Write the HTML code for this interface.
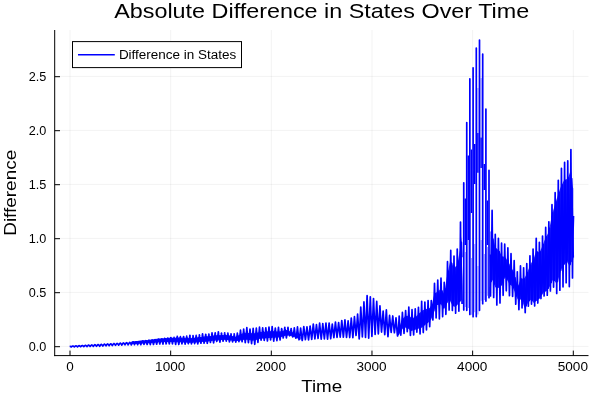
<!DOCTYPE html>
<html><head><meta charset="utf-8"><title>Absolute Difference in States Over Time</title>
<style>html,body{margin:0;padding:0;background:#fff;overflow:hidden}text{fill:#000}.tx{filter:grayscale(1)}body{width:600px;height:400px}</style></head>
<body>
<svg width="600" height="400" viewBox="0 0 600 400" style="will-change:transform;display:block;font-family:'Liberation Sans',sans-serif">
<rect width="600" height="400" fill="#fff"/>
<line x1="70.00" x2="70.00" y1="30.0" y2="355.6" stroke="#000" stroke-opacity="0.1" stroke-width="0.5"/>
<line x1="170.66" x2="170.66" y1="30.0" y2="355.6" stroke="#000" stroke-opacity="0.1" stroke-width="0.5"/>
<line x1="271.32" x2="271.32" y1="30.0" y2="355.6" stroke="#000" stroke-opacity="0.1" stroke-width="0.5"/>
<line x1="371.98" x2="371.98" y1="30.0" y2="355.6" stroke="#000" stroke-opacity="0.1" stroke-width="0.5"/>
<line x1="472.64" x2="472.64" y1="30.0" y2="355.6" stroke="#000" stroke-opacity="0.1" stroke-width="0.5"/>
<line x1="573.30" x2="573.30" y1="30.0" y2="355.6" stroke="#000" stroke-opacity="0.1" stroke-width="0.5"/>
<line x1="54.7" x2="588.5" y1="346.40" y2="346.40" stroke="#000" stroke-opacity="0.1" stroke-width="0.5"/>
<line x1="54.7" x2="588.5" y1="292.40" y2="292.40" stroke="#000" stroke-opacity="0.1" stroke-width="0.5"/>
<line x1="54.7" x2="588.5" y1="238.40" y2="238.40" stroke="#000" stroke-opacity="0.1" stroke-width="0.5"/>
<line x1="54.7" x2="588.5" y1="184.40" y2="184.40" stroke="#000" stroke-opacity="0.1" stroke-width="0.5"/>
<line x1="54.7" x2="588.5" y1="130.40" y2="130.40" stroke="#000" stroke-opacity="0.1" stroke-width="0.5"/>
<line x1="54.7" x2="588.5" y1="76.40" y2="76.40" stroke="#000" stroke-opacity="0.1" stroke-width="0.5"/>
<path d="M131.30,341.50 131.74,341.45 132.24,341.41 132.75,341.36 133.19,341.32 133.69,341.27 134.19,341.22 134.64,341.18 135.14,341.13 135.64,341.08 136.08,341.04 136.59,340.99 137.09,340.94 137.60,340.89 138.04,340.85 138.54,340.80 139.04,340.75 139.49,340.71 139.99,340.66 140.49,340.62 140.93,340.57 141.44,340.53 141.94,340.48 142.39,340.43 142.89,340.39 143.39,340.34 143.89,340.29 144.33,340.25 144.84,340.20 145.34,340.15 145.78,340.11 146.29,340.06 146.79,340.01 147.23,339.97 147.74,339.92 148.24,339.87 148.72,339.83 149.18,339.78 149.69,339.73 150.19,339.68 150.63,339.62 151.14,339.56 151.64,339.49 152.08,339.44 152.59,339.37 153.09,339.30 153.53,339.25 154.03,339.18 154.54,339.12 155.04,339.05 155.48,338.99 155.99,338.93 156.49,338.86 156.93,338.81 157.44,338.74 157.94,338.68 158.38,338.62 158.88,338.55 159.39,338.49 159.83,338.43 160.33,338.39 160.84,338.35 161.34,338.32 161.78,338.29 162.28,338.25 162.79,338.22 163.23,338.19 163.73,338.16 164.24,338.13 164.68,338.10 165.18,338.07 165.69,338.04 166.13,338.01 166.63,337.98 167.13,337.96 167.64,337.93 168.08,337.90 168.58,337.88 169.09,337.85 169.53,337.83 170.03,337.81 170.54,337.79 170.98,337.77 171.48,337.76 171.98,337.74 172.46,337.73 172.93,337.71 173.43,337.70 173.94,337.69 174.38,337.68 174.88,337.67 175.39,337.66 175.83,337.65 176.33,337.64 176.83,337.63 177.27,337.63 177.78,337.62 178.28,337.62 178.79,337.61 179.23,337.61 179.73,337.61 180.23,337.61 180.68,337.63 181.18,337.64 181.68,337.66 182.12,337.68 182.63,337.69 183.13,337.71 183.57,337.73 184.08,337.74 184.58,337.76 185.08,337.78 185.53,337.80 186.03,337.82 186.53,337.84 186.97,337.85 187.48,337.87 187.98,337.89 188.42,337.91 188.93,337.93 189.43,337.95 189.87,337.97 190.38,337.96 190.88,337.93 191.38,337.91 191.82,337.89 192.33,337.86 192.83,337.84 193.27,337.81 193.78,337.79 194.28,337.77 194.72,337.74 195.22,337.70 195.73,337.64 196.20,337.59 196.67,337.53 197.18,337.47 197.68,337.41 198.12,337.36 198.63,337.30 199.13,337.24 199.57,337.18 200.07,337.12 200.58,337.06 201.02,337.01 201.52,336.95 202.03,336.89 202.53,336.83 202.97,336.78 203.48,336.72 203.98,336.66 204.42,336.60 204.92,336.54 205.43,336.49 205.87,336.44 206.37,336.38 206.88,336.32 207.32,336.27 207.82,336.22 208.33,336.16 208.83,336.10 209.27,336.05 209.77,336.00 210.28,335.94 210.72,335.89 211.22,335.83 211.73,335.78 212.17,335.73 212.67,335.67 213.17,335.62 213.62,335.57 214.12,335.51 214.62,335.45 215.13,335.40 215.57,335.38 216.07,335.35 216.58,335.32 217.02,335.30 217.52,335.27 218.02,335.24 218.47,335.21 218.97,335.19 219.47,335.16 219.93,335.13 220.42,335.10 220.92,335.07 221.43,335.05 221.87,335.02 222.37,334.99 222.87,334.96 223.32,334.94 223.82,334.91 224.32,334.88 224.76,334.86 225.27,334.88 225.77,334.95 226.26,335.02 226.72,335.09 227.22,335.16 227.72,335.23 228.16,335.29 228.67,335.36 229.17,335.43 229.61,335.50 230.12,335.57 230.62,335.64 231.06,335.71 231.57,335.82 232.07,335.93 232.57,336.04 233.01,336.14 233.52,336.26 234.02,336.37 234.46,336.47 234.97,336.58 235.47,336.69 235.91,336.79 236.42,336.57 236.92,336.28 237.36,336.02 237.86,335.73 238.37,335.43 238.87,335.14 239.31,334.88 239.82,334.59 240.32,334.37 240.76,334.22 241.27,334.04 241.77,333.87 242.21,333.71 242.71,333.54 243.22,333.36 243.67,333.21 244.16,333.04 244.67,332.86 245.17,332.75 245.61,332.78 246.12,332.81 246.62,332.85 247.06,332.87 247.56,332.91 248.07,332.94 248.51,332.97 249.01,333.00 249.52,333.03 250.00,333.06 250.46,333.09 250.96,333.12 251.47,333.15 251.91,333.18 252.41,333.21 252.92,333.25 253.36,333.27 253.86,333.31 254.37,333.24 254.81,333.14 255.31,333.04 255.81,332.93 256.32,332.83 256.76,332.73 257.26,332.63 257.77,332.52 258.21,332.43 258.71,332.32 259.22,332.22 259.66,332.13 260.16,332.04 260.66,331.99 261.10,331.95 261.61,331.90 262.11,331.86 262.62,331.81 263.06,331.77 263.56,331.72 264.07,331.67 264.51,331.63 265.01,331.59 265.51,331.54 265.95,331.50 266.46,331.45 266.96,331.40 267.41,331.36 267.91,331.32 268.41,331.27 268.91,331.22 269.36,331.18 269.86,331.13 270.36,331.14 270.80,331.16 271.31,331.18 271.81,331.21 272.25,331.23 272.76,331.25 273.26,331.28 273.74,331.30 274.21,331.32 274.71,331.35 275.21,331.37 275.65,331.39 276.16,331.42 276.66,331.44 277.10,331.46 277.61,331.49 278.11,331.51 278.55,331.53 279.06,331.56 279.56,331.58 280.06,331.59 280.50,331.46 281.01,331.32 281.51,331.18 281.95,331.05 282.46,330.91 282.96,330.77 283.40,330.65 283.90,330.50 284.41,330.36 284.85,330.24 285.35,330.10 285.86,329.95 286.36,330.01 286.80,330.12 287.31,330.26 287.81,330.39 288.25,330.59 288.75,330.89 289.26,331.17 289.70,331.41 290.20,331.62 290.71,331.77 291.15,331.90 291.65,332.07 292.16,332.24 292.66,332.43 293.10,332.61 293.60,332.81 294.11,333.03 294.55,333.24 295.05,333.48 295.56,333.79 296.00,334.07 296.50,334.39 297.01,334.71 297.47,335.01 297.95,335.33 298.45,335.66 298.96,336.00 299.40,336.30 299.90,336.65 300.41,337.07 L300.41,339.77 299.90,339.47 299.40,339.25 298.96,339.05 298.45,338.83 297.95,338.61 297.47,338.41 297.01,338.21 296.50,338.00 296.00,337.79 295.56,337.60 295.05,337.40 294.55,337.21 294.11,337.06 293.60,336.89 293.10,336.72 292.66,336.58 292.16,336.42 291.65,336.27 291.15,336.12 290.71,335.99 290.20,335.85 289.70,335.75 289.26,335.69 288.75,335.61 288.25,335.53 287.81,335.48 287.31,335.47 286.80,335.45 286.36,335.44 285.86,335.47 285.35,335.63 284.85,335.78 284.41,335.92 283.90,336.08 283.40,336.24 282.96,336.37 282.46,336.53 281.95,336.69 281.51,336.83 281.01,336.99 280.50,337.14 280.06,337.28 279.56,337.33 279.06,337.37 278.55,337.40 278.11,337.43 277.61,337.47 277.10,337.50 276.66,337.53 276.16,337.57 275.65,337.60 275.21,337.64 274.71,337.67 274.21,337.71 273.74,337.74 273.26,337.77 272.76,337.81 272.25,337.84 271.81,337.87 271.31,337.91 270.80,337.94 270.36,337.97 269.86,338.01 269.36,338.04 268.91,338.07 268.41,338.11 267.91,338.14 267.41,338.18 266.96,338.21 266.46,338.24 265.95,338.27 265.51,338.30 265.01,338.34 264.51,338.37 264.07,338.40 263.56,338.43 263.06,338.47 262.62,338.50 262.11,338.53 261.61,338.57 261.10,338.60 260.66,338.63 260.16,338.66 259.66,338.79 259.22,338.94 258.71,339.10 258.21,339.27 257.77,339.42 257.26,339.59 256.76,339.76 256.32,339.90 255.81,340.07 255.31,340.24 254.81,340.41 254.37,340.55 253.86,340.66 253.36,340.59 252.92,340.54 252.41,340.48 251.91,340.41 251.47,340.36 250.96,340.30 250.46,340.23 250.00,340.17 249.52,340.11 249.01,340.05 248.51,339.99 248.07,339.93 247.56,339.87 247.06,339.81 246.62,339.75 246.12,339.69 245.61,339.63 245.17,339.57 244.67,339.62 244.16,339.72 243.67,339.82 243.22,339.91 242.71,340.01 242.21,340.11 241.77,340.20 241.27,340.30 240.76,340.40 240.32,340.49 239.82,340.58 239.31,340.67 238.87,340.75 238.37,340.84 237.86,340.92 237.36,341.01 236.92,341.09 236.42,341.18 235.91,341.24 235.47,341.17 234.97,341.10 234.46,341.02 234.02,340.95 233.52,340.88 233.01,340.80 232.57,340.74 232.07,340.66 231.57,340.58 231.06,340.51 230.62,340.46 230.12,340.40 229.61,340.34 229.17,340.29 228.67,340.23 228.16,340.17 227.72,340.12 227.22,340.06 226.72,340.00 226.26,339.95 225.77,339.89 225.27,339.83 224.76,339.82 224.32,339.86 223.82,339.90 223.32,339.94 222.87,339.98 222.37,340.02 221.87,340.06 221.43,340.09 220.92,340.14 220.42,340.18 219.93,340.22 219.47,340.26 218.97,340.30 218.47,340.34 218.02,340.38 217.52,340.42 217.02,340.46 216.58,340.49 216.07,340.54 215.57,340.58 215.13,340.61 214.62,340.66 214.12,340.72 213.62,340.77 213.17,340.82 212.67,340.87 212.17,340.92 211.73,340.97 211.22,341.02 210.72,341.07 210.28,341.12 209.77,341.17 209.27,341.23 208.83,341.27 208.33,341.33 207.82,341.38 207.32,341.43 206.88,341.48 206.37,341.53 205.87,341.58 205.43,341.63 204.92,341.68 204.42,341.73 203.98,341.77 203.48,341.81 202.97,341.86 202.53,341.90 202.03,341.94 201.52,341.99 201.02,342.03 200.58,342.07 200.07,342.12 199.57,342.16 199.13,342.20 198.63,342.25 198.12,342.29 197.68,342.33 197.18,342.38 196.67,342.42 196.20,342.47 195.73,342.51 195.22,342.55 194.72,342.58 194.28,342.60 193.78,342.61 193.27,342.63 192.83,342.64 192.33,342.66 191.82,342.68 191.38,342.69 190.88,342.71 190.38,342.72 189.87,342.73 189.43,342.70 188.93,342.68 188.42,342.65 187.98,342.63 187.48,342.61 186.97,342.58 186.53,342.56 186.03,342.54 185.53,342.51 185.08,342.49 184.58,342.47 184.08,342.45 183.57,342.42 183.13,342.41 182.63,342.38 182.12,342.36 181.68,342.34 181.18,342.32 180.68,342.30 180.23,342.28 179.73,342.26 179.23,342.24 178.79,342.22 178.28,342.20 177.78,342.18 177.27,342.16 176.83,342.14 176.33,342.12 175.83,342.11 175.39,342.09 174.88,342.08 174.38,342.06 173.94,342.05 173.43,342.04 172.93,342.02 172.46,342.01 171.98,342.00 171.48,341.99 170.98,341.98 170.54,341.97 170.03,341.97 169.53,341.97 169.09,341.98 168.58,341.98 168.08,341.99 167.64,342.00 167.13,342.01 166.63,342.02 166.13,342.03 165.69,342.04 165.18,342.05 164.68,342.06 164.24,342.07 163.73,342.08 163.23,342.09 162.79,342.11 162.28,342.12 161.78,342.13 161.34,342.15 160.84,342.16 160.33,342.18 159.83,342.20 159.39,342.24 158.88,342.29 158.38,342.33 157.94,342.37 157.44,342.41 156.93,342.45 156.49,342.49 155.99,342.53 155.48,342.58 155.04,342.61 154.54,342.66 154.03,342.70 153.53,342.74 153.09,342.78 152.59,342.82 152.08,342.87 151.64,342.90 151.14,342.95 150.63,342.99 150.19,343.03 149.69,343.06 149.18,343.10 148.72,343.12 148.24,343.15 147.74,343.19 147.23,343.22 146.79,343.24 146.29,343.28 145.78,343.31 145.34,343.33 144.84,343.37 144.33,343.40 143.89,343.42 143.39,343.46 142.89,343.49 142.39,343.52 141.94,343.55 141.44,343.58 140.93,343.61 140.49,343.64 139.99,343.67 139.49,343.70 139.04,343.73 138.54,343.76 138.04,343.79 137.60,343.82 137.09,343.85 136.59,343.88 136.08,343.91 135.64,343.94 135.14,343.97 134.64,344.00 134.19,344.03 133.69,344.06 133.19,344.09 132.75,344.12 132.24,344.15 131.74,344.18 131.30,344.21Z M397.34,331.60 397.78,331.16 398.28,330.62 398.79,329.68 399.23,328.34 399.73,326.79 400.23,325.22 400.74,323.64 401.18,322.25 401.68,320.63 402.19,319.41 402.63,318.94 403.13,318.40 403.64,317.86 404.08,317.39 404.58,316.85 405.08,316.37 405.59,316.25 406.03,316.14 406.53,316.01 407.04,315.89 407.48,315.77 407.98,315.64 408.48,315.51 408.93,315.88 409.43,316.32 409.93,316.77 410.43,317.20 410.88,317.59 411.38,317.91 411.89,318.18 412.33,318.11 412.83,317.89 413.33,317.68 413.78,317.50 414.28,317.28 414.78,317.07 415.24,316.88 415.73,316.67 416.23,316.33 416.74,315.83 417.18,315.39 417.68,314.89 418.18,314.39 418.63,313.95 419.13,313.45 419.63,312.94 420.07,312.52 420.58,312.15 421.08,311.78 421.59,311.41 422.03,311.07 422.53,310.54 423.03,310.04 423.47,309.89 423.98,309.73 424.48,309.56 424.92,309.42 425.43,309.26 425.93,309.10 426.43,308.93 426.88,308.82 427.38,308.70 427.88,308.58 428.32,308.48 428.83,308.36 429.33,308.25 429.77,307.77 430.28,306.98 430.78,306.20 431.28,305.42 431.73,304.73 432.23,303.31 432.73,301.11 433.17,299.19 433.68,296.99 434.18,294.79 434.62,293.32 435.13,292.99 435.63,292.77 436.12,292.55 436.58,292.36 437.08,292.14 437.58,291.91 438.02,291.70 438.53,291.15 439.03,290.59 439.47,290.11 439.98,289.55 440.48,288.99 440.98,288.44 441.42,289.18 441.93,290.07 442.43,290.97 442.87,291.75 443.38,292.65 443.88,293.54 444.32,292.13 444.83,289.42 445.33,286.62 445.83,283.82 446.27,281.09 446.78,277.74 447.28,274.90 447.72,272.79 448.23,270.35 448.73,267.88 449.17,265.79 449.68,263.53 450.18,261.22 450.68,261.34 451.12,261.82 451.63,262.38 452.13,263.25 452.57,264.68 453.08,266.30 453.58,267.61 454.02,267.43 454.53,267.22 455.03,266.91 455.53,266.61 455.97,266.34 456.48,266.05 456.98,265.76 457.42,263.39 457.93,260.63 458.43,257.92 458.88,255.57 459.38,252.99 459.88,250.44 460.38,248.05 460.82,245.11 461.33,241.00 461.83,236.65 L461.83,300.08 461.33,300.61 460.82,301.09 460.38,301.39 459.88,301.69 459.38,302.30 458.88,302.93 458.43,303.49 457.93,304.14 457.42,304.81 456.98,305.39 456.48,305.69 455.97,305.99 455.53,306.26 455.03,306.56 454.53,306.87 454.02,306.65 453.58,306.44 453.08,305.96 452.57,305.43 452.13,304.97 451.63,304.11 451.12,303.12 450.68,302.23 450.18,301.28 449.68,300.86 449.17,300.48 448.73,300.70 448.23,301.37 447.72,302.05 447.28,302.67 446.78,303.54 446.27,304.64 445.83,305.59 445.33,306.66 444.83,307.80 444.32,308.78 443.88,309.02 443.38,308.25 442.87,307.45 442.43,306.73 441.93,305.87 441.42,304.97 440.98,304.20 440.48,304.30 439.98,304.42 439.47,304.54 439.03,304.65 438.53,304.78 438.02,304.92 437.58,304.92 437.08,304.90 436.58,305.56 436.12,306.26 435.63,307.02 435.13,307.78 434.62,308.78 434.18,310.23 433.68,311.96 433.17,313.58 432.73,314.95 432.23,316.46 431.73,317.64 431.28,318.46 430.78,319.39 430.28,320.32 429.77,321.10 429.33,321.57 428.83,321.98 428.32,322.38 427.88,322.74 427.38,323.14 426.88,323.54 426.43,323.90 425.93,324.31 425.43,324.71 424.92,325.11 424.48,325.46 423.98,325.86 423.47,326.26 423.03,326.61 422.53,327.11 422.03,327.62 421.59,327.74 421.08,327.86 420.58,327.97 420.07,328.09 419.63,328.23 419.13,328.39 418.63,328.55 418.18,328.69 417.68,328.86 417.18,329.03 416.74,329.17 416.23,329.34 415.73,329.51 415.24,329.67 414.78,329.83 414.28,330.00 413.78,330.16 413.33,330.31 412.83,330.48 412.33,330.65 411.89,330.76 411.38,330.76 410.88,330.66 410.43,330.31 409.93,329.92 409.43,329.52 408.93,329.13 408.48,328.79 407.98,328.60 407.48,328.41 407.04,328.24 406.53,328.06 406.03,327.87 405.59,327.71 405.08,327.53 404.58,327.67 404.08,327.88 403.64,328.06 403.13,328.27 402.63,328.48 402.19,328.67 401.68,329.34 401.18,330.28 400.74,331.10 400.23,332.03 399.73,332.95 399.23,333.86 398.79,334.66 398.28,334.95 397.78,334.86 397.34,334.76Z M490.43,230.81 490.87,231.86 491.37,233.38 491.87,235.23 492.32,236.17 492.82,237.76 493.32,239.44 493.76,240.98 494.27,242.83 494.77,244.75 495.26,246.70 495.72,247.74 496.22,248.16 496.72,248.59 497.16,248.96 497.67,249.38 498.17,249.81 498.61,250.13 499.12,250.55 499.62,251.58 500.06,252.46 500.57,253.44 501.07,254.39 501.56,255.30 502.01,256.02 502.52,256.39 503.02,256.53 503.46,256.62 503.97,256.67 504.47,256.67 504.91,256.92 505.42,257.61 505.92,258.43 506.36,259.15 506.86,259.98 507.37,260.81 507.87,261.65 508.31,262.41 508.82,263.47 509.32,264.58 509.76,265.54 510.27,266.49 510.77,267.30 511.21,267.99 511.71,268.78 512.22,269.64 512.66,270.52 513.16,271.84 513.67,273.15 514.17,274.46 514.61,275.62 515.11,277.33 515.62,279.15 516.06,280.67 516.56,282.41 517.07,284.14 517.51,285.62 518.01,285.51 518.52,284.82 518.96,283.66 519.46,282.33 519.96,280.99 520.47,279.63 520.91,278.46 521.41,278.20 521.92,278.18 522.36,278.43 522.86,278.70 523.37,278.96 523.81,279.07 524.31,278.30 524.81,277.48 525.26,276.68 525.76,275.69 526.26,274.71 526.77,273.73 527.21,272.65 527.71,271.31 528.22,270.02 528.66,268.94 529.16,267.71 529.66,266.47 530.10,265.42 530.61,264.32 531.11,263.29 531.55,262.58 532.06,261.75 532.56,260.92 533.06,260.07 533.51,258.93 534.01,257.47 534.51,255.89 534.95,254.50 535.46,252.91 535.96,251.31 536.40,250.51 536.91,250.89 537.41,251.23 537.85,251.54 538.36,251.89 538.86,252.25 539.36,252.62 539.80,251.77 540.31,250.67 540.81,249.58 541.25,248.63 541.76,247.54 542.26,246.44 542.70,245.34 543.21,243.91 543.71,242.56 544.15,241.37 544.65,240.01 545.16,238.65 545.66,237.45 546.10,236.71 546.61,235.86 547.11,234.97 547.55,234.15 548.05,233.22 548.56,232.28 549.00,230.61 549.50,227.96 550.01,225.30 550.45,222.93 550.95,220.23 551.46,217.52 551.96,214.90 552.40,213.31 552.90,211.49 553.41,209.81 553.85,208.41 554.35,206.80 554.86,205.19 555.30,203.61 555.80,201.72 556.31,200.10 556.75,198.85 557.25,197.43 557.75,195.79 558.26,194.18 558.70,192.82 559.20,191.27 559.71,189.72 560.15,188.49 560.65,187.13 561.16,185.79 561.60,185.05 562.10,184.27 562.60,183.26 563.04,182.37 563.55,181.35 564.05,180.32 564.56,179.58 565.00,179.49 565.50,179.38 566.01,179.28 566.45,179.19 566.95,179.11 567.45,179.29 567.89,178.22 568.40,176.83 568.90,175.44 569.34,174.22 569.85,172.83 570.35,171.10 570.85,169.22 571.30,173.15 571.80,178.38 572.30,183.61 572.74,186.56 573.25,188.43 L573.25,259.15 572.74,260.39 572.30,261.21 571.80,261.78 571.30,262.35 570.85,262.97 570.35,264.96 569.85,266.13 569.34,265.43 568.90,264.82 568.40,264.13 567.89,263.43 567.45,262.79 566.95,261.78 566.45,262.20 566.01,262.70 565.50,263.28 565.00,263.86 564.56,264.36 564.05,265.07 563.55,265.79 563.04,266.45 562.60,267.02 562.10,267.67 561.60,268.89 561.16,270.09 560.65,271.55 560.15,273.13 559.71,274.64 559.20,276.36 558.70,278.08 558.26,279.56 557.75,281.26 557.25,282.95 556.75,282.95 556.31,282.92 555.80,282.66 555.30,282.11 554.86,281.61 554.35,281.01 553.85,280.41 553.41,279.87 552.90,279.89 552.40,280.90 551.96,281.78 551.46,282.87 550.95,283.96 550.45,285.05 550.01,285.99 549.50,286.89 549.00,287.78 548.56,288.49 548.05,289.20 547.55,289.92 547.11,290.55 546.61,290.98 546.10,291.21 545.66,291.41 545.16,291.67 544.65,291.94 544.15,292.20 543.71,292.43 543.21,292.69 542.70,293.45 542.26,294.21 541.76,295.07 541.25,295.92 540.81,296.67 540.31,297.52 539.80,298.26 539.36,298.74 538.86,299.18 538.36,299.61 537.85,300.04 537.41,300.41 536.91,300.83 536.40,301.01 535.96,301.27 535.46,301.64 534.95,302.02 534.51,302.35 534.01,302.73 533.51,302.65 533.06,302.14 532.56,301.52 532.06,300.91 531.55,300.30 531.11,299.78 530.61,300.07 530.10,300.63 529.66,301.12 529.16,301.70 528.66,302.27 528.22,302.78 527.71,303.61 527.21,304.63 526.77,305.51 526.26,306.47 525.76,307.44 525.26,308.40 524.81,308.37 524.31,307.02 523.81,305.70 523.37,304.43 522.86,302.95 522.36,301.49 521.92,300.21 521.41,299.52 520.91,299.37 520.47,299.53 519.96,299.73 519.46,299.95 518.96,300.18 518.52,300.38 518.01,299.52 517.51,299.08 517.07,297.98 516.56,296.70 516.06,295.42 515.62,294.30 515.11,292.91 514.61,291.49 514.17,290.41 513.67,289.17 513.16,287.93 512.66,286.69 512.22,286.13 511.71,285.83 511.21,285.56 510.77,285.33 510.27,285.06 509.76,284.49 509.32,283.71 508.82,282.81 508.31,281.94 507.87,281.24 507.37,280.46 506.86,279.69 506.36,278.95 505.92,278.30 505.42,277.55 504.91,276.88 504.47,277.54 503.97,279.09 503.46,280.64 503.02,282.00 502.52,283.55 502.01,285.04 501.56,285.61 501.07,285.95 500.57,286.31 500.06,286.66 499.62,286.97 499.12,287.32 498.61,287.94 498.17,288.03 497.67,287.92 497.16,287.81 496.72,287.71 496.22,287.60 495.72,287.49 495.26,287.29 494.77,285.92 494.27,284.53 493.76,283.20 493.32,282.08 492.82,280.85 492.32,279.68 491.87,280.65 491.37,282.05 490.87,283.68 490.43,285.27Z" fill="#0000ff" fill-opacity="0.85" stroke="none"/>
<path d="M131.30,342.84 131.32,342.85 131.36,342.88 131.42,342.91 131.49,342.95 131.55,342.98 131.61,343.02 131.68,343.06 131.74,343.09 131.80,343.13 131.86,343.17 131.93,343.20 131.99,343.24 132.05,343.28 132.12,343.30 132.18,343.26 132.24,343.21 132.30,343.16 132.37,343.12 132.43,343.07 132.49,343.03 132.56,342.98 132.62,342.93 132.68,342.89 132.75,342.84 132.81,342.79 132.87,342.75 132.90,342.73 132.93,342.70 133.00,342.65 133.06,342.60 133.12,342.56 133.19,342.51 133.25,342.46 133.31,342.41 133.38,342.36 133.44,342.31 133.50,342.26 133.56,342.22 133.63,342.17 133.69,342.12 133.75,342.16 133.82,342.19 133.88,342.23 133.94,342.27 134.01,342.31 134.07,342.35 134.13,342.38 134.19,342.42 134.26,342.46 134.32,342.50 134.38,342.54 134.45,342.58 134.48,342.60 134.51,342.62 134.57,342.66 134.64,342.70 134.70,342.74 134.76,342.78 134.82,342.82 134.89,342.86 134.95,342.90 135.01,342.94 135.08,342.98 135.14,343.02 135.20,343.07 135.27,343.11 135.33,343.07 135.39,343.02 135.45,342.97 135.52,342.92 135.58,342.87 135.64,342.82 135.71,342.77 135.77,342.71 135.83,342.66 135.89,342.61 135.96,342.56 136.02,342.51 136.06,342.48 136.08,342.46 136.15,342.41 136.21,342.36 136.27,342.30 136.34,342.25 136.40,342.20 136.46,342.15 136.52,342.09 136.59,342.04 136.65,341.99 136.71,341.93 136.78,341.88 136.84,341.83 136.90,341.85 136.97,341.89 137.03,341.93 137.09,341.97 137.15,342.02 137.22,342.06 137.28,342.10 137.34,342.14 137.41,342.19 137.47,342.23 137.53,342.27 137.60,342.32 137.65,342.35 137.66,342.36 137.72,342.40 137.78,342.45 137.85,342.49 137.91,342.54 137.97,342.58 138.04,342.63 138.10,342.67 138.16,342.72 138.23,342.76 138.29,342.81 138.35,342.85 138.41,342.90 138.48,342.88 138.54,342.83 138.60,342.77 138.67,342.72 138.73,342.66 138.79,342.61 138.86,342.55 138.92,342.50 138.98,342.44 139.04,342.39 139.11,342.33 139.17,342.28 139.23,342.23 139.23,342.22 139.30,342.17 139.36,342.11 139.42,342.05 139.49,342.00 139.55,341.94 139.61,341.88 139.67,341.83 139.74,341.77 139.80,341.71 139.86,341.65 139.93,341.60 139.99,341.54 140.05,341.54 140.11,341.58 140.18,341.63 140.24,341.67 140.30,341.72 140.37,341.77 140.43,341.81 140.49,341.86 140.56,341.91 140.62,341.96 140.68,342.00 140.74,342.05 140.81,342.10 140.81,342.10 140.87,342.15 140.93,342.20 141.00,342.24 141.06,342.29 141.12,342.34 141.19,342.39 141.25,342.44 141.31,342.49 141.37,342.54 141.44,342.59 141.50,342.64 141.56,342.69 141.63,342.69 141.69,342.64 141.75,342.58 141.82,342.52 141.88,342.46 141.94,342.40 142.00,342.34 142.07,342.28 142.13,342.22 142.19,342.17 142.26,342.11 142.32,342.05 142.38,341.99 142.39,341.98 142.45,341.93 142.51,341.87 142.57,341.80 142.63,341.74 142.70,341.68 142.76,341.62 142.82,341.56 142.89,341.50 142.95,341.44 143.01,341.38 143.08,341.32 143.14,341.25 143.20,341.22 143.26,341.27 143.33,341.32 143.39,341.37 143.45,341.42 143.52,341.47 143.58,341.53 143.64,341.58 143.70,341.63 143.77,341.68 143.83,341.73 143.89,341.78 143.96,341.84 143.97,341.85 144.02,341.89 144.08,341.94 144.15,341.99 144.21,342.05 144.27,342.10 144.33,342.15 144.40,342.21 144.46,342.26 144.52,342.31 144.59,342.37 144.65,342.42 144.71,342.47 144.78,342.51 144.84,342.45 144.90,342.39 144.96,342.32 145.03,342.26 145.09,342.20 145.15,342.13 145.22,342.07 145.28,342.01 145.34,341.94 145.41,341.88 145.47,341.82 145.53,341.75 145.56,341.73 145.59,341.69 145.66,341.62 145.72,341.56 145.78,341.49 145.85,341.43 145.91,341.36 145.97,341.30 146.04,341.23 146.10,341.17 146.16,341.10 146.22,341.04 146.29,340.97 146.35,340.91 146.41,340.96 146.48,341.02 146.54,341.07 146.60,341.12 146.67,341.18 146.73,341.24 146.79,341.29 146.85,341.35 146.92,341.40 146.98,341.46 147.04,341.51 147.11,341.57 147.14,341.60 147.17,341.63 147.23,341.68 147.29,341.74 147.36,341.80 147.42,341.85 147.48,341.91 147.55,341.97 147.61,342.03 147.67,342.08 147.74,342.14 147.80,342.20 147.86,342.26 147.92,342.32 147.99,342.26 148.05,342.20 148.11,342.13 148.18,342.06 148.24,342.00 148.30,341.93 148.37,341.86 148.43,341.79 148.49,341.73 148.55,341.66 148.62,341.59 148.68,341.52 148.72,341.48 148.74,341.45 148.81,341.38 148.87,341.32 148.93,341.25 149.00,341.18 149.06,341.11 149.12,341.04 149.18,340.97 149.25,340.90 149.31,340.83 149.37,340.76 149.44,340.69 149.50,340.62 149.56,340.65 149.63,340.71 149.69,340.76 149.75,340.82 149.81,340.88 149.88,340.94 149.94,341.00 150.00,341.06 150.07,341.12 150.13,341.18 150.19,341.24 150.26,341.30 150.30,341.34 150.32,341.35 150.38,341.41 150.44,341.47 150.51,341.53 150.57,341.59 150.63,341.65 150.70,341.71 150.76,341.77 150.82,341.83 150.88,341.90 150.95,341.96 151.01,342.02 151.07,342.08 151.14,342.05 151.20,341.98 151.26,341.91 151.33,341.84 151.39,341.76 151.45,341.69 151.51,341.61 151.58,341.54 151.64,341.47 151.70,341.39 151.77,341.32 151.83,341.24 151.89,341.17 151.89,341.17 151.96,341.09 152.02,341.01 152.08,340.94 152.14,340.86 152.21,340.79 152.27,340.71 152.33,340.63 152.40,340.56 152.46,340.48 152.52,340.40 152.59,340.32 152.65,340.25 152.71,340.24 152.77,340.30 152.84,340.36 152.90,340.43 152.96,340.49 153.03,340.55 153.09,340.62 153.15,340.68 153.22,340.74 153.28,340.81 153.34,340.87 153.40,340.94 153.47,341.00 153.47,341.00 153.53,341.06 153.59,341.13 153.66,341.19 153.72,341.26 153.78,341.33 153.85,341.39 153.91,341.46 153.97,341.52 154.03,341.59 154.10,341.66 154.16,341.72 154.22,341.79 154.29,341.80 154.35,341.72 154.41,341.64 154.47,341.56 154.54,341.48 154.60,341.41 154.66,341.33 154.73,341.25 154.79,341.17 154.85,341.09 154.92,341.01 154.98,340.93 155.04,340.85 155.05,340.83 155.10,340.76 155.17,340.68 155.23,340.60 155.29,340.52 155.36,340.44 155.42,340.36 155.48,340.27 155.55,340.19 155.61,340.11 155.67,340.03 155.73,339.94 155.80,339.86 155.86,339.82 155.92,339.88 155.99,339.95 156.05,340.02 156.11,340.09 156.18,340.16 156.24,340.23 156.30,340.29 156.36,340.36 156.43,340.43 156.49,340.50 156.55,340.57 156.62,340.64 156.63,340.66 156.68,340.71 156.74,340.78 156.81,340.85 156.87,340.92 156.93,340.99 156.99,341.07 157.06,341.14 157.12,341.21 157.18,341.28 157.25,341.35 157.31,341.43 157.37,341.50 157.44,341.55 157.50,341.46 157.56,341.38 157.62,341.30 157.69,341.21 157.75,341.13 157.81,341.04 157.88,340.96 157.94,340.87 158.00,340.79 158.06,340.70 158.13,340.61 158.19,340.53 158.22,340.49 158.25,340.44 158.32,340.35 158.38,340.27 158.44,340.18 158.51,340.09 158.57,340.01 158.63,339.92 158.69,339.83 158.76,339.74 158.82,339.65 158.88,339.56 158.95,339.48 159.01,339.39 159.07,339.46 159.14,339.54 159.20,339.61 159.26,339.68 159.32,339.76 159.39,339.83 159.45,339.91 159.51,339.98 159.58,340.06 159.64,340.13 159.70,340.21 159.77,340.28 159.80,340.32 159.83,340.36 159.89,340.43 159.95,340.51 160.02,340.59 160.08,340.67 160.14,340.75 160.21,340.83 160.27,340.91 160.33,340.99 160.40,341.07 160.46,341.15 160.52,341.23 160.58,341.31 160.65,341.24 160.71,341.16 160.77,341.07 160.84,340.99 160.90,340.90 160.96,340.81 161.03,340.72 161.09,340.64 161.15,340.55 161.21,340.46 161.28,340.38 161.34,340.29 161.38,340.23 161.40,340.20 161.47,340.11 161.53,340.02 161.59,339.93 161.65,339.85 161.72,339.76 161.78,339.67 161.84,339.58 161.91,339.49 161.97,339.40 162.03,339.31 162.10,339.22 162.16,339.13 162.22,339.17 162.28,339.25 162.35,339.34 162.41,339.42 162.47,339.50 162.54,339.58 162.60,339.67 162.66,339.75 162.73,339.83 162.79,339.92 162.85,340.00 162.91,340.09 162.96,340.15 162.98,340.17 163.04,340.26 163.10,340.34 163.17,340.43 163.23,340.51 163.29,340.60 163.36,340.68 163.42,340.77 163.48,340.85 163.54,340.94 163.61,341.03 163.67,341.11 163.73,341.20 163.80,341.17 163.86,341.08 163.92,340.99 163.99,340.90 164.05,340.81 164.11,340.72 164.17,340.63 164.24,340.54 164.30,340.44 164.36,340.35 164.43,340.26 164.49,340.17 164.55,340.08 164.55,340.08 164.62,339.98 164.68,339.89 164.74,339.80 164.80,339.70 164.87,339.61 164.93,339.52 164.99,339.42 165.06,339.33 165.12,339.24 165.18,339.14 165.25,339.05 165.31,338.95 165.37,338.95 165.43,339.04 165.50,339.13 165.56,339.22 165.62,339.30 165.69,339.39 165.75,339.48 165.81,339.57 165.87,339.66 165.94,339.75 166.00,339.84 166.06,339.93 166.13,340.02 166.13,340.02 166.19,340.11 166.25,340.20 166.32,340.29 166.38,340.38 166.44,340.47 166.50,340.56 166.57,340.65 166.63,340.74 166.69,340.83 166.76,340.92 166.82,341.01 166.88,341.11 166.95,341.12 167.01,341.03 167.07,340.93 167.13,340.84 167.20,340.74 167.26,340.65 167.32,340.55 167.39,340.46 167.45,340.36 167.51,340.27 167.58,340.17 167.64,340.07 167.70,339.98 167.71,339.96 167.76,339.88 167.83,339.78 167.89,339.69 167.95,339.59 168.02,339.49 168.08,339.39 168.14,339.30 168.21,339.20 168.27,339.10 168.33,339.00 168.39,338.90 168.46,338.80 168.52,338.76 168.58,338.85 168.65,338.94 168.71,339.04 168.77,339.13 168.84,339.22 168.90,339.32 168.96,339.41 169.02,339.50 169.09,339.60 169.15,339.69 169.21,339.79 169.28,339.88 169.29,339.91 169.34,339.98 169.40,340.07 169.46,340.17 169.53,340.26 169.59,340.36 169.65,340.45 169.72,340.55 169.78,340.64 169.84,340.74 169.91,340.84 169.97,340.93 170.03,341.03 170.09,341.10 170.16,341.00 170.22,340.91 170.28,340.81 170.35,340.71 170.41,340.61 170.47,340.52 170.54,340.42 170.60,340.32 170.66,340.22 170.72,340.12 170.79,340.02 170.85,339.92 170.88,339.88 170.91,339.82 170.98,339.72 171.04,339.62 171.10,339.52 171.17,339.42 171.23,339.32 171.29,339.21 171.35,339.11 171.42,339.01 171.48,338.91 171.54,338.80 171.61,338.70 171.67,338.60 171.73,338.70 171.80,338.80 171.86,338.90 171.92,339.00 171.98,339.10 172.05,339.20 172.11,339.31 172.17,339.41 172.24,339.51 172.30,339.61 172.36,339.71 172.43,339.81 172.46,339.87 172.49,339.92 172.55,340.02 172.61,340.12 172.68,340.23 172.74,340.33 172.80,340.43 172.87,340.54 172.93,340.64 172.99,340.75 173.05,340.85 173.12,340.96 173.18,341.06 173.24,341.17 173.31,341.09 173.37,340.99 173.43,340.88 173.50,340.78 173.56,340.67 173.62,340.57 173.68,340.47 173.75,340.36 173.81,340.26 173.87,340.15 173.94,340.05 174.00,339.94 174.04,339.87 174.06,339.83 174.13,339.73 174.19,339.62 174.25,339.51 174.31,339.41 174.38,339.30 174.44,339.19 174.50,339.09 174.57,338.98 174.63,338.87 174.69,338.76 174.76,338.65 174.82,338.54 174.88,338.60 174.94,338.71 175.01,338.82 175.07,338.92 175.13,339.03 175.20,339.14 175.26,339.25 175.32,339.35 175.39,339.46 175.45,339.57 175.51,339.68 175.57,339.79 175.62,339.88 175.64,339.90 175.70,340.01 175.76,340.12 175.83,340.23 175.89,340.34 175.95,340.45 176.02,340.56 176.08,340.67 176.14,340.79 176.20,340.90 176.27,341.01 176.33,341.12 176.39,341.24 176.46,341.21 176.52,341.10 176.58,340.99 176.64,340.88 176.71,340.77 176.77,340.66 176.83,340.55 176.90,340.44 176.96,340.33 177.02,340.22 177.09,340.11 177.15,339.99 177.21,339.89 177.21,339.88 177.27,339.77 177.34,339.66 177.40,339.55 177.46,339.43 177.53,339.32 177.59,339.21 177.65,339.09 177.72,338.98 177.78,338.87 177.84,338.75 177.90,338.64 177.97,338.52 178.03,338.53 178.09,338.64 178.16,338.76 178.22,338.87 178.28,338.99 178.35,339.10 178.41,339.22 178.47,339.33 178.53,339.45 178.60,339.56 178.66,339.68 178.72,339.79 178.79,339.91 178.79,339.91 178.85,340.03 178.91,340.14 178.98,340.26 179.04,340.38 179.10,340.50 179.16,340.62 179.23,340.73 179.29,340.85 179.35,340.97 179.42,341.09 179.48,341.21 179.54,341.33 179.61,341.36 179.67,341.24 179.73,341.13 179.79,341.01 179.86,340.90 179.92,340.78 179.98,340.66 180.05,340.55 180.11,340.43 180.17,340.32 180.23,340.20 180.30,340.09 180.36,339.97 180.37,339.95 180.42,339.85 180.49,339.74 180.55,339.62 180.61,339.51 180.68,339.39 180.74,339.28 180.80,339.16 180.86,339.04 180.93,338.93 180.99,338.81 181.05,338.69 181.12,338.58 181.18,338.53 181.24,338.65 181.31,338.77 181.37,338.89 181.43,339.01 181.49,339.13 181.56,339.25 181.62,339.37 181.68,339.49 181.75,339.61 181.81,339.73 181.87,339.86 181.94,339.98 181.95,340.01 182.00,340.10 182.06,340.22 182.12,340.34 182.19,340.46 182.25,340.58 182.31,340.70 182.38,340.83 182.44,340.95 182.50,341.07 182.57,341.19 182.63,341.31 182.69,341.43 182.75,341.52 182.82,341.40 182.88,341.29 182.94,341.17 183.01,341.06 183.07,340.94 183.13,340.82 183.20,340.71 183.26,340.59 183.32,340.47 183.38,340.36 183.45,340.24 183.51,340.12 183.54,340.07 183.57,340.01 183.64,339.89 183.70,339.77 183.76,339.65 183.82,339.54 183.89,339.42 183.95,339.30 184.01,339.19 184.08,339.07 184.14,338.95 184.20,338.83 184.27,338.72 184.33,338.61 184.39,338.73 184.45,338.85 184.52,338.97 184.58,339.09 184.64,339.22 184.71,339.34 184.77,339.46 184.83,339.58 184.90,339.71 184.96,339.83 185.02,339.95 185.08,340.07 185.12,340.14 185.15,340.20 185.21,340.32 185.27,340.44 185.34,340.56 185.40,340.69 185.46,340.81 185.53,340.93 185.59,341.05 185.65,341.18 185.71,341.30 185.78,341.42 185.84,341.55 185.90,341.67 185.97,341.58 186.03,341.46 186.09,341.34 186.16,341.23 186.22,341.11 186.28,340.99 186.34,340.87 186.41,340.76 186.47,340.64 186.53,340.52 186.60,340.40 186.66,340.28 186.70,340.21 186.72,340.17 186.79,340.05 186.85,339.93 186.91,339.81 186.97,339.69 187.04,339.58 187.10,339.46 187.16,339.34 187.23,339.22 187.29,339.10 187.35,338.99 187.41,338.87 187.48,338.75 187.54,338.82 187.60,338.94 187.67,339.06 187.73,339.19 187.79,339.31 187.86,339.44 187.92,339.56 187.98,339.68 188.04,339.81 188.11,339.93 188.17,340.05 188.23,340.18 188.28,340.28 188.30,340.30 188.36,340.43 188.42,340.55 188.49,340.67 188.55,340.80 188.61,340.92 188.67,341.05 188.74,341.17 188.80,341.29 188.86,341.42 188.93,341.54 188.99,341.67 189.05,341.79 189.12,341.76 189.18,341.64 189.24,341.52 189.30,341.40 189.37,341.29 189.43,341.17 189.49,341.05 189.56,340.93 189.62,340.81 189.68,340.69 189.75,340.58 189.81,340.46 189.87,340.35 189.87,340.34 189.93,340.22 190.00,340.10 190.06,339.98 190.12,339.85 190.19,339.73 190.25,339.60 190.31,339.48 190.38,339.35 190.44,339.23 190.50,339.10 190.56,338.98 190.63,338.85 190.69,338.85 190.75,338.97 190.82,339.09 190.88,339.21 190.94,339.33 191.01,339.45 191.07,339.57 191.13,339.69 191.19,339.81 191.26,339.93 191.32,340.05 191.38,340.17 191.45,340.29 191.45,340.30 191.51,340.41 191.57,340.53 191.63,340.65 191.70,340.77 191.76,340.89 191.82,341.01 191.89,341.13 191.95,341.26 192.01,341.38 192.08,341.50 192.14,341.62 192.20,341.74 192.26,341.76 192.33,341.64 192.39,341.51 192.45,341.39 192.52,341.26 192.58,341.13 192.64,341.01 192.71,340.88 192.77,340.76 192.83,340.63 192.89,340.51 192.96,340.38 193.02,340.25 193.03,340.23 193.08,340.13 193.15,340.00 193.21,339.87 193.27,339.75 193.34,339.62 193.40,339.49 193.46,339.37 193.52,339.24 193.59,339.11 193.65,338.98 193.71,338.86 193.78,338.73 193.84,338.67 193.90,338.79 193.97,338.91 194.03,339.04 194.09,339.16 194.15,339.28 194.22,339.40 194.28,339.52 194.34,339.64 194.41,339.77 194.47,339.89 194.53,340.01 194.60,340.13 194.61,340.17 194.66,340.25 194.72,340.38 194.78,340.50 194.85,340.62 194.91,340.75 194.97,340.87 195.04,340.99 195.10,341.11 195.16,341.23 195.22,341.35 195.29,341.47 195.35,341.59 195.41,341.67 195.48,341.54 195.54,341.41 195.60,341.27 195.67,341.14 195.73,341.01 195.79,340.88 195.85,340.75 195.92,340.61 195.98,340.48 196.04,340.35 196.11,340.22 196.17,340.08 196.20,340.03 196.23,339.95 196.30,339.82 196.36,339.68 196.42,339.55 196.48,339.41 196.55,339.28 196.61,339.15 196.67,339.01 196.74,338.88 196.80,338.74 196.86,338.61 196.93,338.47 196.99,338.35 197.05,338.47 197.11,338.59 197.18,338.71 197.24,338.83 197.30,338.95 197.37,339.07 197.43,339.19 197.49,339.31 197.56,339.43 197.62,339.55 197.68,339.67 197.74,339.80 197.78,339.86 197.81,339.92 197.87,340.04 197.93,340.16 198.00,340.28 198.06,340.41 198.12,340.53 198.19,340.65 198.25,340.77 198.31,340.90 198.37,341.02 198.44,341.14 198.50,341.27 198.56,341.39 198.63,341.28 198.69,341.15 198.75,341.01 198.81,340.88 198.88,340.74 198.94,340.60 199.00,340.47 199.07,340.33 199.13,340.20 199.19,340.06 199.26,339.92 199.32,339.79 199.36,339.70 199.38,339.65 199.44,339.51 199.51,339.38 199.57,339.24 199.63,339.10 199.70,338.96 199.76,338.83 199.82,338.69 199.89,338.55 199.95,338.41 200.01,338.27 200.07,338.13 200.14,338.00 200.20,338.06 200.26,338.18 200.33,338.31 200.39,338.43 200.45,338.56 200.52,338.68 200.58,338.81 200.64,338.93 200.70,339.05 200.77,339.18 200.83,339.31 200.89,339.43 200.94,339.53 200.96,339.56 201.02,339.68 201.08,339.81 201.15,339.93 201.21,340.06 201.27,340.19 201.33,340.31 201.40,340.44 201.46,340.57 201.52,340.69 201.59,340.82 201.65,340.95 201.71,341.07 201.78,341.03 201.84,340.89 201.90,340.75 201.96,340.61 202.03,340.47 202.09,340.33 202.15,340.19 202.22,340.05 202.28,339.91 202.34,339.77 202.40,339.63 202.47,339.49 202.53,339.36 202.53,339.35 202.59,339.21 202.66,339.07 202.72,338.93 202.78,338.79 202.85,338.65 202.91,338.51 202.97,338.36 203.03,338.22 203.10,338.08 203.16,337.94 203.22,337.80 203.29,337.65 203.35,337.65 203.41,337.78 203.48,337.91 203.54,338.04 203.60,338.16 203.66,338.29 203.73,338.42 203.79,338.55 203.85,338.68 203.92,338.81 203.98,338.93 204.04,339.06 204.11,339.19 204.11,339.20 204.17,339.32 204.23,339.45 204.29,339.58 204.36,339.71 204.42,339.84 204.48,339.97 204.55,340.10 204.61,340.23 204.67,340.36 204.74,340.49 204.80,340.62 204.86,340.76 204.92,340.78 204.99,340.63 205.05,340.49 205.11,340.35 205.18,340.20 205.24,340.06 205.30,339.92 205.37,339.77 205.43,339.63 205.49,339.49 205.55,339.34 205.62,339.20 205.68,339.05 205.69,339.03 205.74,338.91 205.81,338.77 205.87,338.62 205.93,338.48 205.99,338.33 206.06,338.19 206.12,338.04 206.18,337.90 206.25,337.76 206.31,337.61 206.37,337.47 206.44,337.32 206.50,337.25 206.56,337.38 206.62,337.51 206.69,337.64 206.75,337.77 206.81,337.91 206.88,338.04 206.94,338.17 207.00,338.30 207.07,338.43 207.13,338.56 207.19,338.69 207.25,338.82 207.27,338.86 207.32,338.95 207.38,339.08 207.44,339.21 207.51,339.34 207.57,339.47 207.63,339.60 207.70,339.74 207.76,339.87 207.82,340.00 207.88,340.13 207.95,340.26 208.01,340.39 208.07,340.48 208.14,340.34 208.20,340.19 208.26,340.05 208.33,339.90 208.39,339.76 208.45,339.61 208.51,339.47 208.58,339.32 208.64,339.18 208.70,339.04 208.77,338.89 208.83,338.75 208.86,338.69 208.89,338.60 208.96,338.46 209.02,338.31 209.08,338.17 209.14,338.02 209.21,337.88 209.27,337.73 209.33,337.59 209.40,337.44 209.46,337.29 209.52,337.15 209.58,337.00 209.65,336.86 209.71,337.00 209.77,337.13 209.84,337.26 209.90,337.39 209.96,337.52 210.03,337.65 210.09,337.78 210.15,337.92 210.21,338.05 210.28,338.18 210.34,338.31 210.40,338.44 210.44,338.51 210.47,338.57 210.53,338.71 210.59,338.84 210.66,338.97 210.72,339.10 210.78,339.23 210.84,339.37 210.91,339.50 210.97,339.63 211.03,339.76 211.10,339.89 211.16,340.03 211.22,340.16 211.29,340.04 211.35,339.90 211.41,339.75 211.47,339.60 211.54,339.46 211.60,339.31 211.66,339.17 211.73,339.02 211.79,338.88 211.85,338.73 211.92,338.58 211.98,338.44 212.02,338.34 212.04,338.29 212.10,338.15 212.17,338.00 212.23,337.85 212.29,337.71 212.36,337.56 212.42,337.42 212.48,337.27 212.55,337.12 212.61,336.98 212.67,336.83 212.73,336.69 212.80,336.54 212.86,336.61 212.92,336.74 212.99,336.87 213.05,337.00 213.11,337.14 213.17,337.27 213.24,337.40 213.30,337.53 213.36,337.67 213.43,337.80 213.49,337.93 213.55,338.06 213.60,338.17 213.62,338.20 213.68,338.33 213.74,338.46 213.80,338.60 213.87,338.73 213.93,338.86 213.99,338.99 214.06,339.13 214.12,339.26 214.18,339.39 214.25,339.53 214.31,339.66 214.37,339.79 214.43,339.74 214.50,339.60 214.56,339.45 214.62,339.30 214.69,339.16 214.75,339.01 214.81,338.87 214.88,338.72 214.94,338.57 215.00,338.43 215.06,338.28 215.13,338.14 215.19,338.00 215.19,337.99 215.25,337.85 215.32,337.70 215.38,337.56 215.44,337.42 215.51,337.27 215.57,337.13 215.63,336.99 215.69,336.84 215.76,336.70 215.82,336.56 215.88,336.42 215.95,336.27 216.01,336.28 216.07,336.41 216.14,336.55 216.20,336.68 216.26,336.82 216.32,336.95 216.39,337.08 216.45,337.22 216.51,337.35 216.58,337.49 216.64,337.62 216.70,337.76 216.77,337.89 216.77,337.89 216.83,338.02 216.89,338.16 216.95,338.29 217.02,338.42 217.08,338.56 217.14,338.69 217.21,338.82 217.27,338.95 217.33,339.09 217.39,339.22 217.46,339.35 217.52,339.48 217.58,339.51 217.65,339.37 217.71,339.22 217.77,339.08 217.84,338.94 217.90,338.80 217.96,338.66 218.02,338.51 218.09,338.37 218.15,338.23 218.21,338.09 218.28,337.95 218.34,337.81 218.35,337.78 218.40,337.67 218.47,337.53 218.53,337.39 218.59,337.25 218.65,337.11 218.72,336.97 218.78,336.83 218.84,336.69 218.91,336.55 218.97,336.41 219.03,336.27 219.10,336.13 219.16,336.06 219.22,336.19 219.28,336.33 219.35,336.46 219.41,336.59 219.47,336.72 219.54,336.85 219.60,336.98 219.66,337.11 219.73,337.24 219.79,337.38 219.85,337.51 219.91,337.64 219.93,337.67 219.98,337.77 220.04,337.90 220.10,338.03 220.17,338.16 220.23,338.29 220.29,338.42 220.36,338.55 220.42,338.68 220.48,338.81 220.54,338.93 220.61,339.06 220.67,339.19 220.73,339.28 220.80,339.14 220.86,339.00 220.92,338.87 220.98,338.73 221.05,338.59 221.11,338.45 221.17,338.31 221.24,338.17 221.30,338.04 221.36,337.90 221.43,337.76 221.49,337.62 221.51,337.56 221.55,337.48 221.61,337.35 221.68,337.21 221.74,337.07 221.80,336.94 221.87,336.80 221.93,336.66 221.99,336.52 222.06,336.39 222.12,336.25 222.18,336.12 222.24,335.98 222.31,335.85 222.37,335.98 222.43,336.11 222.50,336.24 222.56,336.36 222.62,336.49 222.69,336.62 222.75,336.75 222.81,336.88 222.87,337.00 222.94,337.13 223.00,337.26 223.06,337.39 223.10,337.45 223.13,337.51 223.19,337.64 223.25,337.77 223.32,337.89 223.38,338.02 223.44,338.15 223.50,338.27 223.57,338.40 223.63,338.53 223.69,338.65 223.76,338.78 223.82,338.90 223.88,339.03 223.95,338.92 224.01,338.78 224.07,338.65 224.13,338.51 224.20,338.38 224.26,338.24 224.32,338.11 224.39,337.97 224.45,337.84 224.51,337.70 224.57,337.57 224.64,337.43 224.68,337.34 224.70,337.30 224.76,337.17 224.83,337.03 224.89,336.90 224.95,336.76 225.02,336.63 225.08,336.51 225.14,336.39 225.20,336.27 225.27,336.15 225.33,336.03 225.39,335.91 225.46,335.79 225.52,335.87 225.58,336.00 225.65,336.14 225.71,336.28 225.77,336.42 225.83,336.56 225.90,336.69 225.96,336.83 226.02,336.97 226.09,337.10 226.15,337.24 226.21,337.38 226.26,337.48 226.28,337.51 226.34,337.65 226.40,337.79 226.46,337.92 226.53,338.06 226.59,338.19 226.65,338.33 226.72,338.47 226.78,338.60 226.84,338.74 226.91,338.87 226.97,339.01 227.03,339.14 227.09,339.11 227.16,338.99 227.22,338.87 227.28,338.75 227.35,338.63 227.41,338.51 227.47,338.39 227.54,338.27 227.60,338.15 227.66,338.04 227.72,337.92 227.79,337.80 227.84,337.69 227.85,337.68 227.91,337.56 227.98,337.44 228.04,337.32 228.10,337.21 228.16,337.09 228.23,336.97 228.29,336.85 228.35,336.73 228.42,336.62 228.48,336.50 228.54,336.38 228.61,336.26 228.67,336.28 228.73,336.41 228.79,336.55 228.86,336.68 228.92,336.82 228.98,336.95 229.05,337.09 229.11,337.22 229.17,337.35 229.24,337.49 229.30,337.62 229.36,337.75 229.42,337.89 229.43,337.89 229.49,338.02 229.55,338.15 229.61,338.29 229.68,338.42 229.74,338.55 229.80,338.69 229.87,338.82 229.93,338.95 229.99,339.08 230.05,339.22 230.12,339.35 230.18,339.48 230.24,339.51 230.31,339.40 230.37,339.28 230.43,339.16 230.50,339.05 230.56,338.93 230.62,338.81 230.68,338.70 230.75,338.58 230.81,338.46 230.87,338.35 230.94,338.23 231.00,338.12 231.01,338.10 231.06,338.00 231.13,337.89 231.19,337.78 231.25,337.67 231.31,337.56 231.38,337.45 231.44,337.34 231.50,337.23 231.57,337.12 231.63,337.02 231.69,336.91 231.75,336.80 231.82,336.76 231.88,336.89 231.94,337.03 232.01,337.16 232.07,337.30 232.13,337.43 232.20,337.56 232.26,337.70 232.32,337.83 232.38,337.96 232.45,338.09 232.51,338.22 232.57,338.36 232.59,338.39 232.64,338.49 232.70,338.62 232.76,338.75 232.83,338.88 232.89,339.01 232.95,339.13 233.01,339.26 233.08,339.39 233.14,339.52 233.20,339.65 233.27,339.77 233.33,339.90 233.39,339.99 233.46,339.88 233.52,339.78 233.58,339.67 233.64,339.57 233.71,339.46 233.77,339.36 233.83,339.25 233.90,339.15 233.96,339.04 234.02,338.94 234.09,338.84 234.15,338.73 234.17,338.69 234.21,338.63 234.27,338.53 234.34,338.43 234.40,338.32 234.46,338.22 234.53,338.12 234.59,338.02 234.65,337.92 234.72,337.82 234.78,337.72 234.84,337.62 234.90,337.53 234.97,337.43 235.03,337.56 235.09,337.68 235.16,337.81 235.22,337.93 235.28,338.06 235.34,338.18 235.41,338.31 235.47,338.43 235.53,338.55 235.60,338.68 235.66,338.80 235.72,338.92 235.76,338.99 235.79,339.04 235.85,339.16 235.91,339.28 235.97,339.40 236.04,339.51 236.10,339.60 236.16,339.69 236.23,339.79 236.29,339.88 236.35,339.98 236.42,340.08 236.48,340.19 236.54,340.29 236.60,340.19 236.67,340.06 236.73,339.92 236.79,339.79 236.86,339.65 236.92,339.51 236.98,339.37 237.05,339.22 237.11,339.08 237.17,338.93 237.23,338.78 237.30,338.63 237.34,338.52 237.36,338.47 237.42,338.32 237.49,338.16 237.55,338.00 237.61,337.84 237.68,337.67 237.74,337.50 237.80,337.34 237.86,337.17 237.93,336.99 237.99,336.82 238.05,336.64 238.12,336.46 238.18,336.51 238.24,336.61 238.31,336.73 238.37,336.84 238.43,336.95 238.49,337.07 238.56,337.19 238.62,337.31 238.68,337.44 238.75,337.56 238.81,337.69 238.87,337.82 238.92,337.93 238.93,337.95 239.00,338.09 239.06,338.22 239.12,338.36 239.19,338.50 239.25,338.64 239.31,338.79 239.38,338.93 239.44,339.08 239.50,339.23 239.56,339.38 239.63,339.54 239.69,339.69 239.75,339.63 239.82,339.45 239.88,339.27 239.94,339.08 240.01,338.89 240.07,338.70 240.13,338.51 240.19,338.32 240.26,338.13 240.32,337.94 240.38,337.75 240.45,337.56 240.50,337.38 240.51,337.36 240.57,337.17 240.64,336.97 240.70,336.78 240.76,336.58 240.82,336.38 240.89,336.18 240.95,335.99 241.01,335.79 241.08,335.59 241.14,335.38 241.20,335.18 241.27,334.98 241.33,334.97 241.39,335.13 241.45,335.29 241.52,335.45 241.58,335.61 241.64,335.78 241.71,335.94 241.77,336.10 241.83,336.27 241.90,336.44 241.96,336.60 242.02,336.77 242.08,336.94 242.09,336.95 242.15,337.11 242.21,337.28 242.27,337.45 242.34,337.62 242.40,337.79 242.46,337.96 242.53,338.14 242.59,338.31 242.65,338.49 242.71,338.66 242.78,338.84 242.84,339.02 242.90,339.04 242.97,338.84 243.03,338.64 243.09,338.43 243.15,338.22 243.22,338.02 243.28,337.81 243.34,337.60 243.41,337.39 243.47,337.18 243.53,336.97 243.60,336.76 243.66,336.55 243.67,336.51 243.72,336.33 243.78,336.12 243.85,335.91 243.91,335.69 243.97,335.48 244.04,335.26 244.10,335.04 244.16,334.82 244.23,334.60 244.29,334.38 244.35,334.16 244.41,333.94 244.48,333.83 244.54,334.01 244.60,334.19 244.67,334.37 244.73,334.55 244.79,334.73 244.86,334.91 244.92,335.10 244.98,335.28 245.04,335.48 245.11,335.69 245.17,335.90 245.23,336.11 245.25,336.17 245.30,336.32 245.36,336.53 245.42,336.74 245.49,336.95 245.55,337.16 245.61,337.37 245.67,337.59 245.74,337.80 245.80,338.01 245.86,338.22 245.93,338.43 245.99,338.65 246.05,338.80 246.12,338.60 246.18,338.40 246.24,338.21 246.30,338.01 246.37,337.81 246.43,337.61 246.49,337.41 246.56,337.21 246.62,337.01 246.68,336.81 246.74,336.61 246.81,336.40 246.83,336.32 246.87,336.20 246.93,336.00 247.00,335.80 247.06,335.59 247.12,335.39 247.19,335.19 247.25,334.98 247.31,334.78 247.37,334.58 247.44,334.37 247.50,334.17 247.56,333.96 247.63,333.76 247.69,333.98 247.75,334.19 247.82,334.41 247.88,334.62 247.94,334.84 248.00,335.05 248.07,335.27 248.13,335.48 248.19,335.70 248.26,335.92 248.32,336.13 248.38,336.35 248.42,336.47 248.45,336.57 248.51,336.79 248.57,337.00 248.63,337.22 248.70,337.44 248.76,337.66 248.82,337.88 248.89,338.10 248.95,338.32 249.01,338.54 249.08,338.76 249.14,338.98 249.20,339.20 249.26,339.04 249.33,338.84 249.39,338.63 249.45,338.42 249.52,338.22 249.58,338.01 249.64,337.80 249.71,337.59 249.77,337.38 249.83,337.18 249.89,336.97 249.96,336.76 250.00,336.62 250.02,336.55 250.08,336.34 250.15,336.13 250.21,335.92 250.27,335.71 250.33,335.50 250.40,335.28 250.46,335.07 250.52,334.86 250.59,334.65 250.65,334.44 250.71,334.22 250.78,334.01 250.84,334.13 250.90,334.35 250.96,334.58 251.03,334.80 251.09,335.02 251.15,335.24 251.22,335.47 251.28,335.69 251.34,335.91 251.41,336.14 251.47,336.36 251.53,336.59 251.58,336.77 251.59,336.81 251.66,337.04 251.72,337.27 251.78,337.49 251.85,337.72 251.91,337.94 251.97,338.17 252.04,338.40 252.10,338.63 252.16,338.85 252.22,339.08 252.29,339.31 252.35,339.54 252.41,339.48 252.48,339.27 252.54,339.06 252.60,338.84 252.67,338.63 252.73,338.41 252.79,338.20 252.85,337.98 252.92,337.76 252.98,337.55 253.04,337.33 253.11,337.11 253.16,336.92 253.17,336.90 253.23,336.68 253.30,336.46 253.36,336.24 253.42,336.03 253.48,335.81 253.55,335.59 253.61,335.37 253.67,335.15 253.74,334.93 253.80,334.71 253.86,334.49 253.92,334.27 253.99,334.28 254.05,334.50 254.11,334.71 254.18,334.92 254.24,335.13 254.30,335.34 254.37,335.54 254.43,335.75 254.49,335.96 254.55,336.17 254.62,336.37 254.68,336.58 254.74,336.78 254.75,336.79 254.81,336.99 254.87,337.19 254.93,337.39 255.00,337.60 255.06,337.80 255.12,338.00 255.18,338.20 255.25,338.40 255.31,338.60 255.37,338.80 255.44,339.00 255.50,339.19 255.56,339.22 255.63,338.98 255.69,338.74 255.75,338.51 255.81,338.27 255.88,338.03 255.94,337.80 256.00,337.56 256.07,337.33 256.13,337.10 256.19,336.86 256.26,336.63 256.32,336.40 256.33,336.36 256.38,336.17 256.44,335.94 256.51,335.71 256.57,335.48 256.63,335.25 256.70,335.02 256.76,334.80 256.82,334.57 256.89,334.35 256.95,334.12 257.01,333.90 257.07,333.67 257.14,333.56 257.20,333.76 257.26,333.95 257.33,334.15 257.39,334.34 257.45,334.54 257.51,334.73 257.58,334.92 257.64,335.12 257.70,335.31 257.77,335.50 257.83,335.69 257.89,335.88 257.91,335.93 257.96,336.07 258.02,336.25 258.08,336.44 258.14,336.63 258.21,336.82 258.27,337.00 258.33,337.19 258.40,337.37 258.46,337.55 258.52,337.74 258.59,337.92 258.65,338.10 258.71,338.22 258.77,338.00 258.84,337.78 258.90,337.56 258.96,337.34 259.03,337.12 259.09,336.90 259.15,336.68 259.22,336.46 259.28,336.24 259.34,336.02 259.40,335.81 259.47,335.59 259.49,335.50 259.53,335.38 259.59,335.16 259.66,334.95 259.72,334.73 259.78,334.52 259.85,334.31 259.91,334.10 259.97,333.89 260.03,333.68 260.10,333.48 260.16,333.28 260.22,333.08 260.29,332.88 260.35,333.07 260.41,333.26 260.48,333.45 260.54,333.64 260.60,333.83 260.66,334.03 260.73,334.22 260.79,334.41 260.85,334.60 260.92,334.79 260.98,334.98 261.04,335.17 261.08,335.28 261.10,335.37 261.17,335.56 261.23,335.75 261.29,335.94 261.36,336.13 261.42,336.33 261.48,336.52 261.55,336.71 261.61,336.91 261.67,337.10 261.73,337.29 261.80,337.49 261.86,337.68 261.92,337.52 261.99,337.32 262.05,337.11 262.11,336.91 262.18,336.71 262.24,336.51 262.30,336.30 262.36,336.10 262.43,335.90 262.49,335.69 262.55,335.49 262.62,335.29 262.66,335.15 262.68,335.08 262.74,334.88 262.81,334.67 262.87,334.47 262.93,334.27 262.99,334.06 263.06,333.86 263.12,333.65 263.18,333.45 263.25,333.24 263.31,333.04 263.37,332.83 263.44,332.63 263.50,332.73 263.56,332.92 263.62,333.12 263.69,333.31 263.75,333.51 263.81,333.70 263.88,333.90 263.94,334.09 264.00,334.28 264.07,334.48 264.13,334.67 264.19,334.87 264.24,335.02 264.25,335.06 264.32,335.26 264.38,335.45 264.44,335.65 264.51,335.85 264.57,336.04 264.63,336.24 264.69,336.43 264.76,336.63 264.82,336.83 264.88,337.02 264.95,337.22 265.01,337.42 265.07,337.35 265.14,337.15 265.20,336.94 265.26,336.74 265.32,336.53 265.39,336.32 265.45,336.12 265.51,335.91 265.58,335.71 265.64,335.50 265.70,335.29 265.77,335.09 265.82,334.90 265.83,334.88 265.89,334.67 265.95,334.46 266.02,334.26 266.08,334.05 266.14,333.84 266.21,333.63 266.27,333.43 266.33,333.22 266.40,333.01 266.46,332.80 266.52,332.59 266.58,332.39 266.65,332.39 266.71,332.59 266.77,332.78 266.84,332.98 266.90,333.18 266.96,333.37 267.03,333.57 267.09,333.77 267.15,333.97 267.21,334.17 267.28,334.36 267.34,334.56 267.40,334.76 267.41,334.77 267.47,334.96 267.53,335.16 267.59,335.36 267.66,335.56 267.72,335.75 267.78,335.95 267.84,336.15 267.91,336.35 267.97,336.55 268.03,336.75 268.10,336.95 268.16,337.15 268.22,337.19 268.28,336.98 268.35,336.77 268.41,336.56 268.47,336.35 268.54,336.14 268.60,335.94 268.66,335.73 268.73,335.52 268.79,335.31 268.85,335.10 268.91,334.89 268.98,334.68 268.99,334.64 269.04,334.47 269.10,334.26 269.17,334.05 269.23,333.83 269.29,333.62 269.36,333.41 269.42,333.20 269.48,332.99 269.54,332.78 269.61,332.57 269.67,332.36 269.73,332.14 269.80,332.04 269.86,332.24 269.92,332.45 269.99,332.65 270.05,332.85 270.11,333.06 270.17,333.27 270.24,333.47 270.30,333.68 270.36,333.88 270.43,334.09 270.49,334.29 270.55,334.49 270.57,334.55 270.62,334.70 270.68,334.90 270.74,335.10 270.80,335.30 270.87,335.50 270.93,335.70 270.99,335.90 271.06,336.10 271.12,336.30 271.18,336.49 271.25,336.69 271.31,336.89 271.37,337.02 271.43,336.82 271.50,336.62 271.56,336.42 271.62,336.21 271.69,336.01 271.75,335.81 271.81,335.61 271.88,335.41 271.94,335.21 272.00,335.01 272.06,334.82 272.13,334.62 272.15,334.54 272.19,334.42 272.25,334.23 272.32,334.03 272.38,333.84 272.44,333.64 272.50,333.45 272.57,333.25 272.63,333.06 272.69,332.87 272.76,332.68 272.82,332.49 272.88,332.30 272.95,332.12 273.01,332.31 273.07,332.51 273.13,332.70 273.20,332.89 273.26,333.09 273.32,333.28 273.39,333.47 273.45,333.66 273.51,333.85 273.58,334.04 273.64,334.23 273.70,334.42 273.74,334.52 273.76,334.61 273.83,334.79 273.89,334.98 273.95,335.17 274.02,335.35 274.08,335.54 274.14,335.72 274.21,335.90 274.27,336.09 274.33,336.27 274.39,336.45 274.46,336.63 274.52,336.81 274.58,336.66 274.65,336.48 274.71,336.29 274.77,336.10 274.84,335.91 274.90,335.73 274.96,335.54 275.02,335.36 275.09,335.17 275.15,334.99 275.21,334.81 275.28,334.62 275.32,334.50 275.34,334.44 275.40,334.26 275.47,334.08 275.53,333.90 275.59,333.72 275.65,333.54 275.72,333.36 275.78,333.19 275.84,333.01 275.91,332.83 275.97,332.66 276.03,332.48 276.09,332.31 276.16,332.40 276.22,332.58 276.28,332.76 276.35,332.94 276.41,333.12 276.47,333.30 276.54,333.47 276.60,333.65 276.66,333.83 276.72,334.00 276.79,334.17 276.85,334.35 276.90,334.49 276.91,334.52 276.98,334.69 277.04,334.87 277.10,335.04 277.17,335.21 277.23,335.38 277.29,335.55 277.35,335.72 277.42,335.89 277.48,336.05 277.54,336.22 277.61,336.39 277.67,336.55 277.73,336.50 277.80,336.33 277.86,336.15 277.92,335.98 277.98,335.81 278.05,335.64 278.11,335.47 278.17,335.30 278.24,335.13 278.30,334.96 278.36,334.79 278.43,334.62 278.48,334.47 278.49,334.45 278.55,334.29 278.61,334.12 278.68,333.96 278.74,333.79 278.80,333.63 278.87,333.46 278.93,333.30 278.99,333.14 279.06,332.98 279.12,332.82 279.18,332.66 279.24,332.50 279.31,332.50 279.37,332.67 279.43,332.83 279.50,333.00 279.56,333.16 279.62,333.32 279.68,333.49 279.75,333.65 279.81,333.81 279.87,333.97 279.94,334.13 280.00,334.29 280.06,334.43 280.07,334.43 280.13,334.57 280.19,334.71 280.25,334.85 280.31,334.99 280.38,335.13 280.44,335.27 280.50,335.40 280.57,335.54 280.63,335.68 280.69,335.82 280.76,335.96 280.82,336.10 280.88,336.11 280.94,335.93 281.01,335.76 281.07,335.58 281.13,335.40 281.20,335.23 281.26,335.05 281.32,334.87 281.39,334.70 281.45,334.52 281.51,334.34 281.57,334.17 281.64,333.99 281.65,333.96 281.70,333.82 281.76,333.64 281.83,333.47 281.89,333.29 281.95,333.11 282.02,332.94 282.08,332.77 282.14,332.59 282.20,332.42 282.27,332.24 282.33,332.07 282.39,331.89 282.46,331.80 282.52,331.94 282.58,332.08 282.65,332.22 282.71,332.36 282.77,332.49 282.83,332.63 282.90,332.77 282.96,332.91 283.02,333.04 283.09,333.18 283.15,333.32 283.21,333.45 283.23,333.49 283.27,333.59 283.34,333.73 283.40,333.86 283.46,334.00 283.53,334.13 283.59,334.27 283.65,334.40 283.72,334.54 283.78,334.67 283.84,334.81 283.90,334.94 283.97,335.08 284.03,335.17 284.09,334.99 284.16,334.82 284.22,334.65 284.28,334.47 284.35,334.30 284.41,334.13 284.47,333.96 284.53,333.78 284.60,333.61 284.66,333.44 284.72,333.27 284.79,333.09 284.81,333.02 284.85,332.92 284.91,332.75 284.98,332.58 285.04,332.41 285.10,332.24 285.16,332.07 285.23,331.89 285.29,331.72 285.35,331.55 285.42,331.38 285.48,331.21 285.54,331.04 285.61,330.88 285.67,331.01 285.73,331.15 285.79,331.28 285.86,331.41 285.92,331.55 285.98,331.68 286.05,331.84 286.11,332.00 286.17,332.16 286.24,332.32 286.30,332.48 286.36,332.64 286.40,332.73 286.42,332.80 286.49,332.96 286.55,333.11 286.61,333.26 286.68,333.42 286.74,333.57 286.80,333.72 286.86,333.87 286.93,334.02 286.99,334.16 287.05,334.31 287.12,334.45 287.18,334.60 287.24,334.49 287.31,334.35 287.37,334.22 287.43,334.08 287.49,333.95 287.56,333.81 287.62,333.68 287.68,333.55 287.75,333.42 287.81,333.30 287.87,333.17 287.94,333.04 287.98,332.96 288.00,332.92 288.06,332.81 288.12,332.71 288.19,332.60 288.25,332.50 288.31,332.40 288.38,332.31 288.44,332.21 288.50,332.12 288.57,332.03 288.63,331.94 288.69,331.85 288.75,331.77 288.82,331.87 288.88,332.02 288.94,332.17 289.01,332.32 289.07,332.47 289.13,332.61 289.20,332.75 289.26,332.89 289.32,333.03 289.38,333.17 289.45,333.30 289.51,333.43 289.56,333.53 289.57,333.56 289.64,333.69 289.70,333.81 289.76,333.94 289.83,334.06 289.89,334.18 289.95,334.29 290.01,334.41 290.08,334.53 290.14,334.64 290.20,334.76 290.27,334.88 290.33,335.00 290.39,334.99 290.45,334.90 290.52,334.82 290.58,334.74 290.64,334.66 290.71,334.57 290.77,334.49 290.83,334.41 290.90,334.33 290.96,334.25 291.02,334.16 291.08,334.08 291.14,334.01 291.15,334.00 291.21,333.92 291.27,333.84 291.34,333.76 291.40,333.68 291.46,333.60 291.53,333.52 291.59,333.44 291.65,333.36 291.71,333.28 291.78,333.21 291.84,333.13 291.90,333.05 291.97,333.08 292.03,333.20 292.09,333.32 292.16,333.44 292.22,333.56 292.28,333.68 292.34,333.80 292.41,333.92 292.47,334.04 292.53,334.16 292.60,334.28 292.66,334.40 292.72,334.52 292.73,334.53 292.79,334.64 292.85,334.76 292.91,334.88 292.97,335.00 293.04,335.12 293.10,335.24 293.16,335.35 293.23,335.47 293.29,335.59 293.35,335.71 293.42,335.82 293.48,335.94 293.54,335.98 293.60,335.91 293.67,335.83 293.73,335.76 293.79,335.69 293.86,335.62 293.92,335.55 293.98,335.48 294.04,335.41 294.11,335.34 294.17,335.27 294.23,335.20 294.30,335.14 294.31,335.13 294.36,335.07 294.42,335.01 294.49,334.94 294.55,334.88 294.61,334.81 294.67,334.75 294.74,334.69 294.80,334.63 294.86,334.57 294.93,334.51 294.99,334.45 295.05,334.40 295.12,334.40 295.18,334.52 295.24,334.65 295.30,334.77 295.37,334.89 295.43,335.01 295.49,335.13 295.56,335.25 295.62,335.37 295.68,335.49 295.75,335.61 295.81,335.72 295.87,335.84 295.89,335.87 295.93,335.95 296.00,336.07 296.06,336.18 296.12,336.29 296.19,336.40 296.25,336.51 296.31,336.61 296.38,336.72 296.44,336.83 296.50,336.93 296.56,337.03 296.63,337.14 296.69,337.22 296.75,337.17 296.82,337.12 296.88,337.08 296.94,337.03 297.01,336.99 297.07,336.95 297.13,336.91 297.19,336.87 297.26,336.83 297.32,336.80 297.38,336.76 297.45,336.73 297.47,336.71 297.51,336.69 297.57,336.66 297.64,336.63 297.70,336.60 297.76,336.57 297.82,336.54 297.89,336.52 297.95,336.49 298.01,336.47 298.08,336.45 298.14,336.42 298.20,336.40 298.26,336.39 298.33,336.49 298.39,336.59 298.45,336.69 298.52,336.79 298.58,336.89 298.64,336.98 298.71,337.08 298.77,337.17 298.83,337.26 298.89,337.35 298.96,337.45 299.02,337.53 299.05,337.58 299.08,337.62 299.15,337.71 299.21,337.79 299.27,337.88 299.34,337.96 299.40,338.04 299.46,338.13 299.52,338.21 299.59,338.28 299.65,338.36 299.71,338.44 299.78,338.51 299.84,338.59 299.90,338.58 299.97,338.56 300.03,338.56 300.09,338.55 300.15,338.56 300.22,338.56 300.28,338.56 300.34,338.56 300.41,338.57 M397.34,332.95 397.40,332.98 397.46,333.01 397.53,333.04 397.59,333.09 397.59,333.09 397.65,333.13 397.71,333.18 397.78,333.24 397.84,333.31 397.90,333.38 397.97,333.45 398.03,333.53 398.09,333.62 398.16,333.71 398.22,333.81 398.28,333.91 398.34,334.03 398.41,334.09 398.47,333.99 398.53,333.87 398.60,333.76 398.66,333.52 398.72,333.27 398.79,333.01 398.85,332.74 398.91,332.47 398.97,332.20 399.04,331.91 399.10,331.62 399.16,331.33 399.20,331.18 399.23,331.03 399.29,330.72 399.35,330.40 399.42,330.08 399.48,329.76 399.54,329.42 399.60,329.08 399.67,328.74 399.73,328.38 399.79,328.02 399.86,327.66 399.92,327.28 399.98,326.91 400.05,326.81 400.11,326.81 400.17,326.81 400.23,326.83 400.30,326.85 400.36,326.87 400.42,326.90 400.49,326.94 400.55,326.98 400.61,327.03 400.67,327.09 400.74,327.15 400.80,327.22 400.80,327.22 400.86,327.29 400.93,327.37 400.99,327.46 401.05,327.55 401.12,327.65 401.18,327.76 401.24,327.87 401.30,327.99 401.37,328.12 401.43,328.25 401.49,328.39 401.56,328.54 401.62,328.54 401.68,328.14 401.75,327.74 401.81,327.34 401.87,326.92 401.93,326.50 402.00,326.07 402.06,325.74 402.12,325.41 402.19,325.07 402.25,324.73 402.31,324.39 402.38,324.04 402.40,323.88 402.44,323.69 402.50,323.34 402.56,322.98 402.63,322.62 402.69,322.26 402.75,321.90 402.82,321.53 402.88,321.16 402.94,320.78 403.01,320.40 403.07,320.02 403.13,319.64 403.19,319.25 403.26,319.37 403.32,319.63 403.38,319.90 403.45,320.16 403.51,320.43 403.57,320.70 403.64,320.98 403.70,321.26 403.76,321.54 403.82,321.82 403.89,322.11 403.95,322.40 404.01,322.68 404.01,322.70 404.08,323.00 404.14,323.30 404.20,323.60 404.27,323.91 404.33,324.22 404.39,324.54 404.45,324.86 404.52,325.18 404.58,325.50 404.64,325.83 404.71,326.16 404.77,326.49 404.83,326.60 404.89,326.21 404.96,325.81 405.02,325.43 405.08,325.08 405.15,324.72 405.21,324.36 405.27,324.00 405.34,323.63 405.40,323.26 405.46,322.89 405.52,322.52 405.59,322.14 405.61,321.98 405.65,321.76 405.71,321.38 405.78,320.99 405.84,320.60 405.90,320.21 405.97,319.81 406.03,319.42 406.09,319.01 406.15,318.61 406.22,318.20 406.28,317.79 406.34,317.38 406.41,316.96 406.47,317.22 406.53,317.61 406.60,318.00 406.66,318.40 406.72,318.80 406.78,319.21 406.85,319.61 406.91,320.02 406.97,320.44 407.04,320.85 407.10,321.27 407.16,321.69 407.22,322.08 407.23,322.12 407.29,322.55 407.35,322.98 407.41,323.41 407.48,323.85 407.54,324.29 407.60,324.73 407.67,325.18 407.73,325.63 407.79,326.09 407.86,326.54 407.92,327.00 407.98,327.46 408.04,327.61 408.11,327.19 408.17,326.77 408.23,326.34 408.30,325.91 408.36,325.47 408.42,325.04 408.48,324.59 408.55,324.18 408.61,323.78 408.67,323.38 408.74,322.98 408.80,322.57 408.82,322.42 408.86,322.17 408.93,321.77 408.99,321.37 409.05,320.97 409.11,320.57 409.18,320.17 409.24,319.78 409.30,319.38 409.37,318.98 409.43,318.58 409.49,318.19 409.56,317.79 409.62,317.39 409.68,317.79 409.74,318.30 409.81,318.80 409.87,319.30 409.93,319.81 410.00,320.31 410.06,320.81 410.12,321.32 410.19,321.82 410.25,322.32 410.31,322.82 410.37,323.32 410.43,323.75 410.44,323.82 410.50,324.32 410.56,324.82 410.63,325.32 410.69,325.82 410.75,326.32 410.82,326.81 410.88,327.31 410.94,327.81 411.00,328.30 411.07,328.75 411.13,329.20 411.19,329.64 411.26,329.73 411.32,329.29 411.38,328.86 411.45,328.42 411.51,327.99 411.57,327.57 411.63,327.14 411.70,326.72 411.76,326.30 411.82,325.88 411.89,325.47 411.95,325.06 412.01,324.64 412.03,324.49 412.07,324.19 412.14,323.74 412.20,323.29 412.26,322.84 412.33,322.39 412.39,321.94 412.45,321.49 412.52,321.04 412.58,320.59 412.64,320.14 412.70,319.68 412.77,319.23 412.83,318.78 412.89,319.11 412.96,319.51 413.02,319.91 413.08,320.32 413.15,320.72 413.21,321.12 413.27,321.53 413.33,321.93 413.40,322.33 413.46,322.74 413.52,323.14 413.59,323.55 413.64,323.88 413.65,323.96 413.71,324.36 413.78,324.77 413.84,325.18 413.90,325.58 413.96,325.99 414.03,326.40 414.09,326.81 414.15,327.22 414.22,327.63 414.28,328.04 414.34,328.45 414.41,328.86 414.47,328.89 414.53,328.44 414.59,327.98 414.66,327.53 414.72,327.07 414.78,326.62 414.85,326.16 414.91,325.70 414.97,325.25 415.04,324.79 415.10,324.33 415.16,323.87 415.22,323.41 415.24,323.28 415.29,322.95 415.35,322.49 415.41,322.03 415.48,321.57 415.54,321.11 415.60,320.65 415.66,320.19 415.73,319.73 415.79,319.26 415.85,318.80 415.92,318.34 415.98,317.87 416.04,317.38 416.11,317.73 416.17,318.11 416.23,318.50 416.29,318.88 416.36,319.27 416.42,319.67 416.48,320.07 416.55,320.47 416.61,320.87 416.67,321.28 416.74,321.69 416.80,322.10 416.85,322.43 416.86,322.52 416.92,322.94 416.99,323.37 417.05,323.79 417.11,324.22 417.18,324.66 417.24,325.09 417.30,325.53 417.37,325.98 417.43,326.42 417.49,326.87 417.55,327.33 417.62,327.78 417.68,327.78 417.74,327.27 417.81,326.77 417.87,326.25 417.93,325.74 418.00,325.22 418.06,324.70 418.12,324.18 418.18,323.65 418.25,323.12 418.31,322.58 418.37,322.05 418.44,321.51 418.45,321.37 418.50,320.96 418.56,320.41 418.63,319.86 418.69,319.31 418.75,318.75 418.81,318.19 418.88,317.63 418.94,317.06 419.00,316.49 419.07,315.91 419.13,315.33 419.19,314.75 419.25,314.17 419.32,314.63 419.38,315.10 419.44,315.57 419.51,316.04 419.57,316.51 419.63,316.99 419.70,317.47 419.76,317.96 419.82,318.45 419.88,318.94 419.95,319.43 420.01,319.93 420.06,320.31 420.07,320.45 420.14,320.96 420.20,321.48 420.26,322.00 420.33,322.53 420.39,323.05 420.45,323.58 420.51,324.11 420.58,324.64 420.64,325.18 420.70,325.72 420.77,326.26 420.83,326.80 420.89,326.76 420.96,326.18 421.02,325.60 421.08,325.02 421.14,324.44 421.21,323.85 421.27,323.26 421.33,322.67 421.40,322.07 421.46,321.48 421.52,320.88 421.59,320.27 421.65,319.67 421.66,319.54 421.71,319.06 421.77,318.45 421.84,317.84 421.90,317.23 421.96,316.61 422.03,315.98 422.09,315.33 422.15,314.68 422.22,314.03 422.28,313.38 422.34,312.73 422.40,312.08 422.47,311.48 422.53,312.00 422.59,312.52 422.66,313.04 422.72,313.55 422.78,314.07 422.84,314.59 422.91,315.11 422.97,315.63 423.03,316.17 423.10,316.72 423.16,317.27 423.22,317.81 423.27,318.19 423.29,318.36 423.35,318.90 423.41,319.44 423.47,319.98 423.54,320.52 423.60,321.05 423.66,321.58 423.73,322.11 423.79,322.64 423.85,323.16 423.92,323.68 423.98,324.20 424.04,324.72 424.10,324.60 424.17,323.98 424.23,323.37 424.29,322.76 424.36,322.16 424.42,321.56 424.48,320.95 424.55,320.36 424.61,319.76 424.67,319.17 424.73,318.57 424.80,317.98 424.86,317.40 424.87,317.29 424.92,316.81 424.99,316.23 425.05,315.65 425.11,315.07 425.18,314.50 425.24,313.92 425.30,313.35 425.36,312.79 425.43,312.22 425.49,311.66 425.55,311.09 425.62,310.54 425.68,310.07 425.74,310.58 425.81,311.10 425.87,311.61 425.93,312.11 425.99,312.62 426.06,313.12 426.12,313.62 426.18,314.11 426.25,314.61 426.31,315.10 426.37,315.59 426.43,316.07 426.48,316.39 426.50,316.56 426.56,317.04 426.62,317.52 426.69,318.00 426.75,318.48 426.81,318.95 426.88,319.43 426.94,319.89 427.00,320.36 427.06,320.82 427.13,321.28 427.19,321.74 427.25,322.19 427.32,322.04 427.38,321.49 427.44,320.94 427.51,320.40 427.57,319.86 427.63,319.32 427.69,318.78 427.76,318.25 427.82,317.72 427.88,317.19 427.95,316.67 428.01,316.15 428.07,315.63 428.08,315.56 428.14,315.11 428.20,314.60 428.26,314.09 428.32,313.58 428.39,313.07 428.45,312.57 428.51,312.07 428.58,311.58 428.64,311.08 428.70,310.59 428.77,310.11 428.83,309.62 428.89,309.26 428.95,309.71 429.02,310.16 429.08,310.60 429.14,311.04 429.21,311.48 429.27,311.92 429.33,312.35 429.40,312.78 429.46,313.21 429.52,313.61 429.58,313.97 429.65,314.34 429.69,314.56 429.71,314.70 429.77,315.07 429.84,315.44 429.90,315.82 429.96,316.19 430.03,316.56 430.09,316.90 430.15,317.25 430.21,317.60 430.28,317.94 430.34,318.28 430.40,318.63 430.47,318.97 430.53,318.72 430.59,318.15 430.65,317.58 430.72,317.01 430.78,316.45 430.84,315.88 430.91,315.32 430.97,314.76 431.03,314.20 431.10,313.64 431.16,313.09 431.22,312.53 431.28,311.98 431.29,311.93 431.35,311.43 431.41,310.88 431.47,310.33 431.54,309.78 431.60,309.24 431.66,308.69 431.73,308.15 431.79,307.61 431.85,307.07 431.91,306.53 431.98,305.99 432.04,305.35 432.10,304.78 432.17,304.95 432.23,305.13 432.29,305.32 432.36,305.51 432.42,305.71 432.48,305.92 432.54,306.13 432.61,306.35 432.67,306.57 432.73,306.81 432.80,307.04 432.86,307.29 432.90,307.43 432.92,307.54 432.99,307.79 433.05,308.05 433.11,308.32 433.17,308.59 433.24,308.87 433.30,309.15 433.36,309.44 433.43,309.73 433.49,310.03 433.55,310.33 433.62,310.64 433.68,310.95 433.74,310.54 433.80,309.81 433.87,309.07 433.93,308.32 433.99,307.56 434.06,306.79 434.12,306.02 434.18,305.23 434.24,304.45 434.31,303.66 434.37,302.86 434.43,302.06 434.50,301.26 434.50,301.22 434.56,300.63 434.62,300.01 434.69,299.40 434.75,298.79 434.81,298.19 434.87,297.60 434.94,297.02 435.00,296.44 435.06,295.89 435.13,295.34 435.19,294.80 435.25,294.27 435.32,293.79 435.38,294.25 435.44,294.72 435.50,295.18 435.57,295.63 435.63,296.08 435.69,296.52 435.76,296.96 435.82,297.39 435.88,297.81 435.95,298.23 436.01,298.65 436.07,299.06 436.12,299.41 436.13,299.46 436.20,299.86 436.26,300.26 436.32,300.65 436.39,301.03 436.45,301.41 436.51,301.78 436.58,302.14 436.64,302.51 436.70,302.86 436.76,303.21 436.83,303.55 436.89,303.89 436.95,304.01 437.02,303.51 437.08,303.09 437.14,302.65 437.21,302.22 437.27,301.79 437.33,301.35 437.39,300.91 437.46,300.47 437.52,300.02 437.58,299.58 437.65,299.13 437.71,298.68 437.75,298.38 437.77,298.22 437.83,297.77 437.90,297.31 437.96,296.85 438.02,296.37 438.09,295.87 438.15,295.37 438.21,294.86 438.28,294.34 438.34,293.83 438.40,293.31 438.46,292.78 438.53,292.25 438.59,292.14 438.65,292.53 438.72,292.94 438.78,293.34 438.84,293.75 438.91,294.17 438.97,294.59 439.03,295.01 439.09,295.44 439.16,295.87 439.22,296.30 439.28,296.74 439.35,297.19 439.38,297.39 439.41,297.63 439.47,298.09 439.54,298.54 439.60,299.00 439.66,299.47 439.72,299.94 439.79,300.41 439.85,300.89 439.91,301.37 439.98,301.86 440.04,302.35 440.10,302.84 440.17,303.34 440.23,303.17 440.29,302.64 440.35,302.10 440.42,301.55 440.48,301.00 440.54,300.45 440.61,299.89 440.67,299.33 440.73,298.76 440.80,298.19 440.86,297.62 440.92,297.04 440.98,296.46 441.00,296.31 441.05,295.99 441.11,295.55 441.17,295.12 441.24,294.69 441.30,294.26 441.36,293.82 441.42,293.39 441.49,292.95 441.55,292.52 441.61,292.09 441.68,291.65 441.74,291.22 441.80,290.78 441.87,291.27 441.93,291.93 441.99,292.59 442.05,293.25 442.12,293.90 442.18,294.56 442.24,295.22 442.31,295.87 442.37,296.53 442.43,297.18 442.50,297.84 442.56,298.49 442.62,299.14 442.62,299.18 442.68,299.80 442.75,300.45 442.81,301.10 442.87,301.74 442.94,302.39 443.00,303.04 443.06,303.68 443.13,304.33 443.19,304.97 443.25,305.61 443.31,306.25 443.38,306.89 443.44,307.48 443.50,307.04 443.57,306.60 443.63,306.16 443.69,305.72 443.76,305.28 443.82,304.84 443.88,304.41 443.94,303.97 444.01,303.51 444.07,302.80 444.13,302.08 444.20,301.33 444.25,300.68 444.26,300.57 444.32,299.79 444.39,299.00 444.45,298.18 444.51,297.34 444.57,296.44 444.64,295.53 444.70,294.60 444.76,293.66 444.83,292.70 444.89,291.72 444.95,290.73 445.01,289.72 445.08,289.03 445.14,289.37 445.20,289.73 445.27,290.10 445.33,290.49 445.39,290.89 445.46,291.31 445.52,291.75 445.58,292.20 445.64,292.68 445.71,293.16 445.77,293.67 445.83,294.19 445.88,294.55 445.90,294.74 445.96,295.29 446.02,295.86 446.09,296.42 446.15,297.00 446.21,297.61 446.27,298.24 446.34,298.88 446.40,299.55 446.46,300.24 446.53,300.96 446.59,301.70 446.65,302.46 446.72,302.42 446.78,301.34 446.84,300.25 446.90,299.13 446.97,297.99 447.03,296.86 447.09,295.74 447.16,294.60 447.22,293.45 447.28,292.28 447.35,291.09 447.41,289.89 447.47,288.67 447.50,288.11 447.53,287.44 447.60,286.19 447.66,284.92 447.72,283.63 447.79,282.33 447.85,281.01 447.91,279.68 447.98,278.33 448.04,276.96 448.10,275.57 448.16,274.16 448.23,272.74 448.29,271.30 448.35,271.33 448.42,272.19 448.48,273.06 448.54,273.96 448.60,274.87 448.67,275.80 448.73,276.74 448.79,277.71 448.86,278.69 448.92,279.69 448.98,280.71 449.05,281.79 449.11,282.93 449.12,283.22 449.17,284.09 449.23,285.27 449.30,286.48 449.36,287.71 449.42,288.97 449.49,290.25 449.55,291.57 449.61,292.90 449.68,294.27 449.74,295.66 449.80,297.07 449.86,298.52 449.93,299.99 449.99,299.05 450.05,297.63 450.12,296.19 450.18,294.72 450.24,293.22 450.31,291.82 450.37,290.43 450.43,289.03 450.49,287.63 450.56,286.22 450.62,284.81 450.68,283.39 450.75,281.97 450.75,281.89 450.81,280.54 450.87,279.11 450.94,277.68 451.00,276.24 451.06,274.79 451.12,273.35 451.19,271.89 451.25,270.44 451.31,268.98 451.38,267.51 451.44,266.04 451.50,264.57 451.57,263.23 451.63,264.85 451.69,266.48 451.75,268.11 451.82,269.75 451.88,271.39 451.94,273.03 452.01,274.69 452.07,276.41 452.13,278.12 452.19,279.83 452.26,281.52 452.32,283.20 452.38,284.63 452.38,284.87 452.45,286.53 452.51,288.17 452.57,289.81 452.64,291.44 452.70,293.05 452.76,294.66 452.82,296.25 452.89,297.84 452.95,299.41 453.01,300.97 453.08,302.52 453.14,304.06 453.20,304.89 453.27,303.50 453.33,302.12 453.39,300.75 453.45,299.39 453.52,298.03 453.58,296.61 453.64,295.18 453.71,293.75 453.77,292.32 453.83,290.88 453.90,289.44 453.96,287.99 454.00,287.04 454.02,286.54 454.08,285.09 454.15,283.63 454.21,282.16 454.27,280.70 454.34,279.23 454.40,277.75 454.46,276.27 454.53,274.78 454.59,273.27 454.65,271.76 454.71,270.25 454.78,268.74 454.84,268.53 454.90,269.96 454.97,271.39 455.03,272.82 455.09,274.25 455.16,275.69 455.22,277.12 455.28,278.55 455.34,279.98 455.41,281.42 455.47,282.85 455.53,284.28 455.60,285.72 455.62,286.37 455.66,287.15 455.72,288.58 455.79,290.02 455.85,291.45 455.91,292.88 455.97,294.32 456.04,295.75 456.10,297.18 456.16,298.61 456.23,300.05 456.29,301.48 456.35,302.91 456.41,304.35 456.48,303.90 456.54,302.39 456.60,300.88 456.67,299.37 456.73,297.87 456.79,296.36 456.86,294.85 456.92,293.34 456.98,291.84 457.04,290.22 457.11,288.55 457.17,286.86 457.23,285.14 457.25,284.70 457.30,283.41 457.36,281.66 457.42,279.88 457.49,278.09 457.55,276.27 457.61,274.44 457.67,272.59 457.74,270.71 457.80,268.82 457.86,266.91 457.93,264.98 457.99,263.03 458.05,261.06 458.12,261.84 458.18,263.17 458.24,264.52 458.30,265.89 458.37,267.28 458.43,268.70 458.49,270.13 458.56,271.58 458.62,273.06 458.68,274.55 458.75,276.07 458.81,277.60 458.87,279.16 458.88,279.25 458.93,280.73 459.00,282.32 459.06,283.94 459.12,285.57 459.19,287.22 459.25,288.90 459.31,290.59 459.38,292.30 459.44,294.03 459.50,295.78 459.56,297.55 459.63,299.34 459.69,301.00 459.75,299.02 459.82,297.02 459.88,295.00 459.94,292.97 460.00,290.92 460.07,288.89 460.13,286.85 460.19,284.78 460.26,282.69 460.32,280.58 460.38,278.45 460.45,276.30 460.50,274.43 460.51,274.11 460.57,271.81 460.63,269.48 460.70,267.11 460.76,264.72 460.82,262.29 460.89,259.83 460.95,257.34 461.01,254.81 461.08,252.19 461.14,249.52 461.20,246.82 461.26,244.09 461.33,242.38 461.39,244.11 461.45,245.87 461.52,247.67 461.58,249.50 461.64,251.37 461.71,253.28 461.77,255.23 461.83,257.21 M490.43,254.51 490.49,256.58 490.53,257.96 490.55,258.62 490.61,260.63 490.68,262.62 490.74,264.59 490.80,266.53 490.87,268.44 490.93,270.32 490.99,272.18 491.06,274.01 491.12,275.81 491.18,277.58 491.24,279.33 491.31,281.05 491.37,279.67 491.43,277.64 491.50,275.64 491.56,273.67 491.62,271.74 491.69,269.85 491.75,268.00 491.81,266.18 491.87,264.40 491.94,262.65 492.00,260.94 492.06,259.15 492.11,257.91 492.13,257.37 492.19,255.62 492.25,253.90 492.32,252.40 492.38,250.91 492.44,249.42 492.50,247.94 492.57,246.46 492.63,244.99 492.69,243.52 492.76,242.06 492.82,240.61 492.88,239.16 492.94,240.34 493.01,242.19 493.07,244.04 493.13,245.89 493.20,247.73 493.26,249.57 493.32,251.41 493.39,253.24 493.45,255.08 493.51,256.90 493.57,258.73 493.64,260.54 493.68,261.84 493.70,262.36 493.76,264.17 493.83,265.98 493.89,267.78 493.95,269.58 494.02,271.38 494.08,273.17 494.14,274.96 494.20,276.74 494.27,278.52 494.33,280.30 494.39,282.07 494.46,283.83 494.52,283.14 494.58,281.73 494.65,280.32 494.71,278.93 494.77,277.54 494.83,276.15 494.90,274.77 494.96,273.40 495.02,272.04 495.09,270.68 495.15,269.33 495.21,267.99 495.26,266.99 495.28,266.62 495.34,265.20 495.40,263.81 495.46,262.43 495.53,261.01 495.59,259.53 495.65,258.05 495.72,256.57 495.78,255.09 495.84,253.62 495.91,252.15 495.97,250.69 496.03,249.23 496.09,250.05 496.16,251.61 496.22,253.17 496.28,254.72 496.35,256.28 496.41,257.82 496.47,259.37 496.53,260.91 496.60,262.45 496.66,263.99 496.72,265.52 496.79,267.05 496.83,268.21 496.85,268.58 496.91,270.10 496.98,271.63 497.04,273.14 497.10,274.66 497.16,276.17 497.23,277.68 497.29,279.18 497.35,280.68 497.42,282.18 497.48,283.68 497.54,285.17 497.61,286.66 497.67,285.99 497.73,284.53 497.79,283.08 497.86,281.63 497.92,280.18 497.98,278.74 498.05,277.30 498.11,275.86 498.17,274.43 498.24,273.00 498.30,271.57 498.36,270.15 498.41,269.04 498.42,268.73 498.49,267.31 498.55,265.85 498.61,264.39 498.68,262.93 498.74,261.49 498.80,260.05 498.87,258.63 498.93,257.21 498.99,255.80 499.05,254.49 499.12,253.20 499.18,251.93 499.24,252.65 499.31,254.15 499.37,255.64 499.43,257.12 499.50,258.58 499.56,260.03 499.62,261.47 499.68,262.89 499.75,264.30 499.81,265.69 499.87,267.07 499.94,268.43 499.99,269.51 500.00,269.78 500.06,271.12 500.12,272.45 500.19,273.76 500.25,275.05 500.31,276.34 500.38,277.61 500.44,278.86 500.50,280.11 500.57,281.34 500.63,282.55 500.69,283.76 500.75,284.95 500.82,284.44 500.88,283.18 500.94,281.94 501.01,280.72 501.07,279.50 501.13,278.30 501.20,277.11 501.26,275.94 501.32,274.78 501.38,273.62 501.45,272.49 501.51,271.36 501.56,270.45 501.57,270.25 501.64,269.15 501.70,268.06 501.76,266.99 501.83,265.92 501.89,264.87 501.95,263.78 502.01,262.69 502.08,261.62 502.14,260.57 502.20,259.54 502.27,258.52 502.33,257.51 502.39,257.89 502.46,258.93 502.52,259.95 502.58,260.96 502.64,261.95 502.71,262.92 502.77,263.88 502.83,264.81 502.90,265.73 502.96,266.63 503.02,267.52 503.09,268.39 503.14,269.10 503.15,269.24 503.21,270.07 503.27,270.89 503.34,271.69 503.40,272.47 503.46,273.23 503.53,273.98 503.59,274.72 503.65,275.43 503.71,276.13 503.78,276.82 503.84,277.49 503.90,278.14 503.97,277.70 504.03,276.69 504.09,275.70 504.16,274.72 504.22,273.75 504.28,272.81 504.34,271.88 504.41,270.96 504.47,270.06 504.53,269.17 504.60,268.30 504.66,267.44 504.71,266.72 504.72,266.60 504.79,265.88 504.85,265.24 504.91,264.61 504.97,263.98 505.04,263.33 505.10,262.68 505.16,262.03 505.23,261.37 505.29,260.72 505.35,260.08 505.42,259.46 505.48,258.83 505.54,259.12 505.60,259.95 505.67,260.78 505.73,261.61 505.79,262.44 505.86,263.27 505.92,264.09 505.98,264.92 506.05,265.75 506.11,266.57 506.17,267.39 506.23,268.22 506.29,268.94 506.30,269.04 506.36,269.86 506.42,270.68 506.49,271.50 506.55,272.32 506.61,273.14 506.68,273.95 506.74,274.77 506.80,275.58 506.86,276.40 506.93,277.21 506.99,278.03 507.05,278.84 507.12,278.77 507.18,278.15 507.24,277.54 507.31,276.92 507.37,276.30 507.43,275.68 507.49,275.07 507.56,274.45 507.62,273.84 507.68,273.22 507.75,272.61 507.81,272.00 507.87,271.44 507.87,271.38 507.93,270.77 508.00,270.16 508.06,269.55 508.12,268.94 508.19,268.33 508.25,267.72 508.31,267.11 508.38,266.51 508.44,265.92 508.50,265.34 508.56,264.77 508.63,264.20 508.69,264.46 508.75,265.31 508.82,266.15 508.88,266.99 508.94,267.82 509.01,268.66 509.07,269.49 509.13,270.32 509.19,271.15 509.26,271.98 509.32,272.80 509.38,273.63 509.44,274.38 509.45,274.45 509.51,275.27 509.57,276.08 509.64,276.90 509.70,277.71 509.76,278.52 509.82,279.33 509.89,280.13 509.95,280.94 510.01,281.72 510.08,282.45 510.14,283.17 510.20,283.88 510.27,283.82 510.33,283.19 510.39,282.56 510.45,281.93 510.52,281.31 510.58,280.70 510.64,280.09 510.71,279.48 510.77,278.88 510.83,278.29 510.90,277.70 510.96,277.12 511.02,276.57 511.02,276.54 511.08,275.97 511.15,275.40 511.21,274.84 511.27,274.28 511.34,273.73 511.40,273.18 511.46,272.64 511.52,272.10 511.59,271.57 511.65,271.04 511.71,270.52 511.78,270.02 511.84,270.18 511.90,270.89 511.97,271.60 512.03,272.30 512.09,272.99 512.15,273.68 512.22,274.36 512.28,275.04 512.34,275.71 512.41,276.37 512.47,277.03 512.53,277.73 512.59,278.44 512.60,278.47 512.66,279.21 512.72,279.95 512.78,280.68 512.85,281.42 512.91,282.15 512.97,282.89 513.04,283.62 513.10,284.35 513.16,285.08 513.23,285.81 513.29,286.54 513.35,287.27 513.41,287.40 513.48,286.98 513.54,286.56 513.60,286.14 513.67,285.73 513.73,285.31 513.79,284.90 513.86,284.48 513.92,284.07 513.98,283.66 514.04,283.25 514.11,282.84 514.17,282.43 514.17,282.43 514.23,282.02 514.30,281.61 514.36,281.20 514.42,280.79 514.49,280.39 514.55,279.98 514.61,279.58 514.67,279.18 514.74,278.77 514.80,278.42 514.86,278.09 514.93,277.76 514.99,278.00 515.05,278.79 515.11,279.57 515.18,280.35 515.24,281.13 515.30,281.91 515.37,282.67 515.43,283.43 515.49,284.18 515.56,284.91 515.62,285.65 515.68,286.38 515.74,287.10 515.74,287.10 515.81,287.82 515.87,288.54 515.93,289.25 516.00,289.95 516.06,290.65 516.12,291.35 516.19,292.04 516.25,292.73 516.31,293.41 516.37,294.09 516.44,294.76 516.50,295.43 516.56,295.60 516.63,295.26 516.69,294.93 516.75,294.60 516.82,294.27 516.88,293.95 516.94,293.63 517.00,293.32 517.07,293.01 517.13,292.71 517.19,292.41 517.26,292.11 517.32,291.82 517.32,291.82 517.38,291.54 517.45,291.25 517.51,290.95 517.57,290.49 517.63,290.03 517.70,289.56 517.76,289.08 517.82,288.60 517.89,288.11 517.95,287.62 518.01,287.12 518.08,286.55 518.14,286.43 518.20,286.87 518.26,287.32 518.33,287.78 518.39,288.27 518.45,288.76 518.52,289.25 518.58,289.68 518.64,290.12 518.70,290.57 518.77,291.03 518.83,291.51 518.89,291.99 518.90,292.01 518.96,292.48 519.02,292.99 519.08,293.51 519.15,294.03 519.21,294.57 519.27,295.12 519.33,295.68 519.40,296.25 519.46,296.84 519.52,297.43 519.59,298.04 519.65,298.65 519.71,298.69 519.78,298.00 519.84,297.30 519.90,296.58 519.96,295.85 520.03,295.11 520.09,294.36 520.15,293.60 520.22,292.83 520.28,292.05 520.34,291.25 520.41,290.44 520.47,289.63 520.47,289.57 520.53,288.80 520.59,287.95 520.66,287.10 520.72,286.24 520.78,285.36 520.85,284.47 520.91,283.59 520.97,282.80 521.04,282.00 521.10,281.20 521.16,280.40 521.22,279.59 521.29,279.44 521.35,280.19 521.41,280.95 521.48,281.71 521.54,282.47 521.60,283.24 521.67,284.01 521.73,284.83 521.79,285.71 521.85,286.60 521.92,287.50 521.98,288.42 522.04,289.35 522.05,289.42 522.11,290.28 522.17,291.23 522.23,292.19 522.29,293.17 522.36,294.15 522.42,295.15 522.48,296.16 522.55,297.18 522.61,298.21 522.67,299.26 522.74,300.32 522.80,301.38 522.86,301.73 522.92,301.01 522.99,300.27 523.05,299.52 523.11,298.76 523.18,297.99 523.24,297.20 523.30,296.40 523.37,295.59 523.43,294.77 523.49,293.93 523.55,293.09 523.62,292.23 523.62,292.14 523.68,291.36 523.74,290.47 523.81,289.50 523.87,288.50 523.93,287.47 524.00,286.43 524.06,285.36 524.12,284.28 524.18,283.17 524.25,282.04 524.31,280.89 524.37,279.72 524.44,279.37 524.50,280.39 524.56,281.42 524.63,282.48 524.69,283.56 524.75,284.66 524.81,285.78 524.88,286.93 524.94,288.09 525.00,289.28 525.07,290.35 525.13,291.43 525.19,292.51 525.20,292.64 525.26,293.59 525.32,294.67 525.38,295.74 525.44,296.82 525.51,297.90 525.57,298.98 525.63,300.06 525.70,301.14 525.76,302.22 525.82,303.30 525.88,304.38 525.95,305.46 526.01,305.67 526.07,304.34 526.14,303.02 526.20,301.70 526.26,300.38 526.33,299.06 526.39,297.73 526.45,296.41 526.51,295.09 526.58,293.76 526.64,292.44 526.70,291.12 526.77,289.79 526.78,289.60 526.83,288.47 526.89,287.15 526.96,285.80 527.02,284.44 527.08,283.08 527.14,281.71 527.21,280.35 527.27,278.98 527.33,277.60 527.40,276.23 527.46,274.85 527.52,273.46 527.59,272.92 527.65,273.97 527.71,275.03 527.77,276.09 527.84,277.15 527.90,278.22 527.96,279.29 528.03,280.37 528.09,281.48 528.15,282.59 528.22,283.71 528.28,284.83 528.34,285.97 528.35,286.15 528.40,287.10 528.47,288.25 528.53,289.40 528.59,290.56 528.66,291.72 528.72,292.89 528.78,294.07 528.85,295.25 528.91,296.44 528.97,297.64 529.03,298.84 529.10,300.05 529.16,300.43 529.22,299.06 529.29,297.69 529.35,296.31 529.41,294.92 529.47,293.53 529.54,292.13 529.60,290.72 529.66,289.31 529.73,287.89 529.79,286.46 529.85,285.03 529.92,283.59 529.93,283.32 529.98,282.14 530.04,280.70 530.10,279.25 530.17,277.80 530.23,276.34 530.29,274.88 530.36,273.41 530.42,271.94 530.48,270.46 530.55,268.97 530.61,267.48 530.67,265.99 530.73,265.32 530.80,266.55 530.86,267.79 530.92,269.03 530.99,270.28 531.05,271.58 531.11,272.91 531.18,274.25 531.24,275.60 531.30,276.97 531.36,278.35 531.43,279.75 531.49,281.16 531.50,281.45 531.55,282.58 531.62,284.02 531.68,285.48 531.74,286.94 531.81,288.42 531.87,289.92 531.93,291.43 531.99,292.96 532.06,294.50 532.12,296.05 532.18,297.62 532.25,299.20 532.31,299.93 532.37,298.48 532.44,297.00 532.50,295.51 532.56,294.01 532.62,292.50 532.69,290.97 532.75,289.42 532.81,287.86 532.88,286.29 532.94,284.70 533.00,283.09 533.06,281.47 533.08,281.11 533.13,279.83 533.19,278.14 533.25,276.43 533.32,274.71 533.38,272.96 533.44,271.20 533.51,269.42 533.57,267.62 533.63,265.79 533.69,263.95 533.76,262.09 533.82,260.18 533.88,259.17 533.95,260.71 534.01,262.26 534.07,263.82 534.14,265.39 534.20,266.98 534.26,268.58 534.32,270.19 534.39,271.81 534.45,273.45 534.51,275.10 534.58,276.75 534.64,278.42 534.66,278.84 534.70,280.11 534.77,281.80 534.83,283.51 534.89,285.23 534.95,286.96 535.02,288.70 535.08,290.46 535.14,292.23 535.21,294.01 535.27,295.80 535.33,297.60 535.40,299.42 535.46,300.34 535.52,298.40 535.58,296.46 535.65,294.50 535.71,292.53 535.77,290.55 535.84,288.55 535.90,286.55 535.96,284.53 536.03,282.49 536.09,280.45 536.15,278.39 536.21,276.33 536.23,275.77 536.28,274.31 536.34,272.37 536.40,270.43 536.47,268.51 536.53,266.58 536.59,264.67 536.66,262.76 536.72,260.85 536.78,258.95 536.84,257.06 536.91,255.17 536.97,253.28 537.03,252.25 537.10,254.21 537.16,256.16 537.22,258.10 537.28,260.04 537.35,261.97 537.41,263.89 537.47,265.80 537.54,267.71 537.60,269.61 537.66,271.50 537.73,273.38 537.79,275.25 537.81,275.79 537.85,277.12 537.91,278.98 537.98,280.83 538.04,282.67 538.10,284.51 538.17,286.34 538.23,288.16 538.29,289.97 538.36,291.78 538.42,293.57 538.48,295.36 538.54,297.14 538.61,298.18 538.67,296.31 538.73,294.44 538.80,292.58 538.86,290.73 538.92,288.89 538.99,287.06 539.05,285.23 539.11,283.42 539.17,281.61 539.24,279.81 539.30,278.01 539.36,276.23 539.38,275.68 539.43,274.41 539.49,272.52 539.55,270.64 539.62,268.75 539.68,266.85 539.74,264.94 539.80,263.03 539.87,261.12 539.93,259.20 539.99,257.28 540.06,255.34 540.12,253.41 540.18,252.12 540.25,253.79 540.31,255.46 540.37,257.13 540.43,258.81 540.50,260.48 540.56,262.16 540.62,263.84 540.69,265.53 540.75,267.21 540.81,268.90 540.87,270.59 540.94,272.28 540.96,272.84 541.00,273.98 541.06,275.68 541.13,277.38 541.19,279.08 541.25,280.79 541.32,282.49 541.38,284.20 541.44,285.91 541.50,287.63 541.57,289.34 541.63,291.06 541.69,292.78 541.76,293.92 541.82,291.98 541.88,290.04 541.95,288.09 542.01,286.15 542.07,284.20 542.13,282.25 542.20,280.29 542.26,278.34 542.32,276.38 542.39,274.41 542.45,272.45 542.51,270.48 542.53,269.78 542.58,268.49 542.64,266.49 542.70,264.48 542.76,262.47 542.83,260.45 542.89,258.43 542.95,256.40 543.02,254.36 543.08,252.32 543.14,250.29 543.21,248.26 543.27,246.21 543.33,244.68 543.39,246.41 543.46,248.16 543.52,249.91 543.58,251.67 543.65,253.44 543.71,255.23 543.77,257.02 543.84,258.83 543.90,260.65 543.96,262.47 544.02,264.31 544.09,266.16 544.11,266.85 544.15,268.02 544.21,269.89 544.28,271.78 544.34,273.67 544.40,275.57 544.46,277.49 544.53,279.41 544.59,281.35 544.65,283.30 544.72,285.25 544.78,287.22 544.84,289.20 544.91,290.71 544.97,288.64 545.03,286.56 545.09,284.47 545.16,282.37 545.22,280.26 545.28,278.13 545.35,276.00 545.41,273.85 545.47,271.69 545.54,269.54 545.60,267.40 545.66,265.25 545.69,264.40 545.72,263.09 545.79,260.92 545.85,258.75 545.91,256.58 545.98,254.39 546.04,252.21 546.10,250.01 546.17,247.81 546.23,245.60 546.29,243.39 546.35,241.17 546.42,238.94 546.48,237.13 546.54,239.15 546.61,241.19 546.67,243.23 546.73,245.27 546.80,247.32 546.86,249.38 546.92,251.43 546.98,253.47 547.05,255.52 547.11,257.56 547.17,259.61 547.24,261.66 547.26,262.51 547.30,263.72 547.36,265.77 547.43,267.83 547.49,269.89 547.55,271.95 547.61,274.01 547.68,276.08 547.74,278.15 547.80,280.22 547.87,282.29 547.93,284.37 547.99,286.44 548.05,288.18 548.12,285.92 548.18,283.66 548.24,281.40 548.31,279.13 548.37,276.86 548.43,274.59 548.50,272.31 548.56,270.04 548.62,267.76 548.68,265.48 548.75,263.20 548.81,260.80 548.84,259.76 548.87,258.39 548.94,255.95 549.00,253.50 549.06,251.03 549.13,248.55 549.19,246.04 549.25,243.52 549.31,240.98 549.38,238.42 549.44,235.84 549.50,233.25 549.57,230.64 549.63,228.28 549.69,230.26 549.76,232.26 549.82,234.27 549.88,236.31 549.94,238.36 550.01,240.43 550.07,242.51 550.13,244.60 550.20,246.71 550.26,248.84 550.32,250.98 550.39,253.14 550.41,254.12 550.45,255.31 550.51,257.50 550.57,259.71 550.64,261.93 550.70,264.17 550.76,266.42 550.83,268.69 550.89,270.98 550.95,273.28 551.02,275.60 551.08,277.94 551.14,280.29 551.20,282.47 551.27,279.81 551.33,277.14 551.39,274.45 551.46,271.75 551.52,269.02 551.58,266.29 551.64,263.53 551.71,260.76 551.77,257.97 551.83,255.17 551.90,252.35 551.96,249.57 551.99,248.26 552.02,246.79 552.09,244.00 552.15,241.20 552.21,238.39 552.27,235.58 552.34,232.75 552.40,229.92 552.46,227.08 552.53,224.23 552.59,221.37 552.65,218.51 552.72,215.64 552.78,212.84 552.84,215.28 552.90,217.72 552.97,220.17 553.03,222.63 553.09,225.09 553.16,227.63 553.22,230.20 553.28,232.79 553.35,235.40 553.41,238.03 553.47,240.68 553.53,243.36 553.57,244.69 553.60,246.06 553.66,248.78 553.72,251.52 553.79,254.28 553.85,257.07 553.91,259.88 553.98,262.71 554.04,265.56 554.10,268.43 554.16,271.33 554.23,274.25 554.29,277.19 554.35,280.15 554.42,277.34 554.48,274.48 554.54,271.60 554.61,268.70 554.67,265.78 554.73,262.83 554.79,259.87 554.86,256.88 554.92,253.86 554.98,250.83 555.05,247.76 555.11,244.67 555.14,243.06 555.17,241.54 555.23,238.40 555.30,235.23 555.36,232.03 555.42,228.82 555.49,225.57 555.55,222.30 555.61,219.01 555.68,215.69 555.74,212.35 555.80,208.98 555.86,205.59 555.93,202.18 555.99,204.99 556.05,208.02 556.12,211.07 556.18,214.14 556.24,217.22 556.31,220.32 556.37,223.44 556.43,226.57 556.49,229.71 556.56,232.87 556.62,236.04 556.68,239.23 556.72,240.94 556.75,242.43 556.81,245.65 556.87,248.88 556.94,252.12 557.00,255.38 557.06,258.65 557.12,261.94 557.19,265.24 557.25,268.55 557.31,271.69 557.38,274.83 557.44,277.97 557.50,281.11 557.57,277.85 557.63,274.29 557.69,270.73 557.75,267.17 557.82,263.61 557.88,260.05 557.94,256.49 558.01,252.94 558.07,249.38 558.13,245.83 558.20,242.28 558.26,238.73 558.29,236.76 558.32,235.18 558.38,231.63 558.45,228.09 558.51,224.54 558.57,221.00 558.64,217.46 558.70,213.92 558.76,210.38 558.82,206.85 558.89,203.31 558.95,199.78 559.01,196.25 559.08,192.72 559.14,195.43 559.20,198.56 559.27,201.70 559.33,204.84 559.39,207.97 559.45,211.10 559.52,214.23 559.58,217.36 559.64,220.49 559.71,223.61 559.77,226.74 559.83,229.87 559.87,231.67 559.90,233.00 559.96,236.12 560.02,239.25 560.08,242.36 560.15,245.48 560.21,248.59 560.27,251.70 560.34,254.81 560.40,257.91 560.46,261.04 560.53,264.16 560.59,267.29 560.65,270.42 560.71,267.50 560.78,264.01 560.84,260.53 560.90,257.04 560.97,253.56 561.03,250.08 561.09,246.60 561.16,243.12 561.22,239.64 561.28,236.18 561.34,232.75 561.41,229.32 561.44,227.28 561.47,225.90 561.53,222.48 561.60,219.08 561.66,215.68 561.72,212.28 561.79,208.89 561.85,205.51 561.91,202.13 561.97,198.76 562.04,195.39 562.10,192.00 562.16,188.61 562.23,185.22 562.29,187.67 562.35,190.81 562.42,193.96 562.48,197.12 562.54,200.28 562.60,203.44 562.67,206.60 562.73,209.77 562.79,212.94 562.86,216.12 562.92,219.30 562.98,222.48 563.02,224.45 563.04,225.67 563.11,228.86 563.17,232.05 563.23,235.25 563.30,238.45 563.36,241.66 563.42,244.87 563.49,248.08 563.55,251.29 563.61,254.51 563.67,257.74 563.74,260.96 563.80,264.18 563.86,261.61 563.93,258.20 563.99,254.78 564.05,251.36 564.12,247.94 564.18,244.52 564.24,241.09 564.30,237.66 564.37,234.23 564.43,230.83 564.49,227.45 564.56,224.09 564.60,221.94 564.62,220.72 564.68,217.37 564.75,214.01 564.81,210.66 564.87,207.32 564.93,203.98 565.00,200.65 565.06,197.32 565.12,193.99 565.19,190.67 565.25,187.36 565.31,184.05 565.38,180.74 565.44,183.05 565.50,186.32 565.56,189.58 565.63,192.85 565.69,196.10 565.75,199.35 565.82,202.60 565.88,205.84 565.94,209.08 566.01,212.31 566.07,215.54 566.13,218.76 566.17,220.88 566.19,221.98 566.26,225.19 566.32,228.40 566.38,231.61 566.45,234.81 566.51,238.00 566.57,241.19 566.63,244.37 566.70,247.56 566.76,250.73 566.82,253.90 566.89,257.07 566.95,260.39 567.01,258.36 567.08,255.24 567.14,252.11 567.20,248.97 567.26,245.82 567.33,242.67 567.39,239.51 567.45,236.34 567.52,233.13 567.58,229.84 567.64,226.53 567.71,223.20 567.75,220.93 567.77,219.84 567.83,216.47 567.89,213.07 567.96,209.66 568.02,206.22 568.08,202.77 568.15,199.29 568.21,195.79 568.27,192.27 568.34,188.73 568.40,185.16 568.46,181.58 568.52,177.98 568.59,179.96 568.65,183.26 568.71,186.58 568.78,189.91 568.84,193.27 568.90,196.65 568.97,200.06 569.03,203.48 569.09,206.92 569.15,210.39 569.22,213.87 569.28,217.38 569.32,219.84 569.34,220.90 569.41,224.45 569.47,228.02 569.53,231.61 569.60,235.22 569.66,238.85 569.72,242.50 569.78,246.18 569.85,249.87 569.91,253.59 569.97,257.32 570.04,260.89 570.10,264.33 570.16,261.94 570.22,258.00 570.29,254.07 570.35,250.14 570.41,246.21 570.48,242.29 570.54,238.36 570.60,234.43 570.67,230.51 570.73,226.58 570.79,222.66 570.85,218.74 570.90,215.92 570.92,214.97 570.98,211.63 571.04,208.35 571.11,205.12 571.17,201.95 571.23,198.84 571.30,195.79 571.36,192.79 571.42,189.86 571.48,186.98 571.55,184.16 571.61,181.39 571.67,178.69 571.74,181.11 571.80,185.01 571.86,188.85 571.93,192.63 571.99,196.35 572.05,200.01 572.11,203.62 572.18,207.17 572.24,210.66 572.30,214.09 572.37,217.47 572.43,220.78 572.48,223.21 572.49,224.04 572.56,227.04 572.62,229.97 572.68,232.88 572.74,235.75 572.81,238.59 572.87,241.40 572.93,244.18 573.00,246.93 573.06,249.64 573.12,252.33 573.19,254.98 573.25,257.61" fill="none" stroke="#0000ff" stroke-width="1.7" stroke-linejoin="round"/>
<path d="M69.70,346.19 69.76,346.20 69.83,346.22 69.89,346.24 69.95,346.26 70.01,346.29 70.08,346.31 70.14,346.34 70.20,346.37 70.27,346.40 70.33,346.43 70.39,346.46 70.46,346.49 70.52,346.53 70.58,346.57 70.64,346.61 70.71,346.65 70.77,346.69 70.83,346.73 70.90,346.78 70.96,346.83 71.02,346.87 71.09,346.92 71.15,346.98 71.18,347.01 71.21,346.98 71.27,346.92 71.34,346.87 71.40,346.82 71.46,346.76 71.53,346.71 71.59,346.66 71.65,346.61 71.72,346.57 71.78,346.52 71.84,346.48 71.90,346.43 71.97,346.39 72.03,346.35 72.09,346.31 72.16,346.27 72.22,346.24 72.28,346.20 72.35,346.17 72.41,346.14 72.47,346.11 72.53,346.08 72.60,346.05 72.66,346.02 72.72,346.00 72.76,345.98 72.79,345.99 72.85,346.00 72.91,346.02 72.98,346.05 73.04,346.07 73.10,346.10 73.16,346.12 73.23,346.15 73.29,346.18 73.35,346.21 73.42,346.25 73.48,346.28 73.54,346.32 73.60,346.36 73.67,346.40 73.73,346.44 73.79,346.48 73.86,346.53 73.92,346.57 73.98,346.62 74.05,346.67 74.11,346.72 74.17,346.78 74.23,346.83 74.30,346.89 74.35,346.94 74.36,346.92 74.42,346.86 74.49,346.80 74.55,346.74 74.61,346.69 74.68,346.63 74.74,346.58 74.80,346.52 74.86,346.47 74.93,346.42 74.99,346.37 75.05,346.33 75.12,346.28 75.18,346.24 75.24,346.20 75.31,346.16 75.37,346.12 75.43,346.08 75.49,346.04 75.56,346.01 75.62,345.97 75.68,345.94 75.75,345.91 75.81,345.89 75.87,345.86 75.93,345.84 75.94,345.84 76.00,345.86 76.06,345.88 76.12,345.90 76.19,345.93 76.25,345.95 76.31,345.98 76.38,346.01 76.44,346.04 76.50,346.08 76.57,346.11 76.63,346.15 76.69,346.19 76.75,346.23 76.82,346.27 76.88,346.32 76.94,346.36 77.01,346.41 77.07,346.46 77.13,346.51 77.19,346.57 77.26,346.62 77.32,346.68 77.38,346.74 77.45,346.80 77.51,346.87 77.51,346.87 77.57,346.80 77.64,346.74 77.70,346.68 77.76,346.61 77.82,346.55 77.89,346.49 77.95,346.44 78.01,346.38 78.08,346.33 78.14,346.27 78.20,346.22 78.27,346.17 78.33,346.13 78.39,346.08 78.45,346.04 78.52,345.99 78.58,345.95 78.64,345.91 78.71,345.88 78.77,345.84 78.83,345.81 78.90,345.77 78.96,345.74 79.02,345.71 79.08,345.69 79.09,345.68 79.15,345.70 79.21,345.72 79.27,345.75 79.34,345.77 79.40,345.80 79.46,345.83 79.53,345.86 79.59,345.89 79.65,345.93 79.71,345.96 79.78,346.00 79.84,346.04 79.90,346.09 79.97,346.13 80.03,346.18 80.09,346.22 80.16,346.27 80.22,346.33 80.28,346.38 80.34,346.43 80.41,346.49 80.47,346.55 80.53,346.61 80.60,346.68 80.66,346.74 80.68,346.76 80.72,346.71 80.78,346.64 80.85,346.58 80.91,346.51 80.97,346.45 81.04,346.38 81.10,346.32 81.16,346.26 81.23,346.21 81.29,346.15 81.35,346.09 81.41,346.04 81.48,345.99 81.54,345.94 81.60,345.89 81.67,345.85 81.73,345.80 81.79,345.76 81.86,345.72 81.92,345.68 81.98,345.64 82.04,345.60 82.11,345.57 82.17,345.54 82.23,345.50 82.26,345.49 82.30,345.51 82.36,345.53 82.42,345.56 82.49,345.58 82.55,345.61 82.61,345.64 82.67,345.68 82.74,345.71 82.80,345.75 82.86,345.79 82.93,345.83 82.99,345.88 83.05,345.92 83.12,345.97 83.18,346.02 83.24,346.07 83.30,346.13 83.37,346.18 83.43,346.24 83.49,346.30 83.56,346.36 83.62,346.43 83.68,346.50 83.75,346.57 83.81,346.64 83.84,346.68 83.87,346.64 83.93,346.57 84.00,346.49 84.06,346.42 84.12,346.35 84.19,346.28 84.25,346.22 84.31,346.15 84.38,346.09 84.44,346.03 84.50,345.98 84.56,345.92 84.63,345.86 84.69,345.81 84.75,345.76 84.82,345.71 84.88,345.67 84.94,345.62 85.00,345.58 85.07,345.54 85.13,345.50 85.19,345.47 85.26,345.43 85.32,345.40 85.38,345.37 85.42,345.35 85.45,345.36 85.51,345.38 85.57,345.41 85.63,345.43 85.70,345.46 85.76,345.49 85.82,345.52 85.89,345.56 85.95,345.59 86.01,345.63 86.08,345.68 86.14,345.72 86.20,345.77 86.26,345.81 86.33,345.86 86.39,345.92 86.45,345.97 86.52,346.03 86.58,346.09 86.64,346.15 86.71,346.21 86.77,346.28 86.83,346.35 86.89,346.42 86.96,346.50 87.01,346.55 87.02,346.54 87.08,346.46 87.15,346.38 87.21,346.31 87.27,346.23 87.34,346.16 87.40,346.09 87.46,346.02 87.52,345.95 87.59,345.89 87.65,345.83 87.71,345.76 87.78,345.71 87.84,345.65 87.90,345.59 87.97,345.54 88.03,345.48 88.09,345.43 88.15,345.38 88.22,345.34 88.28,345.29 88.34,345.25 88.41,345.21 88.47,345.17 88.53,345.13 88.59,345.10 88.59,345.10 88.66,345.13 88.72,345.16 88.78,345.19 88.85,345.23 88.91,345.26 88.97,345.30 89.04,345.35 89.10,345.39 89.16,345.44 89.22,345.48 89.29,345.53 89.35,345.59 89.41,345.64 89.48,345.70 89.54,345.76 89.60,345.82 89.67,345.89 89.73,345.95 89.79,346.02 89.85,346.09 89.92,346.17 89.98,346.24 90.04,346.32 90.11,346.40 90.17,346.48 90.17,346.49 90.23,346.40 90.30,346.32 90.36,346.24 90.42,346.15 90.48,346.08 90.55,346.00 90.61,345.93 90.67,345.85 90.74,345.78 90.80,345.72 90.86,345.65 90.93,345.59 90.99,345.53 91.05,345.47 91.11,345.41 91.18,345.36 91.24,345.30 91.30,345.25 91.37,345.21 91.43,345.16 91.49,345.12 91.56,345.08 91.62,345.04 91.68,345.00 91.74,344.97 91.75,344.96 91.81,344.98 91.87,345.01 91.93,345.04 92.00,345.08 92.06,345.11 92.12,345.15 92.18,345.19 92.25,345.24 92.31,345.28 92.37,345.33 92.44,345.39 92.50,345.44 92.56,345.50 92.63,345.56 92.69,345.62 92.75,345.69 92.81,345.75 92.88,345.83 92.94,345.90 93.00,345.98 93.07,346.05 93.13,346.14 93.19,346.22 93.26,346.31 93.32,346.40 93.34,346.43 93.38,346.36 93.44,346.26 93.51,346.17 93.57,346.08 93.63,346.00 93.70,345.91 93.76,345.83 93.82,345.75 93.89,345.67 93.95,345.60 94.01,345.52 94.07,345.45 94.14,345.38 94.20,345.32 94.26,345.25 94.33,345.19 94.39,345.13 94.45,345.07 94.52,345.01 94.58,344.96 94.64,344.91 94.70,344.86 94.77,344.82 94.83,344.77 94.89,344.73 94.92,344.71 94.96,344.73 95.02,344.77 95.08,344.80 95.15,344.84 95.21,344.89 95.27,344.93 95.33,344.98 95.40,345.03 95.46,345.08 95.52,345.14 95.59,345.20 95.65,345.26 95.71,345.32 95.77,345.39 95.84,345.46 95.90,345.53 95.96,345.61 96.03,345.69 96.09,345.77 96.15,345.85 96.22,345.94 96.28,346.03 96.34,346.12 96.40,346.21 96.47,346.31 96.50,346.36 96.53,346.32 96.59,346.22 96.66,346.12 96.72,346.02 96.78,345.93 96.85,345.83 96.91,345.74 96.97,345.66 97.03,345.57 97.10,345.49 97.16,345.41 97.22,345.34 97.29,345.26 97.35,345.19 97.41,345.12 97.48,345.06 97.54,344.99 97.60,344.93 97.66,344.87 97.73,344.82 97.79,344.76 97.85,344.71 97.92,344.66 97.98,344.62 98.04,344.58 98.08,344.55 98.11,344.56 98.17,344.60 98.23,344.63 98.29,344.67 98.36,344.72 98.42,344.76 98.48,344.81 98.55,344.86 98.61,344.92 98.67,344.98 98.74,345.04 98.80,345.10 98.86,345.17 98.92,345.24 98.99,345.31 99.05,345.39 99.11,345.47 99.18,345.55 99.24,345.64 99.30,345.73 99.36,345.82 99.43,345.91 99.49,346.01 99.55,346.11 99.62,346.22 99.67,346.30 99.68,346.28 99.74,346.17 99.81,346.06 99.87,345.96 99.93,345.85 99.99,345.75 100.06,345.66 100.12,345.56 100.18,345.47 100.25,345.38 100.31,345.30 100.37,345.21 100.44,345.13 100.50,345.06 100.56,344.98 100.62,344.91 100.69,344.84 100.75,344.78 100.81,344.71 100.88,344.65 100.94,344.60 101.00,344.54 101.07,344.49 101.13,344.44 101.19,344.40 101.25,344.36 101.25,344.36 101.32,344.40 101.38,344.43 101.44,344.47 101.51,344.52 101.57,344.56 101.63,344.61 101.70,344.66 101.76,344.72 101.82,344.77 101.88,344.83 101.95,344.90 102.01,344.96 102.07,345.03 102.14,345.10 102.20,345.17 102.26,345.25 102.33,345.33 102.39,345.41 102.45,345.50 102.51,345.59 102.58,345.68 102.64,345.77 102.70,345.87 102.77,345.97 102.83,346.07 102.83,346.07 102.89,345.97 102.95,345.86 103.02,345.76 103.08,345.66 103.14,345.56 103.21,345.46 103.27,345.37 103.33,345.27 103.40,345.19 103.46,345.10 103.52,345.02 103.58,344.94 103.65,344.86 103.71,344.78 103.77,344.71 103.84,344.64 103.90,344.57 103.96,344.51 104.03,344.45 104.09,344.39 104.15,344.33 104.21,344.28 104.28,344.23 104.34,344.18 104.40,344.13 104.41,344.13 104.47,344.16 104.53,344.20 104.59,344.24 104.66,344.28 104.72,344.33 104.78,344.38 104.84,344.43 104.91,344.49 104.97,344.54 105.03,344.60 105.10,344.67 105.16,344.73 105.22,344.80 105.29,344.87 105.35,344.94 105.41,345.02 105.47,345.10 105.54,345.18 105.60,345.26 105.66,345.35 105.73,345.44 105.79,345.53 105.85,345.62 105.92,345.72 105.98,345.82 106.00,345.85 106.04,345.77 106.10,345.67 106.17,345.56 106.23,345.46 106.29,345.37 106.36,345.27 106.42,345.18 106.48,345.09 106.54,345.00 106.61,344.92 106.67,344.84 106.73,344.76 106.80,344.68 106.86,344.61 106.92,344.54 106.99,344.47 107.05,344.41 107.11,344.35 107.17,344.29 107.24,344.23 107.30,344.17 107.36,344.12 107.43,344.07 107.49,344.03 107.55,343.98 107.58,343.97 107.62,343.99 107.68,344.02 107.74,344.06 107.80,344.10 107.87,344.15 107.93,344.20 107.99,344.25 108.06,344.30 108.12,344.36 108.18,344.41 108.25,344.48 108.31,344.54 108.37,344.61 108.43,344.68 108.50,344.75 108.56,344.83 108.62,344.91 108.69,344.99 108.75,345.07 108.81,345.16 108.88,345.25 108.94,345.35 109.00,345.44 109.06,345.54 109.13,345.65 109.16,345.70 109.19,345.65 109.25,345.54 109.32,345.43 109.38,345.33 109.44,345.23 109.51,345.13 109.57,345.03 109.63,344.94 109.69,344.85 109.76,344.76 109.82,344.68 109.88,344.60 109.95,344.52 110.01,344.44 110.07,344.37 110.14,344.30 110.20,344.23 110.26,344.17 110.32,344.11 110.39,344.05 110.45,343.99 110.51,343.94 110.58,343.89 110.64,343.84 110.70,343.80 110.74,343.77 110.76,343.78 110.83,343.81 110.89,343.85 110.95,343.90 111.02,343.94 111.08,343.99 111.14,344.04 111.21,344.10 111.27,344.16 111.33,344.22 111.39,344.28 111.46,344.35 111.52,344.42 111.58,344.50 111.65,344.58 111.71,344.66 111.77,344.74 111.84,344.83 111.90,344.92 111.96,345.02 112.02,345.11 112.09,345.22 112.15,345.32 112.21,345.43 112.28,345.54 112.33,345.63 112.34,345.60 112.40,345.48 112.47,345.37 112.53,345.25 112.59,345.14 112.65,345.03 112.72,344.93 112.78,344.83 112.84,344.73 112.91,344.63 112.97,344.54 113.03,344.45 113.10,344.37 113.16,344.28 113.22,344.20 113.28,344.13 113.35,344.05 113.41,343.98 113.47,343.91 113.54,343.85 113.60,343.79 113.66,343.73 113.73,343.68 113.79,343.62 113.85,343.57 113.91,343.53 113.91,343.54 113.98,343.57 114.04,343.61 114.10,343.66 114.17,343.70 114.23,343.75 114.29,343.80 114.35,343.86 114.42,343.92 114.48,343.98 114.54,344.04 114.61,344.11 114.67,344.18 114.73,344.25 114.80,344.32 114.86,344.40 114.92,344.48 114.98,344.56 115.05,344.65 115.11,344.74 115.17,344.83 115.24,344.92 115.30,345.02 115.36,345.12 115.43,345.22 115.49,345.33 115.49,345.33 115.55,345.22 115.61,345.11 115.68,345.01 115.74,344.90 115.80,344.80 115.87,344.70 115.93,344.61 115.99,344.51 116.06,344.42 116.12,344.34 116.18,344.26 116.24,344.17 116.31,344.10 116.37,344.02 116.43,343.95 116.50,343.88 116.56,343.82 116.62,343.75 116.69,343.69 116.75,343.64 116.81,343.58 116.87,343.53 116.94,343.49 117.00,343.44 117.06,343.40 117.07,343.39 117.13,343.42 117.19,343.46 117.25,343.50 117.32,343.54 117.38,343.58 117.44,343.63 117.50,343.68 117.57,343.74 117.63,343.80 117.69,343.86 117.76,343.92 117.82,343.99 117.88,344.06 117.94,344.14 118.01,344.21 118.07,344.29 118.13,344.38 118.20,344.46 118.26,344.56 118.32,344.65 118.39,344.75 118.45,344.85 118.51,344.95 118.57,345.05 118.64,345.16 118.66,345.20 118.70,345.11 118.76,345.00 118.83,344.88 118.89,344.77 118.95,344.67 119.02,344.56 119.08,344.46 119.14,344.36 119.20,344.27 119.27,344.17 119.33,344.08 119.39,344.00 119.46,343.91 119.52,343.83 119.58,343.75 119.65,343.67 119.71,343.60 119.77,343.53 119.83,343.46 119.90,343.40 119.96,343.34 120.02,343.28 120.09,343.22 120.15,343.17 120.21,343.12 120.24,343.10 120.28,343.12 120.34,343.17 120.40,343.21 120.46,343.26 120.53,343.31 120.59,343.37 120.65,343.43 120.72,343.49 120.78,343.56 120.84,343.63 120.91,343.70 120.97,343.77 121.03,343.85 121.09,343.93 121.16,344.02 121.22,344.11 121.28,344.20 121.35,344.29 121.41,344.39 121.47,344.49 121.53,344.60 121.60,344.70 121.66,344.82 121.72,344.93 121.79,345.05 121.82,345.11 121.85,345.05 121.91,344.93 121.98,344.81 122.04,344.69 122.10,344.57 122.16,344.46 122.23,344.35 122.29,344.25 122.35,344.14 122.42,344.04 122.48,343.95 122.54,343.85 122.61,343.76 122.67,343.68 122.73,343.59 122.79,343.51 122.86,343.44 122.92,343.36 122.98,343.29 123.05,343.22 123.11,343.16 123.17,343.10 123.24,343.04 123.30,342.98 123.36,342.93 123.40,342.90 123.42,342.91 123.49,342.96 123.55,343.00 123.61,343.05 123.68,343.10 123.74,343.15 123.80,343.21 123.87,343.26 123.93,343.32 123.99,343.39 124.05,343.45 124.12,343.52 124.18,343.60 124.24,343.67 124.31,343.75 124.37,343.83 124.43,343.91 124.50,343.99 124.56,344.08 124.62,344.17 124.68,344.27 124.75,344.36 124.81,344.46 124.87,344.56 124.94,344.67 124.99,344.75 125.00,344.73 125.06,344.62 125.12,344.51 125.19,344.40 125.25,344.30 125.31,344.19 125.38,344.09 125.44,344.00 125.50,343.90 125.57,343.81 125.63,343.72 125.69,343.63 125.75,343.54 125.82,343.46 125.88,343.38 125.94,343.30 126.01,343.23 126.07,343.15 126.13,343.08 126.20,343.01 126.26,342.95 126.32,342.89 126.38,342.83 126.45,342.77 126.51,342.71 126.57,342.67 126.57,342.67 126.64,342.71 126.70,342.75 126.76,342.80 126.83,342.85 126.89,342.91 126.95,342.97 127.01,343.03 127.08,343.09 127.14,343.16 127.20,343.24 127.27,343.32 127.33,343.40 127.39,343.48 127.46,343.57 127.52,343.66 127.58,343.76 127.64,343.86 127.71,343.97 127.77,344.08 127.83,344.19 127.90,344.31 127.96,344.43 128.02,344.55 128.09,344.68 128.15,344.82 128.15,344.82 128.21,344.69 128.27,344.56 128.34,344.43 128.40,344.30 128.46,344.18 128.53,344.05 128.59,343.94 128.65,343.82 128.71,343.71 128.78,343.60 128.84,343.49 128.90,343.39 128.97,343.29 129.03,343.19 129.09,343.10 129.16,343.01 129.22,342.93 129.28,342.84 129.34,342.76 129.41,342.69 129.47,342.62 129.53,342.55 129.60,342.48 129.66,342.42 129.72,342.36 129.73,342.35 129.79,342.39 129.85,342.44 129.91,342.49 129.97,342.55 130.04,342.61 130.10,342.68 130.16,342.75 130.23,342.83 130.29,342.91 130.35,342.99 130.42,343.08 130.48,343.17 130.54,343.27 130.60,343.38 130.67,343.48 130.73,343.60 130.79,343.71 130.86,343.84 130.92,343.96 130.98,344.10 131.05,344.23 131.11,344.37 131.17,344.52 131.23,344.67 131.30,344.83 131.32,344.87 131.36,344.76 131.42,344.60 131.49,344.45 131.55,344.30 131.61,344.15 131.68,344.01 131.74,343.87 131.80,343.73 131.86,343.60 131.93,343.47 131.99,343.35 132.05,343.23 132.12,343.11 132.18,343.00 132.24,342.89 132.30,342.78 132.37,342.68 132.43,342.58 132.49,342.49 132.56,342.40 132.62,342.32 132.68,342.23 132.75,342.16 132.81,342.08 132.87,342.01 132.90,341.99 132.93,342.02 133.00,342.08 133.06,342.14 133.12,342.20 133.19,342.27 133.25,342.34 133.31,342.42 133.38,342.50 133.44,342.59 133.50,342.67 133.56,342.77 133.63,342.87 133.69,342.97 133.75,343.07 133.82,343.18 133.88,343.30 133.94,343.42 134.01,343.54 134.07,343.67 134.13,343.80 134.19,343.94 134.26,344.08 134.32,344.22 134.38,344.37 134.45,344.53 134.48,344.61 134.51,344.54 134.57,344.38 134.64,344.23 134.70,344.08 134.76,343.93 134.82,343.79 134.89,343.65 134.95,343.52 135.01,343.39 135.08,343.26 135.14,343.14 135.20,343.03 135.27,342.91 135.33,342.81 135.39,342.70 135.45,342.60 135.52,342.51 135.58,342.41 135.64,342.33 135.71,342.24 135.77,342.17 135.83,342.09 135.89,342.02 135.96,341.96 136.02,341.90 136.06,341.86 136.08,341.88 136.15,341.92 136.21,341.98 136.27,342.03 136.34,342.10 136.40,342.17 136.46,342.24 136.52,342.32 136.59,342.40 136.65,342.49 136.71,342.59 136.78,342.69 136.84,342.80 136.90,342.91 136.97,343.03 137.03,343.15 137.09,343.28 137.15,343.42 137.22,343.56 137.28,343.70 137.34,343.86 137.41,344.01 137.47,344.18 137.53,344.35 137.60,344.52 137.65,344.66 137.66,344.63 137.72,344.44 137.78,344.27 137.85,344.09 137.91,343.93 137.97,343.76 138.04,343.60 138.10,343.45 138.16,343.30 138.23,343.16 138.29,343.02 138.35,342.88 138.41,342.75 138.48,342.63 138.54,342.51 138.60,342.39 138.67,342.28 138.73,342.18 138.79,342.08 138.86,341.98 138.92,341.90 138.98,341.81 139.04,341.73 139.11,341.66 139.17,341.59 139.23,341.53 139.23,341.53 139.30,341.59 139.36,341.65 139.42,341.71 139.49,341.78 139.55,341.86 139.61,341.94 139.67,342.03 139.74,342.13 139.80,342.23 139.86,342.34 139.93,342.46 139.99,342.58 140.05,342.71 140.11,342.84 140.18,342.98 140.24,343.13 140.30,343.28 140.37,343.44 140.43,343.61 140.49,343.78 140.56,343.96 140.62,344.15 140.68,344.34 140.74,344.54 140.81,344.75 140.81,344.76 140.87,344.56 140.93,344.35 141.00,344.15 141.06,343.96 141.12,343.76 141.19,343.58 141.25,343.40 141.31,343.22 141.37,343.05 141.44,342.88 141.50,342.72 141.56,342.56 141.63,342.41 141.69,342.26 141.75,342.12 141.82,341.99 141.88,341.85 141.94,341.73 142.00,341.61 142.07,341.49 142.13,341.38 142.19,341.27 142.26,341.17 142.32,341.08 142.38,340.99 142.39,340.97 142.45,341.04 142.51,341.12 142.57,341.20 142.63,341.29 142.70,341.38 142.76,341.48 142.82,341.59 142.89,341.70 142.95,341.81 143.01,341.93 143.08,342.05 143.14,342.18 143.20,342.32 143.26,342.46 143.33,342.60 143.39,342.75 143.45,342.90 143.52,343.06 143.58,343.23 143.64,343.40 143.70,343.57 143.77,343.75 143.83,343.94 143.89,344.13 143.96,344.33 143.97,344.38 144.02,344.24 144.08,344.04 144.15,343.85 144.21,343.66 144.27,343.48 144.33,343.30 144.40,343.12 144.46,342.95 144.52,342.79 144.59,342.63 144.65,342.47 144.71,342.32 144.78,342.17 144.84,342.03 144.90,341.89 144.96,341.76 145.03,341.63 145.09,341.51 145.15,341.39 145.22,341.27 145.28,341.17 145.34,341.06 145.41,340.96 145.47,340.87 145.53,340.78 145.56,340.74 145.59,340.79 145.66,340.87 145.72,340.95 145.78,341.04 145.85,341.14 145.91,341.24 145.97,341.35 146.04,341.46 146.10,341.58 146.16,341.71 146.22,341.84 146.29,341.98 146.35,342.13 146.41,342.28 146.48,342.44 146.54,342.61 146.60,342.78 146.67,342.96 146.73,343.14 146.79,343.33 146.85,343.53 146.92,343.73 146.98,343.94 147.04,344.16 147.11,344.38 147.14,344.51 147.17,344.40 147.23,344.17 147.29,343.95 147.36,343.73 147.42,343.52 147.48,343.32 147.55,343.12 147.61,342.92 147.67,342.73 147.74,342.54 147.80,342.36 147.86,342.19 147.92,342.02 147.99,341.86 148.05,341.70 148.11,341.55 148.18,341.40 148.24,341.26 148.30,341.12 148.37,340.99 148.43,340.87 148.49,340.75 148.55,340.64 148.62,340.53 148.68,340.43 148.72,340.36 148.74,340.39 148.81,340.48 148.87,340.57 148.93,340.67 149.00,340.78 149.06,340.90 149.12,341.02 149.18,341.15 149.25,341.28 149.31,341.42 149.37,341.57 149.44,341.72 149.50,341.89 149.56,342.06 149.63,342.23 149.69,342.41 149.75,342.60 149.81,342.80 149.88,343.01 149.94,343.22 150.00,343.43 150.07,343.66 150.13,343.89 150.19,344.13 150.26,344.38 150.30,344.58 150.32,344.52 150.38,344.27 150.44,344.02 150.51,343.78 150.57,343.54 150.63,343.31 150.70,343.09 150.76,342.87 150.82,342.66 150.88,342.45 150.95,342.26 151.01,342.06 151.07,341.88 151.14,341.70 151.20,341.53 151.26,341.36 151.33,341.20 151.39,341.05 151.45,340.90 151.51,340.76 151.58,340.63 151.64,340.50 151.70,340.38 151.77,340.27 151.83,340.16 151.89,340.07 151.89,340.08 151.96,340.16 152.02,340.25 152.08,340.35 152.14,340.46 152.21,340.57 152.27,340.69 152.33,340.82 152.40,340.95 152.46,341.10 152.52,341.25 152.59,341.41 152.65,341.57 152.71,341.75 152.77,341.93 152.84,342.12 152.90,342.32 152.96,342.52 153.03,342.73 153.09,342.96 153.15,343.19 153.22,343.42 153.28,343.67 153.34,343.92 153.40,344.18 153.47,344.45 153.47,344.46 153.53,344.20 153.59,343.93 153.66,343.67 153.72,343.42 153.78,343.17 153.85,342.92 153.91,342.69 153.97,342.46 154.03,342.24 154.10,342.02 154.16,341.81 154.22,341.60 154.29,341.41 154.35,341.22 154.41,341.03 154.47,340.86 154.54,340.69 154.60,340.52 154.66,340.37 154.73,340.22 154.79,340.07 154.85,339.94 154.92,339.81 154.98,339.68 155.04,339.57 155.05,339.55 155.10,339.63 155.17,339.73 155.23,339.84 155.29,339.96 155.36,340.09 155.42,340.22 155.48,340.36 155.55,340.51 155.61,340.66 155.67,340.82 155.73,340.99 155.80,341.17 155.86,341.36 155.92,341.55 155.99,341.75 156.05,341.96 156.11,342.17 156.18,342.40 156.24,342.63 156.30,342.87 156.36,343.11 156.43,343.37 156.49,343.63 156.55,343.90 156.62,344.18 156.63,344.26 156.68,344.06 156.74,343.78 156.81,343.51 156.87,343.24 156.93,342.98 156.99,342.73 157.06,342.48 157.12,342.24 157.18,342.01 157.25,341.79 157.31,341.57 157.37,341.36 157.44,341.16 157.50,340.96 157.56,340.77 157.62,340.59 157.69,340.42 157.75,340.25 157.81,340.09 157.88,339.94 157.94,339.79 158.00,339.65 158.06,339.52 158.13,339.40 158.19,339.29 158.22,339.24 158.25,339.30 158.32,339.40 158.38,339.50 158.44,339.62 158.51,339.74 158.57,339.87 158.63,340.01 158.69,340.15 158.76,340.30 158.82,340.47 158.88,340.63 158.95,340.81 159.01,341.00 159.07,341.19 159.14,341.39 159.20,341.60 159.26,341.81 159.32,342.04 159.39,342.27 159.45,342.51 159.51,342.76 159.58,343.02 159.64,343.28 159.70,343.56 159.77,343.84 159.80,343.99 159.83,343.86 159.89,343.57 159.95,343.29 160.02,343.02 160.08,342.76 160.14,342.50 160.21,342.25 160.27,342.01 160.33,341.78 160.40,341.56 160.46,341.34 160.52,341.14 160.58,340.94 160.65,340.75 160.71,340.56 160.77,340.39 160.84,340.22 160.90,340.06 160.96,339.91 161.03,339.76 161.09,339.62 161.15,339.49 161.21,339.37 161.28,339.26 161.34,339.15 161.38,339.08 161.40,339.11 161.47,339.20 161.53,339.30 161.59,339.41 161.65,339.53 161.72,339.66 161.78,339.80 161.84,339.94 161.91,340.10 161.97,340.26 162.03,340.44 162.10,340.62 162.16,340.81 162.22,341.01 162.28,341.23 162.35,341.45 162.41,341.68 162.47,341.92 162.54,342.17 162.60,342.43 162.66,342.69 162.73,342.97 162.79,343.26 162.85,343.56 162.91,343.87 162.96,344.12 162.98,344.05 163.04,343.73 163.10,343.42 163.17,343.12 163.23,342.82 163.29,342.54 163.36,342.26 163.42,341.99 163.48,341.72 163.54,341.47 163.61,341.22 163.67,340.98 163.73,340.74 163.80,340.52 163.86,340.30 163.92,340.08 163.99,339.88 164.05,339.68 164.11,339.49 164.17,339.30 164.24,339.12 164.30,338.94 164.36,338.77 164.43,338.61 164.49,338.45 164.55,338.31 164.55,338.32 164.62,338.46 164.68,338.60 164.74,338.76 164.80,338.92 164.87,339.08 164.93,339.25 164.99,339.43 165.06,339.62 165.12,339.81 165.18,340.01 165.25,340.22 165.31,340.43 165.37,340.65 165.43,340.88 165.50,341.12 165.56,341.36 165.62,341.61 165.69,341.87 165.75,342.14 165.81,342.41 165.87,342.70 165.94,342.99 166.00,343.29 166.06,343.60 166.13,343.92 166.13,343.94 166.19,343.63 166.25,343.31 166.32,343.00 166.38,342.71 166.44,342.42 166.50,342.14 166.57,341.86 166.63,341.60 166.69,341.34 166.76,341.09 166.82,340.85 166.88,340.61 166.95,340.39 167.01,340.17 167.07,339.95 167.13,339.74 167.20,339.54 167.26,339.35 167.32,339.15 167.39,338.97 167.45,338.79 167.51,338.61 167.58,338.44 167.64,338.27 167.70,338.10 167.71,338.07 167.76,338.20 167.83,338.35 167.89,338.52 167.95,338.68 168.02,338.85 168.08,339.03 168.14,339.22 168.21,339.41 168.27,339.60 168.33,339.81 168.39,340.02 168.46,340.24 168.52,340.46 168.58,340.70 168.65,340.94 168.71,341.19 168.77,341.45 168.84,341.72 168.90,341.99 168.96,342.28 169.02,342.57 169.09,342.87 169.15,343.19 169.21,343.51 169.28,343.85 169.29,343.95 169.34,343.70 169.40,343.37 169.46,343.04 169.53,342.73 169.59,342.42 169.65,342.12 169.72,341.84 169.78,341.56 169.84,341.28 169.91,341.02 169.97,340.76 170.03,340.51 170.09,340.27 170.16,340.03 170.22,339.80 170.28,339.57 170.35,339.35 170.41,339.13 170.47,338.92 170.54,338.71 170.60,338.51 170.66,338.30 170.72,338.10 170.79,337.90 170.85,337.70 170.88,337.61 170.91,337.72 170.98,337.91 171.04,338.10 171.10,338.30 171.17,338.49 171.23,338.69 171.29,338.90 171.35,339.11 171.42,339.32 171.48,339.54 171.54,339.76 171.61,339.99 171.67,340.23 171.73,340.48 171.80,340.73 171.86,340.98 171.92,341.25 171.98,341.52 172.05,341.80 172.11,342.09 172.17,342.39 172.24,342.69 172.30,343.01 172.36,343.34 172.43,343.67 172.46,343.86 172.49,343.70 172.55,343.36 172.61,343.04 172.68,342.72 172.74,342.41 172.80,342.11 172.87,341.82 172.93,341.54 172.99,341.27 173.05,341.00 173.12,340.74 173.18,340.48 173.24,340.23 173.31,339.99 173.37,339.75 173.43,339.52 173.50,339.29 173.56,339.06 173.62,338.84 173.68,338.61 173.75,338.39 173.81,338.17 173.87,337.95 173.94,337.73 174.00,337.50 174.04,337.35 174.06,337.42 174.13,337.64 174.19,337.85 174.25,338.07 174.31,338.29 174.38,338.51 174.44,338.74 174.50,338.97 174.57,339.21 174.63,339.45 174.69,339.70 174.76,339.95 174.82,340.22 174.88,340.49 174.94,340.77 175.01,341.05 175.07,341.35 175.13,341.66 175.20,341.97 175.26,342.30 175.32,342.64 175.39,342.99 175.45,343.35 175.51,343.73 175.57,344.12 175.62,344.44 175.64,344.36 175.70,343.96 175.76,343.57 175.83,343.20 175.89,342.84 175.95,342.48 176.02,342.14 176.08,341.80 176.14,341.47 176.20,341.15 176.27,340.83 176.33,340.52 176.39,340.22 176.46,339.91 176.52,339.61 176.58,339.32 176.64,339.02 176.71,338.72 176.77,338.43 176.83,338.13 176.90,337.83 176.96,337.53 177.02,337.22 177.09,336.91 177.15,336.59 177.21,336.28 177.21,336.31 177.27,336.62 177.34,336.93 177.40,337.24 177.46,337.54 177.53,337.83 177.59,338.13 177.65,338.43 177.72,338.72 177.78,339.02 177.84,339.32 177.90,339.62 177.97,339.92 178.03,340.23 178.09,340.54 178.16,340.85 178.22,341.17 178.28,341.50 178.35,341.83 178.41,342.17 178.47,342.52 178.53,342.88 178.60,343.25 178.66,343.63 178.72,344.03 178.79,344.44 178.79,344.46 178.85,344.06 178.91,343.67 178.98,343.29 179.04,342.93 179.10,342.58 179.16,342.23 179.23,341.90 179.29,341.58 179.35,341.26 179.42,340.96 179.48,340.65 179.54,340.36 179.61,340.07 179.67,339.78 179.73,339.50 179.79,339.22 179.86,338.94 179.92,338.66 179.98,338.38 180.05,338.11 180.11,337.82 180.17,337.54 180.23,337.25 180.30,336.95 180.36,336.64 180.37,336.59 180.42,336.84 180.49,337.14 180.55,337.43 180.61,337.71 180.68,337.99 180.74,338.26 180.80,338.53 180.86,338.80 180.93,339.07 180.99,339.34 181.05,339.61 181.12,339.88 181.18,340.15 181.24,340.42 181.31,340.69 181.37,340.97 181.43,341.25 181.49,341.54 181.56,341.83 181.62,342.13 181.68,342.44 181.75,342.75 181.81,343.08 181.87,343.41 181.94,343.76 181.95,343.87 182.00,343.61 182.06,343.27 182.12,342.94 182.19,342.62 182.25,342.31 182.31,342.01 182.38,341.71 182.44,341.43 182.50,341.15 182.57,340.88 182.63,340.61 182.69,340.35 182.75,340.09 182.82,339.82 182.88,339.56 182.94,339.30 183.01,339.04 183.07,338.78 183.13,338.51 183.20,338.24 183.26,337.96 183.32,337.67 183.38,337.37 183.45,337.07 183.51,336.75 183.54,336.61 183.57,336.80 183.64,337.11 183.70,337.42 183.76,337.71 183.82,338.00 183.89,338.29 183.95,338.56 184.01,338.84 184.08,339.12 184.14,339.39 184.20,339.66 184.27,339.93 184.33,340.21 184.39,340.49 184.45,340.77 184.52,341.05 184.58,341.34 184.64,341.63 184.71,341.93 184.77,342.24 184.83,342.56 184.90,342.88 184.96,343.22 185.02,343.58 185.08,343.94 185.12,344.15 185.15,343.97 185.21,343.60 185.27,343.25 185.34,342.90 185.40,342.57 185.46,342.25 185.53,341.94 185.59,341.64 185.65,341.34 185.71,341.04 185.78,340.75 185.84,340.46 185.90,340.18 185.97,339.89 186.03,339.60 186.09,339.30 186.16,339.01 186.22,338.70 186.28,338.39 186.34,338.07 186.41,337.74 186.47,337.40 186.53,337.05 186.60,336.68 186.66,336.29 186.70,336.02 186.72,336.16 186.79,336.54 186.85,336.91 186.91,337.27 186.97,337.62 187.04,337.95 187.10,338.27 187.16,338.58 187.23,338.88 187.29,339.18 187.35,339.47 187.41,339.75 187.48,340.03 187.54,340.30 187.60,340.58 187.67,340.85 187.73,341.12 187.79,341.39 187.86,341.66 187.92,341.94 187.98,342.22 188.04,342.50 188.11,342.80 188.17,343.10 188.23,343.41 188.28,343.67 188.30,343.60 188.36,343.28 188.42,342.97 188.49,342.67 188.55,342.38 188.61,342.09 188.67,341.81 188.74,341.54 188.80,341.26 188.86,340.99 188.93,340.71 188.99,340.43 189.05,340.15 189.12,339.86 189.18,339.57 189.24,339.26 189.30,338.95 189.37,338.62 189.43,338.28 189.49,337.93 189.56,337.56 189.62,337.17 189.68,336.76 189.75,336.33 189.81,335.88 189.87,335.44 189.87,335.48 189.93,335.95 190.00,336.40 190.06,336.82 190.12,337.23 190.19,337.61 190.25,337.98 190.31,338.34 190.38,338.68 190.44,339.01 190.50,339.33 190.56,339.64 190.63,339.94 190.69,340.23 190.75,340.53 190.82,340.81 190.88,341.10 190.94,341.38 191.01,341.67 191.07,341.96 191.13,342.25 191.19,342.55 191.26,342.85 191.32,343.17 191.38,343.50 191.45,343.84 191.45,343.85 191.51,343.52 191.57,343.19 191.63,342.87 191.70,342.56 191.76,342.26 191.82,341.97 191.89,341.68 191.95,341.40 192.01,341.11 192.08,340.83 192.14,340.55 192.20,340.27 192.26,339.98 192.33,339.69 192.39,339.39 192.45,339.09 192.52,338.77 192.58,338.45 192.64,338.11 192.71,337.76 192.77,337.40 192.83,337.02 192.89,336.62 192.96,336.20 193.02,335.76 193.03,335.69 193.08,336.05 193.15,336.47 193.21,336.87 193.27,337.25 193.34,337.61 193.40,337.96 193.46,338.29 193.52,338.61 193.59,338.92 193.65,339.22 193.71,339.51 193.78,339.80 193.84,340.08 193.90,340.36 193.97,340.63 194.03,340.90 194.09,341.18 194.15,341.45 194.22,341.73 194.28,342.01 194.34,342.30 194.41,342.59 194.47,342.90 194.53,343.21 194.60,343.54 194.61,343.64 194.66,343.40 194.72,343.07 194.78,342.76 194.85,342.45 194.91,342.16 194.97,341.87 195.04,341.58 195.10,341.30 195.16,341.02 195.22,340.74 195.29,340.45 195.35,340.17 195.41,339.88 195.48,339.59 195.54,339.29 195.60,338.98 195.67,338.66 195.73,338.33 195.79,337.99 195.85,337.64 195.92,337.27 195.98,336.89 196.04,336.49 196.11,336.07 196.17,335.62 196.20,335.43 196.23,335.69 196.30,336.11 196.36,336.52 196.42,336.90 196.48,337.27 196.55,337.62 196.61,337.97 196.67,338.30 196.74,338.62 196.80,338.93 196.86,339.24 196.93,339.54 196.99,339.84 197.05,340.14 197.11,340.43 197.18,340.73 197.24,341.02 197.30,341.33 197.37,341.63 197.43,341.95 197.49,342.27 197.56,342.60 197.62,342.95 197.68,343.30 197.74,343.68 197.78,343.89 197.81,343.71 197.87,343.32 197.93,342.95 198.00,342.59 198.06,342.25 198.12,341.91 198.19,341.58 198.25,341.26 198.31,340.94 198.37,340.63 198.44,340.31 198.50,340.00 198.56,339.69 198.63,339.37 198.69,339.04 198.75,338.71 198.81,338.38 198.88,338.03 198.94,337.67 199.00,337.30 199.07,336.92 199.13,336.52 199.19,336.11 199.26,335.67 199.32,335.21 199.36,334.89 199.38,335.05 199.44,335.50 199.51,335.92 199.57,336.33 199.63,336.71 199.70,337.08 199.76,337.44 199.82,337.78 199.89,338.11 199.95,338.43 200.01,338.74 200.07,339.04 200.14,339.34 200.20,339.63 200.26,339.92 200.33,340.21 200.39,340.49 200.45,340.78 200.52,341.07 200.58,341.36 200.64,341.66 200.70,341.97 200.77,342.29 200.83,342.61 200.89,342.95 200.94,343.24 200.96,343.16 201.02,342.80 201.08,342.45 201.15,342.11 201.21,341.79 201.27,341.47 201.33,341.15 201.40,340.84 201.46,340.52 201.52,340.21 201.59,339.89 201.65,339.57 201.71,339.24 201.78,338.91 201.84,338.56 201.90,338.21 201.96,337.84 202.03,337.46 202.09,337.06 202.15,336.65 202.22,336.22 202.28,335.77 202.34,335.29 202.40,334.80 202.47,334.27 202.53,333.77 202.53,333.81 202.59,334.34 202.66,334.85 202.72,335.32 202.78,335.78 202.85,336.21 202.91,336.63 202.97,337.03 203.03,337.41 203.10,337.78 203.16,338.14 203.22,338.48 203.29,338.82 203.35,339.15 203.41,339.47 203.48,339.79 203.54,340.11 203.60,340.42 203.66,340.74 203.73,341.06 203.79,341.38 203.85,341.71 203.92,342.05 203.98,342.39 204.04,342.76 204.11,343.13 204.11,343.15 204.17,342.78 204.23,342.41 204.29,342.05 204.36,341.71 204.42,341.37 204.48,341.05 204.55,340.73 204.61,340.42 204.67,340.11 204.74,339.80 204.80,339.49 204.86,339.19 204.92,338.88 204.99,338.56 205.05,338.25 205.11,337.92 205.18,337.59 205.24,337.25 205.30,336.90 205.37,336.53 205.43,336.15 205.49,335.76 205.55,335.35 205.62,334.92 205.68,334.47 205.69,334.39 205.74,334.76 205.81,335.18 205.87,335.59 205.93,335.98 205.99,336.35 206.06,336.71 206.12,337.05 206.18,337.39 206.25,337.72 206.31,338.04 206.37,338.36 206.44,338.67 206.50,338.99 206.56,339.30 206.62,339.61 206.69,339.92 206.75,340.24 206.81,340.57 206.88,340.90 206.94,341.24 207.00,341.59 207.07,341.96 207.13,342.34 207.19,342.73 207.25,343.15 207.27,343.27 207.32,342.96 207.38,342.54 207.44,342.14 207.51,341.76 207.57,341.38 207.63,341.02 207.70,340.67 207.76,340.33 207.82,339.99 207.88,339.66 207.95,339.33 208.01,339.00 208.07,338.68 208.14,338.35 208.20,338.02 208.26,337.68 208.33,337.34 208.39,336.99 208.45,336.63 208.51,336.26 208.58,335.88 208.64,335.49 208.70,335.08 208.77,334.64 208.83,334.19 208.86,334.00 208.89,334.26 208.96,334.70 209.02,335.11 209.08,335.50 209.14,335.88 209.21,336.24 209.27,336.59 209.33,336.92 209.40,337.25 209.46,337.56 209.52,337.87 209.58,338.18 209.65,338.47 209.71,338.77 209.77,339.06 209.84,339.36 209.90,339.65 209.96,339.95 210.03,340.25 210.09,340.56 210.15,340.88 210.21,341.20 210.28,341.54 210.34,341.89 210.40,342.26 210.44,342.46 210.47,342.28 210.53,341.90 210.59,341.54 210.66,341.18 210.72,340.84 210.78,340.50 210.84,340.17 210.91,339.84 210.97,339.52 211.03,339.19 211.10,338.86 211.16,338.54 211.22,338.20 211.29,337.86 211.35,337.51 211.41,337.16 211.47,336.79 211.54,336.41 211.60,336.02 211.66,335.61 211.73,335.18 211.79,334.73 211.85,334.27 211.92,333.78 211.98,333.26 212.02,332.90 212.04,333.08 212.10,333.59 212.17,334.08 212.23,334.54 212.29,334.98 212.36,335.41 212.42,335.82 212.48,336.22 212.55,336.60 212.61,336.98 212.67,337.34 212.73,337.70 212.80,338.06 212.86,338.41 212.92,338.76 212.99,339.11 213.05,339.47 213.11,339.82 213.17,340.19 213.24,340.56 213.30,340.94 213.36,341.33 213.43,341.74 213.49,342.16 213.55,342.60 213.60,342.97 213.62,342.86 213.68,342.40 213.74,341.95 213.80,341.53 213.87,341.11 213.93,340.72 213.99,340.33 214.06,339.95 214.12,339.58 214.18,339.21 214.25,338.85 214.31,338.49 214.37,338.14 214.43,337.77 214.50,337.41 214.56,337.04 214.62,336.67 214.69,336.29 214.75,335.90 214.81,335.49 214.88,335.07 214.94,334.64 215.00,334.19 215.06,333.73 215.13,333.24 215.19,332.78 215.19,332.82 215.25,333.32 215.32,333.80 215.38,334.25 215.44,334.68 215.51,335.08 215.57,335.47 215.63,335.85 215.69,336.21 215.76,336.55 215.82,336.88 215.88,337.20 215.95,337.51 216.01,337.82 216.07,338.12 216.14,338.41 216.20,338.70 216.26,338.98 216.32,339.27 216.39,339.56 216.45,339.85 216.51,340.15 216.58,340.45 216.64,340.76 216.70,341.08 216.77,341.42 216.77,341.43 216.83,341.10 216.89,340.76 216.95,340.43 217.02,340.12 217.08,339.81 217.14,339.50 217.21,339.19 217.27,338.88 217.33,338.57 217.39,338.26 217.46,337.94 217.52,337.61 217.58,337.28 217.65,336.93 217.71,336.58 217.77,336.20 217.84,335.82 217.90,335.42 217.96,334.99 218.02,334.55 218.09,334.09 218.15,333.61 218.21,333.09 218.28,332.56 218.34,331.99 218.35,331.89 218.40,332.37 218.47,332.91 218.53,333.43 218.59,333.92 218.65,334.39 218.72,334.84 218.78,335.27 218.84,335.68 218.91,336.08 218.97,336.47 219.03,336.85 219.10,337.21 219.16,337.57 219.22,337.92 219.28,338.27 219.35,338.62 219.41,338.97 219.47,339.31 219.54,339.66 219.60,340.02 219.66,340.38 219.73,340.75 219.79,341.14 219.85,341.53 219.91,341.95 219.93,342.07 219.98,341.76 220.04,341.35 220.10,340.95 220.17,340.57 220.23,340.20 220.29,339.84 220.36,339.50 220.42,339.16 220.48,338.83 220.54,338.51 220.61,338.19 220.67,337.88 220.73,337.56 220.80,337.25 220.86,336.93 220.92,336.61 220.98,336.29 221.05,335.96 221.11,335.62 221.17,335.28 221.24,334.92 221.30,334.55 221.36,334.17 221.43,333.77 221.49,333.35 221.51,333.17 221.55,333.42 221.61,333.83 221.68,334.22 221.74,334.59 221.80,334.95 221.87,335.29 221.93,335.62 221.99,335.94 222.06,336.25 222.12,336.55 222.18,336.84 222.24,337.13 222.31,337.41 222.37,337.69 222.43,337.97 222.50,338.25 222.56,338.53 222.62,338.82 222.69,339.10 222.75,339.40 222.81,339.70 222.87,340.01 222.94,340.33 223.00,340.66 223.06,341.01 223.10,341.20 223.13,341.03 223.19,340.67 223.25,340.32 223.32,339.99 223.38,339.67 223.44,339.36 223.50,339.05 223.57,338.75 223.63,338.46 223.69,338.16 223.76,337.87 223.82,337.58 223.88,337.28 223.95,336.99 224.01,336.69 224.07,336.38 224.13,336.07 224.20,335.74 224.26,335.41 224.32,335.07 224.39,334.71 224.45,334.34 224.51,333.96 224.57,333.55 224.64,333.13 224.68,332.83 224.70,332.98 224.76,333.41 224.83,333.81 224.89,334.20 224.95,334.57 225.02,334.92 225.08,335.28 225.14,335.61 225.20,335.94 225.27,336.26 225.33,336.57 225.39,336.88 225.46,337.17 225.52,337.47 225.58,337.76 225.65,338.05 225.71,338.34 225.77,338.63 225.83,338.93 225.90,339.23 225.96,339.54 226.02,339.85 226.09,340.17 226.15,340.51 226.21,340.86 226.26,341.14 226.28,341.07 226.34,340.72 226.40,340.40 226.46,340.08 226.53,339.77 226.59,339.48 226.65,339.19 226.72,338.90 226.78,338.62 226.84,338.34 226.91,338.06 226.97,337.78 227.03,337.50 227.09,337.22 227.16,336.93 227.22,336.63 227.28,336.32 227.35,336.01 227.41,335.69 227.47,335.35 227.54,335.00 227.60,334.64 227.66,334.25 227.72,333.85 227.79,333.43 227.84,333.03 227.85,333.07 227.91,333.53 227.98,333.97 228.04,334.38 228.10,334.78 228.16,335.16 228.23,335.53 228.29,335.89 228.35,336.23 228.42,336.57 228.48,336.89 228.54,337.21 228.61,337.53 228.67,337.84 228.73,338.14 228.79,338.45 228.86,338.76 228.92,339.07 228.98,339.38 229.05,339.70 229.11,340.03 229.17,340.36 229.24,340.71 229.30,341.06 229.36,341.43 229.42,341.82 229.43,341.84 229.49,341.48 229.55,341.12 229.61,340.78 229.68,340.45 229.74,340.13 229.80,339.82 229.87,339.52 229.93,339.23 229.99,338.94 230.05,338.65 230.12,338.37 230.18,338.09 230.24,337.80 230.31,337.52 230.37,337.23 230.43,336.93 230.50,336.63 230.56,336.32 230.62,336.01 230.68,335.68 230.75,335.34 230.81,334.99 230.87,334.62 230.94,334.23 231.00,333.82 231.01,333.75 231.06,334.12 231.13,334.54 231.19,334.94 231.25,335.32 231.31,335.69 231.38,336.04 231.44,336.38 231.50,336.70 231.57,337.02 231.63,337.33 231.69,337.63 231.75,337.92 231.82,338.21 231.88,338.50 231.94,338.79 232.01,339.07 232.07,339.36 232.13,339.64 232.20,339.94 232.26,340.23 232.32,340.54 232.38,340.85 232.45,341.17 232.51,341.50 232.57,341.85 232.59,341.95 232.64,341.71 232.70,341.38 232.76,341.07 232.83,340.77 232.89,340.48 232.95,340.19 233.01,339.91 233.08,339.63 233.14,339.35 233.20,339.08 233.27,338.80 233.33,338.52 233.39,338.24 233.46,337.95 233.52,337.66 233.58,337.35 233.64,337.04 233.71,336.71 233.77,336.38 233.83,336.03 233.90,335.66 233.96,335.28 234.02,334.88 234.09,334.46 234.15,334.02 234.17,333.83 234.21,334.12 234.27,334.59 234.34,335.04 234.40,335.47 234.46,335.87 234.53,336.26 234.59,336.63 234.65,336.98 234.72,337.32 234.78,337.65 234.84,337.96 234.90,338.26 234.97,338.56 235.03,338.85 235.09,339.13 235.16,339.40 235.22,339.68 235.28,339.95 235.34,340.22 235.41,340.49 235.47,340.76 235.53,341.04 235.60,341.32 235.66,341.61 235.72,341.91 235.76,342.08 235.79,341.94 235.85,341.65 235.91,341.38 235.97,341.12 236.04,340.85 236.10,340.58 236.16,340.31 236.23,340.04 236.29,339.76 236.35,339.48 236.42,339.19 236.48,338.90 236.54,338.59 236.60,338.27 236.67,337.94 236.73,337.60 236.79,337.24 236.86,336.86 236.92,336.47 236.98,336.05 237.05,335.61 237.11,335.15 237.17,334.66 237.23,334.14 237.30,333.59 237.34,333.20 237.36,333.36 237.42,333.81 237.49,334.24 237.55,334.65 237.61,335.04 237.68,335.42 237.74,335.78 237.80,336.13 237.86,336.46 237.93,336.79 237.99,337.10 238.05,337.41 238.12,337.71 238.18,338.00 238.24,338.29 238.31,338.58 238.37,338.86 238.43,339.14 238.49,339.43 238.56,339.72 238.62,340.01 238.68,340.31 238.75,340.63 238.81,340.95 238.87,341.30 238.92,341.58 238.93,341.51 239.00,341.16 239.06,340.81 239.12,340.48 239.19,340.14 239.25,339.80 239.31,339.46 239.38,339.12 239.44,338.77 239.50,338.41 239.56,338.04 239.63,337.66 239.69,337.26 239.75,336.85 239.82,336.42 239.88,335.97 239.94,335.50 240.01,335.00 240.07,334.49 240.13,333.96 240.19,333.40 240.26,332.81 240.32,332.20 240.38,331.54 240.45,330.85 240.50,330.19 240.51,330.24 240.57,330.91 240.64,331.54 240.70,332.13 240.76,332.70 240.82,333.25 240.89,333.76 240.95,334.26 241.01,334.74 241.08,335.19 241.14,335.63 241.20,336.06 241.27,336.47 241.33,336.87 241.39,337.27 241.45,337.65 241.52,338.03 241.58,338.41 241.64,338.79 241.71,339.17 241.77,339.55 241.83,339.94 241.90,340.34 241.96,340.75 242.02,341.17 242.08,341.62 242.09,341.64 242.15,341.20 242.21,340.75 242.27,340.32 242.34,339.89 242.40,339.48 242.46,339.07 242.53,338.66 242.59,338.25 242.65,337.84 242.71,337.43 242.78,337.01 242.84,336.58 242.90,336.14 242.97,335.69 243.03,335.23 243.09,334.74 243.15,334.24 243.22,333.72 243.28,333.18 243.34,332.61 243.41,332.01 243.47,331.39 243.53,330.73 243.60,330.03 243.66,329.30 243.67,329.17 243.72,329.74 243.78,330.40 243.85,331.02 243.91,331.62 243.97,332.19 244.04,332.74 244.10,333.27 244.16,333.79 244.23,334.29 244.29,334.78 244.35,335.27 244.41,335.74 244.48,336.21 244.54,336.68 244.60,337.15 244.67,337.62 244.73,338.09 244.79,338.57 244.86,339.06 244.92,339.56 244.98,340.08 245.04,340.63 245.11,341.20 245.17,341.80 245.23,342.42 245.25,342.61 245.30,342.17 245.36,341.58 245.42,341.01 245.49,340.45 245.55,339.91 245.61,339.39 245.67,338.87 245.74,338.36 245.80,337.85 245.86,337.35 245.93,336.84 245.99,336.32 246.05,335.80 246.12,335.27 246.18,334.73 246.24,334.17 246.30,333.59 246.37,332.99 246.43,332.37 246.49,331.73 246.56,331.06 246.62,330.35 246.68,329.61 246.74,328.84 246.81,328.02 246.83,327.67 246.87,328.16 246.93,328.97 247.00,329.75 247.06,330.48 247.12,331.19 247.19,331.86 247.25,332.51 247.31,333.13 247.37,333.73 247.44,334.31 247.50,334.88 247.56,335.43 247.63,335.97 247.69,336.49 247.75,337.01 247.82,337.53 247.88,338.04 247.94,338.56 248.00,339.08 248.07,339.60 248.13,340.13 248.19,340.68 248.26,341.24 248.32,341.82 248.38,342.43 248.42,342.77 248.45,342.49 248.51,341.90 248.57,341.34 248.63,340.80 248.70,340.27 248.76,339.76 248.82,339.27 248.89,338.78 248.95,338.30 249.01,337.82 249.08,337.34 249.14,336.87 249.20,336.39 249.26,335.90 249.33,335.41 249.39,334.91 249.45,334.39 249.52,333.86 249.58,333.31 249.64,332.75 249.71,332.16 249.77,331.54 249.83,330.90 249.89,330.23 249.96,329.52 250.00,329.02 250.02,329.27 250.08,330.00 250.15,330.69 250.21,331.35 250.27,331.98 250.33,332.59 250.40,333.18 250.46,333.75 250.52,334.31 250.59,334.85 250.65,335.38 250.71,335.91 250.78,336.43 250.84,336.94 250.90,337.46 250.96,337.97 251.03,338.49 251.09,339.02 251.15,339.55 251.22,340.10 251.28,340.66 251.34,341.24 251.41,341.84 251.47,342.46 251.53,343.11 251.58,343.65 251.59,343.51 251.66,342.86 251.72,342.24 251.78,341.64 251.85,341.06 251.91,340.50 251.97,339.95 252.04,339.40 252.10,338.87 252.16,338.34 252.22,337.81 252.29,337.28 252.35,336.75 252.41,336.21 252.48,335.66 252.54,335.09 252.60,334.52 252.67,333.92 252.73,333.31 252.79,332.68 252.85,332.01 252.92,331.32 252.98,330.60 253.04,329.85 253.11,329.05 253.16,328.28 253.17,328.36 253.23,329.19 253.30,329.98 253.36,330.74 253.42,331.47 253.48,332.16 253.55,332.84 253.61,333.49 253.67,334.12 253.74,334.74 253.80,335.34 253.86,335.93 253.92,336.52 253.99,337.10 254.05,337.65 254.11,338.21 254.18,338.76 254.24,339.31 254.30,339.88 254.37,340.45 254.43,341.03 254.49,341.63 254.55,342.25 254.62,342.90 254.68,343.56 254.74,344.26 254.75,344.29 254.81,343.57 254.87,342.85 254.93,342.17 255.00,341.50 255.06,340.86 255.12,340.24 255.18,339.64 255.25,339.04 255.31,338.46 255.37,337.88 255.44,337.31 255.50,336.74 255.56,336.16 255.63,335.58 255.69,335.00 255.75,334.41 255.81,333.80 255.88,333.18 255.94,332.54 256.00,331.89 256.07,331.21 256.13,330.50 256.19,329.77 256.26,329.00 256.32,328.20 256.33,328.06 256.38,328.73 256.44,329.49 256.51,330.21 256.57,330.90 256.63,331.55 256.70,332.18 256.76,332.78 256.82,333.36 256.89,333.92 256.95,334.46 257.01,334.99 257.07,335.50 257.14,336.01 257.20,336.50 257.26,337.00 257.33,337.48 257.39,337.97 257.45,338.47 257.51,338.97 257.58,339.47 257.64,339.99 257.70,340.52 257.77,341.07 257.83,341.64 257.89,342.23 257.91,342.41 257.96,341.94 258.02,341.31 258.08,340.71 258.14,340.12 258.21,339.55 258.27,339.00 258.33,338.45 258.40,337.92 258.46,337.39 258.52,336.86 258.59,336.33 258.65,335.80 258.71,335.27 258.77,334.72 258.84,334.17 258.90,333.60 258.96,333.02 259.03,332.42 259.09,331.80 259.15,331.16 259.22,330.50 259.28,329.80 259.34,329.08 259.40,328.32 259.47,327.53 259.49,327.18 259.53,327.66 259.59,328.43 259.66,329.16 259.72,329.85 259.78,330.50 259.85,331.12 259.91,331.70 259.97,332.26 260.03,332.80 260.10,333.31 260.16,333.81 260.22,334.29 260.29,334.75 260.35,335.20 260.41,335.63 260.48,336.06 260.54,336.48 260.60,336.89 260.66,337.30 260.73,337.71 260.79,338.13 260.85,338.55 260.92,338.98 260.98,339.42 261.04,339.87 261.08,340.13 261.10,339.91 261.17,339.44 261.23,339.00 261.29,338.56 261.36,338.14 261.42,337.73 261.48,337.32 261.55,336.91 261.61,336.50 261.67,336.09 261.73,335.68 261.80,335.26 261.86,334.84 261.92,334.40 261.99,333.95 262.05,333.49 262.11,333.01 262.18,332.52 262.24,332.00 262.30,331.46 262.36,330.90 262.43,330.30 262.49,329.68 262.55,329.03 262.62,328.35 262.66,327.87 262.68,328.10 262.74,328.79 262.81,329.44 262.87,330.06 262.93,330.65 262.99,331.22 263.06,331.76 263.12,332.28 263.18,332.79 263.25,333.28 263.31,333.75 263.37,334.21 263.44,334.66 263.50,335.10 263.56,335.54 263.62,335.97 263.69,336.40 263.75,336.84 263.81,337.27 263.88,337.71 263.94,338.16 264.00,338.62 264.07,339.10 264.13,339.59 264.19,340.10 264.24,340.52 264.25,340.40 264.32,339.87 264.38,339.36 264.44,338.87 264.51,338.40 264.57,337.94 264.63,337.48 264.69,337.04 264.76,336.60 264.82,336.16 264.88,335.72 264.95,335.28 265.01,334.83 265.07,334.38 265.14,333.92 265.20,333.45 265.26,332.97 265.32,332.47 265.39,331.96 265.45,331.42 265.51,330.87 265.58,330.29 265.64,329.68 265.70,329.05 265.77,328.38 265.82,327.74 265.83,327.79 265.89,328.48 265.95,329.13 266.02,329.75 266.08,330.34 266.14,330.91 266.21,331.46 266.27,331.99 266.33,332.50 266.40,333.00 266.46,333.48 266.52,333.96 266.58,334.43 266.65,334.90 266.71,335.36 266.77,335.82 266.84,336.29 266.90,336.76 266.96,337.23 267.03,337.72 267.09,338.21 267.15,338.72 267.21,339.25 267.28,339.79 267.34,340.36 267.40,340.96 267.41,340.99 267.47,340.40 267.53,339.82 267.59,339.27 267.66,338.73 267.72,338.21 267.78,337.70 267.84,337.20 267.91,336.71 267.97,336.22 268.03,335.73 268.10,335.25 268.16,334.76 268.22,334.27 268.28,333.77 268.35,333.26 268.41,332.75 268.47,332.21 268.54,331.66 268.60,331.09 268.66,330.50 268.73,329.89 268.79,329.25 268.85,328.58 268.91,327.88 268.98,327.14 268.99,327.01 269.04,327.63 269.10,328.33 269.17,328.99 269.23,329.62 269.29,330.23 269.36,330.81 269.42,331.36 269.48,331.89 269.54,332.41 269.61,332.91 269.67,333.39 269.73,333.86 269.80,334.32 269.86,334.77 269.92,335.21 269.99,335.65 270.05,336.10 270.11,336.54 270.17,336.98 270.24,337.42 270.30,337.88 270.36,338.34 270.43,338.81 270.49,339.30 270.55,339.81 270.57,339.96 270.62,339.58 270.68,339.07 270.74,338.57 270.80,338.09 270.87,337.62 270.93,337.16 270.99,336.71 271.06,336.26 271.12,335.81 271.18,335.36 271.25,334.90 271.31,334.44 271.37,333.97 271.43,333.49 271.50,333.00 271.56,332.49 271.62,331.96 271.69,331.41 271.75,330.85 271.81,330.25 271.88,329.64 271.94,328.99 272.00,328.31 272.06,327.60 272.13,326.85 272.15,326.53 272.19,326.99 272.25,327.75 272.32,328.47 272.38,329.16 272.44,329.82 272.50,330.45 272.57,331.06 272.63,331.64 272.69,332.21 272.76,332.76 272.82,333.30 272.88,333.82 272.95,334.34 273.01,334.85 273.07,335.36 273.13,335.87 273.20,336.37 273.26,336.89 273.32,337.40 273.39,337.93 273.45,338.47 273.51,339.03 273.58,339.60 273.64,340.19 273.70,340.81 273.74,341.16 273.76,340.86 273.83,340.22 273.89,339.61 273.95,339.03 274.02,338.48 274.08,337.94 274.14,337.43 274.21,336.92 274.27,336.43 274.33,335.95 274.39,335.48 274.46,335.02 274.52,334.56 274.58,334.10 274.65,333.64 274.71,333.17 274.77,332.71 274.84,332.23 274.90,331.75 274.96,331.25 275.02,330.74 275.09,330.22 275.15,329.67 275.21,329.11 275.28,328.51 275.32,328.10 275.34,328.32 275.40,328.94 275.47,329.52 275.53,330.09 275.59,330.62 275.65,331.14 275.72,331.64 275.78,332.12 275.84,332.60 275.91,333.06 275.97,333.51 276.03,333.95 276.09,334.40 276.16,334.84 276.22,335.28 276.28,335.72 276.35,336.17 276.41,336.62 276.47,337.09 276.54,337.56 276.60,338.05 276.66,338.55 276.72,339.07 276.79,339.62 276.85,340.18 276.90,340.65 276.91,340.52 276.98,339.92 277.04,339.35 277.10,338.80 277.17,338.28 277.23,337.76 277.29,337.27 277.35,336.78 277.42,336.31 277.48,335.83 277.54,335.37 277.61,334.90 277.67,334.44 277.73,333.97 277.80,333.50 277.86,333.02 277.92,332.53 277.98,332.03 278.05,331.52 278.11,330.99 278.17,330.44 278.24,329.87 278.30,329.28 278.36,328.66 278.43,328.02 278.48,327.40 278.49,327.46 278.55,328.15 278.61,328.80 278.68,329.42 278.74,330.02 278.80,330.58 278.87,331.13 278.93,331.65 278.99,332.15 279.06,332.64 279.12,333.11 279.18,333.57 279.24,334.02 279.31,334.46 279.37,334.89 279.43,335.32 279.50,335.75 279.56,336.19 279.62,336.62 279.68,337.06 279.75,337.51 279.81,337.96 279.87,338.43 279.94,338.91 280.00,339.42 280.06,339.93 280.07,339.95 280.13,339.42 280.19,338.89 280.25,338.38 280.31,337.90 280.38,337.43 280.44,336.97 280.50,336.53 280.57,336.10 280.63,335.68 280.69,335.27 280.76,334.86 280.82,334.45 280.88,334.05 280.94,333.65 281.01,333.25 281.07,332.84 281.13,332.42 281.20,332.00 281.26,331.57 281.32,331.13 281.39,330.68 281.45,330.21 281.51,329.72 281.57,329.21 281.64,328.68 281.65,328.59 281.70,329.01 281.76,329.49 281.83,329.95 281.89,330.39 281.95,330.80 282.02,331.20 282.08,331.59 282.14,331.96 282.20,332.32 282.27,332.67 282.33,333.01 282.39,333.35 282.46,333.68 282.52,334.00 282.58,334.33 282.65,334.65 282.71,334.98 282.77,335.31 282.83,335.65 282.90,335.99 282.96,336.34 283.02,336.70 283.09,337.08 283.15,337.47 283.21,337.88 283.23,338.01 283.27,337.68 283.34,337.24 283.40,336.81 283.46,336.40 283.53,336.00 283.59,335.61 283.65,335.22 283.72,334.85 283.78,334.47 283.84,334.10 283.90,333.73 283.97,333.36 284.03,332.98 284.09,332.60 284.16,332.21 284.22,331.81 284.28,331.40 284.35,330.98 284.41,330.55 284.47,330.10 284.53,329.63 284.60,329.15 284.66,328.64 284.72,328.11 284.79,327.55 284.81,327.31 284.85,327.63 284.91,328.15 284.98,328.64 285.04,329.11 285.10,329.57 285.16,330.00 285.23,330.42 285.29,330.83 285.35,331.22 285.42,331.61 285.48,331.99 285.54,332.36 285.61,332.73 285.67,333.10 285.73,333.47 285.79,333.84 285.86,334.21 285.92,334.59 285.98,334.98 286.05,335.39 286.11,335.82 286.17,336.25 286.24,336.70 286.30,337.17 286.36,337.66 286.40,337.93 286.42,337.69 286.49,337.20 286.55,336.72 286.61,336.27 286.68,335.84 286.74,335.42 286.80,335.01 286.86,334.62 286.93,334.23 286.99,333.85 287.05,333.48 287.12,333.10 287.18,332.73 287.24,332.36 287.31,331.99 287.37,331.61 287.43,331.23 287.49,330.84 287.56,330.44 287.62,330.03 287.68,329.61 287.75,329.17 287.81,328.72 287.87,328.24 287.94,327.75 287.98,327.41 288.00,327.60 288.06,328.16 288.12,328.68 288.19,329.18 288.25,329.65 288.31,330.09 288.38,330.52 288.44,330.92 288.50,331.30 288.57,331.67 288.63,332.01 288.69,332.35 288.75,332.66 288.82,332.97 288.88,333.26 288.94,333.54 289.01,333.80 289.07,334.06 289.13,334.31 289.20,334.55 289.26,334.78 289.32,335.00 289.38,335.22 289.45,335.43 289.51,335.63 289.56,335.80 289.57,335.75 289.64,335.54 289.70,335.34 289.76,335.14 289.83,334.95 289.89,334.76 289.95,334.56 290.01,334.37 290.08,334.17 290.14,333.96 290.20,333.74 290.27,333.51 290.33,333.26 290.39,333.00 290.45,332.73 290.52,332.44 290.58,332.14 290.64,331.81 290.71,331.47 290.77,331.11 290.83,330.72 290.90,330.32 290.96,329.90 291.02,329.45 291.08,328.98 291.14,328.53 291.15,328.57 291.21,329.03 291.27,329.47 291.34,329.90 291.40,330.32 291.46,330.72 291.53,331.12 291.59,331.51 291.65,331.88 291.71,332.25 291.78,332.61 291.84,332.96 291.90,333.30 291.97,333.63 292.03,333.96 292.09,334.27 292.16,334.58 292.22,334.88 292.28,335.16 292.34,335.44 292.41,335.71 292.47,335.97 292.53,336.22 292.60,336.46 292.66,336.69 292.72,336.91 292.73,336.92 292.79,336.75 292.85,336.56 292.91,336.35 292.97,336.14 293.04,335.92 293.10,335.68 293.16,335.42 293.23,335.16 293.29,334.87 293.35,334.57 293.42,334.25 293.48,333.92 293.54,333.57 293.60,333.20 293.67,332.81 293.73,332.40 293.79,331.98 293.86,331.54 293.92,331.07 293.98,330.59 294.04,330.10 294.11,329.58 294.17,329.04 294.23,328.49 294.30,327.92 294.31,327.83 294.36,328.28 294.42,328.81 294.49,329.33 294.55,329.85 294.61,330.36 294.67,330.86 294.74,331.35 294.80,331.83 294.86,332.30 294.93,332.76 294.99,333.22 295.05,333.67 295.12,334.11 295.18,334.53 295.24,334.94 295.30,335.34 295.37,335.72 295.43,336.09 295.49,336.44 295.56,336.78 295.62,337.09 295.68,337.38 295.75,337.66 295.81,337.90 295.87,338.12 295.89,338.18 295.93,338.06 296.00,337.86 296.06,337.63 296.12,337.38 296.19,337.10 296.25,336.79 296.31,336.46 296.38,336.10 296.44,335.72 296.50,335.33 296.56,334.91 296.63,334.47 296.69,334.01 296.75,333.53 296.82,333.03 296.88,332.52 296.94,331.98 297.01,331.44 297.07,330.87 297.13,330.30 297.19,329.70 297.26,329.10 297.32,328.49 297.38,327.86 297.45,327.23 297.47,326.96 297.51,327.34 297.57,327.98 297.64,328.62 297.70,329.26 297.76,329.88 297.82,330.50 297.89,331.11 297.95,331.71 298.01,332.30 298.08,332.88 298.14,333.45 298.20,334.00 298.26,334.54 298.33,335.07 298.39,335.59 298.45,336.09 298.52,336.57 298.58,337.04 298.64,337.49 298.71,337.92 298.77,338.32 298.83,338.70 298.89,339.06 298.96,339.38 299.02,339.65 299.05,339.76 299.08,339.69 299.15,339.47 299.21,339.20 299.27,338.90 299.34,338.58 299.40,338.22 299.46,337.84 299.52,337.45 299.59,337.03 299.65,336.59 299.71,336.14 299.78,335.68 299.84,335.20 299.90,334.71 299.97,334.21 300.03,333.69 300.09,333.16 300.15,332.63 300.22,332.08 300.28,331.52 300.34,330.95 300.41,330.37 300.47,329.78 300.53,329.19 300.60,328.60 300.64,328.21 300.66,328.39 300.72,328.95 300.78,329.51 300.85,330.07 300.91,330.62 300.97,331.17 301.04,331.71 301.10,332.25 301.16,332.78 301.23,333.31 301.29,333.83 301.35,334.35 301.41,334.86 301.48,335.36 301.54,335.86 301.60,336.35 301.67,336.83 301.73,337.30 301.79,337.76 301.85,338.22 301.92,338.66 301.98,339.09 302.04,339.50 302.11,339.89 302.17,340.25 302.22,340.47 302.23,340.43 302.30,340.14 302.36,339.78 302.42,339.37 302.48,338.92 302.55,338.45 302.61,337.96 302.67,337.44 302.74,336.91 302.80,336.36 302.86,335.80 302.93,335.23 302.99,334.65 303.05,334.04 303.11,333.42 303.18,332.80 303.24,332.17 303.30,331.55 303.37,330.92 303.43,330.29 303.49,329.66 303.56,329.03 303.62,328.41 303.68,327.78 303.74,327.16 303.80,326.60 303.81,326.64 303.87,327.20 303.93,327.74 304.00,328.28 304.06,328.82 304.12,329.36 304.19,329.89 304.25,330.43 304.31,330.97 304.37,331.50 304.44,332.03 304.50,332.56 304.56,333.09 304.63,333.62 304.69,334.14 304.75,334.67 304.82,335.19 304.88,335.70 304.94,336.22 305.00,336.73 305.07,337.23 305.13,337.74 305.19,338.23 305.26,338.72 305.32,339.19 305.38,339.63 305.38,339.65 305.44,339.24 305.51,338.79 305.57,338.33 305.63,337.86 305.70,337.37 305.76,336.89 305.82,336.40 305.89,335.90 305.95,335.40 306.01,334.90 306.07,334.39 306.14,333.88 306.20,333.37 306.26,332.85 306.33,332.34 306.39,331.82 306.45,331.30 306.52,330.77 306.58,330.24 306.64,329.71 306.70,329.18 306.77,328.65 306.83,328.11 306.89,327.58 306.96,327.03 306.97,326.94 307.02,327.39 307.08,327.92 307.15,328.45 307.21,328.98 307.27,329.51 307.33,330.04 307.40,330.57 307.46,331.10 307.52,331.62 307.59,332.15 307.65,332.67 307.71,333.19 307.78,333.71 307.84,334.23 307.90,334.74 307.96,335.25 308.03,335.77 308.09,336.27 308.15,336.78 308.22,337.28 308.28,337.78 308.34,338.27 308.41,338.75 308.47,339.22 308.53,339.67 308.55,339.79 308.59,339.47 308.66,338.99 308.72,338.49 308.78,337.98 308.85,337.47 308.91,336.95 308.97,336.42 309.03,335.89 309.10,335.36 309.16,334.82 309.22,334.28 309.29,333.73 309.35,333.19 309.41,332.64 309.48,332.08 309.54,331.53 309.60,330.98 309.66,330.42 309.73,329.86 309.79,329.30 309.85,328.73 309.92,328.17 309.98,327.60 310.04,327.03 310.11,326.46 310.13,326.22 310.17,326.54 310.23,327.09 310.29,327.63 310.36,328.18 310.42,328.72 310.48,329.26 310.55,329.80 310.61,330.34 310.67,330.88 310.74,331.42 310.80,331.95 310.86,332.48 310.92,333.01 310.99,333.54 311.05,334.07 311.11,334.59 311.18,335.11 311.24,335.63 311.30,336.15 311.37,336.66 311.43,337.16 311.49,337.66 311.55,338.16 311.62,338.64 311.68,339.10 311.71,339.34 311.74,339.11 311.81,338.57 311.87,338.01 311.93,337.44 312.00,336.86 312.06,336.27 312.12,335.68 312.18,335.08 312.25,334.48 312.31,333.87 312.37,333.26 312.44,332.64 312.50,332.03 312.56,331.41 312.62,330.78 312.69,330.16 312.75,329.53 312.81,328.90 312.88,328.27 312.94,327.63 313.00,327.00 313.07,326.36 313.13,325.72 313.19,325.07 313.25,324.43 313.30,324.00 313.32,324.20 313.38,324.83 313.44,325.44 313.51,326.06 313.57,326.68 313.63,327.29 313.70,327.91 313.76,328.52 313.82,329.13 313.88,329.74 313.95,330.34 314.01,330.95 314.07,331.55 314.14,332.15 314.20,332.75 314.26,333.34 314.33,333.93 314.39,334.52 314.45,335.11 314.51,335.69 314.58,336.26 314.64,336.83 314.70,337.39 314.77,337.94 314.83,338.48 314.88,338.87 314.89,338.78 314.96,338.29 315.02,337.78 315.08,337.26 315.14,336.73 315.21,336.19 315.27,335.65 315.33,335.10 315.40,334.54 315.46,333.99 315.52,333.42 315.59,332.85 315.65,332.28 315.71,331.71 315.77,331.13 315.84,330.55 315.90,329.96 315.96,329.38 316.03,328.79 316.09,328.19 316.15,327.60 316.21,327.00 316.28,326.40 316.34,325.79 316.40,325.18 316.46,324.62 316.47,324.67 316.53,325.24 316.59,325.81 316.66,326.38 316.72,326.95 316.78,327.52 316.84,328.08 316.91,328.65 316.97,329.22 317.03,329.78 317.10,330.34 317.16,330.91 317.22,331.47 317.29,332.03 317.35,332.58 317.41,333.14 317.47,333.69 317.54,334.25 317.60,334.79 317.66,335.34 317.73,335.88 317.79,336.42 317.85,336.95 317.92,337.47 317.98,337.98 318.04,338.46 318.04,338.47 318.10,338.00 318.17,337.46 318.23,336.90 318.29,336.34 318.36,335.76 318.42,335.18 318.48,334.59 318.55,333.99 318.61,333.39 318.67,332.79 318.73,332.18 318.80,331.57 318.86,330.95 318.92,330.33 318.99,329.71 319.05,329.08 319.11,328.45 319.18,327.81 319.24,327.17 319.30,326.53 319.36,325.89 319.43,325.24 319.49,324.59 319.55,323.94 319.62,323.28 319.63,323.17 319.68,323.72 319.74,324.37 319.80,325.03 319.87,325.68 319.93,326.34 319.99,326.99 320.06,327.64 320.12,328.29 320.18,328.94 320.25,329.59 320.31,330.24 320.37,330.89 320.43,331.54 320.50,332.18 320.56,332.83 320.62,333.47 320.69,334.10 320.75,334.74 320.81,335.37 320.88,336.00 320.94,336.62 321.00,337.24 321.06,337.85 321.13,338.44 321.19,339.01 321.21,339.16 321.25,338.80 321.32,338.25 321.38,337.69 321.44,337.11 321.51,336.52 321.57,335.92 321.63,335.32 321.69,334.71 321.76,334.10 321.82,333.48 321.88,332.86 321.95,332.24 322.01,331.61 322.07,330.98 322.14,330.34 322.20,329.71 322.26,329.07 322.32,328.44 322.39,327.80 322.45,327.16 322.51,326.53 322.58,325.89 322.64,325.25 322.70,324.61 322.77,323.96 322.79,323.70 322.83,324.07 322.89,324.71 322.95,325.35 323.02,325.99 323.08,326.63 323.14,327.26 323.21,327.89 323.27,328.52 323.33,329.14 323.40,329.76 323.46,330.38 323.52,330.99 323.58,331.60 323.65,332.21 323.71,332.82 323.77,333.42 323.84,334.01 323.90,334.61 323.96,335.19 324.02,335.77 324.09,336.35 324.15,336.92 324.21,337.47 324.28,338.02 324.34,338.55 324.37,338.81 324.40,338.57 324.47,338.01 324.53,337.42 324.59,336.83 324.65,336.23 324.72,335.62 324.78,335.01 324.84,334.39 324.91,333.77 324.97,333.15 325.03,332.52 325.10,331.89 325.16,331.26 325.22,330.63 325.28,330.00 325.35,329.37 325.41,328.73 325.47,328.10 325.54,327.46 325.60,326.82 325.66,326.19 325.73,325.55 325.79,324.91 325.85,324.27 325.91,323.63 325.96,323.20 325.98,323.42 326.04,324.10 326.10,324.77 326.17,325.43 326.23,326.10 326.29,326.77 326.36,327.43 326.42,328.09 326.48,328.75 326.54,329.40 326.61,330.05 326.67,330.70 326.73,331.35 326.80,331.99 326.86,332.63 326.92,333.27 326.99,333.90 327.05,334.52 327.11,335.15 327.17,335.77 327.24,336.38 327.30,336.98 327.36,337.58 327.43,338.16 327.49,338.73 327.54,339.15 327.55,339.04 327.61,338.46 327.68,337.86 327.74,337.24 327.80,336.62 327.87,335.99 327.93,335.35 327.99,334.71 328.06,334.07 328.12,333.43 328.18,332.78 328.24,332.13 328.31,331.48 328.37,330.83 328.43,330.17 328.50,329.52 328.56,328.86 328.62,328.21 328.69,327.55 328.75,326.89 328.81,326.23 328.87,325.57 328.94,324.92 329.00,324.26 329.06,323.60 329.12,323.00 329.13,323.05 329.19,323.71 329.25,324.37 329.32,325.02 329.38,325.68 329.44,326.33 329.50,326.98 329.57,327.62 329.63,328.27 329.69,328.91 329.76,329.55 329.82,330.19 329.88,330.82 329.95,331.45 330.01,332.08 330.07,332.71 330.13,333.34 330.20,333.96 330.26,334.58 330.32,335.19 330.39,335.80 330.45,336.40 330.51,337.00 330.58,337.58 330.64,338.16 330.70,338.69 330.70,338.71 330.76,338.23 330.83,337.69 330.89,337.14 330.95,336.58 331.02,336.01 331.08,335.44 331.14,334.86 331.20,334.28 331.27,333.70 331.33,333.12 331.39,332.53 331.46,331.94 331.52,331.35 331.58,330.76 331.65,330.16 331.71,329.56 331.77,328.97 331.83,328.37 331.90,327.77 331.96,327.17 332.02,326.57 332.09,325.97 332.15,325.37 332.21,324.76 332.28,324.16 332.29,324.06 332.34,324.54 332.40,325.11 332.46,325.68 332.53,326.25 332.59,326.82 332.65,327.39 332.72,327.95 332.78,328.51 332.84,329.07 332.91,329.63 332.97,330.19 333.03,330.74 333.09,331.30 333.16,331.84 333.22,332.39 333.28,332.93 333.35,333.47 333.41,334.01 333.47,334.54 333.54,335.07 333.60,335.59 333.66,336.11 333.72,336.62 333.79,337.12 333.85,337.59 333.87,337.72 333.91,337.34 333.98,336.78 334.04,336.19 334.10,335.60 334.17,334.99 334.23,334.39 334.29,333.77 334.35,333.15 334.42,332.53 334.48,331.91 334.54,331.28 334.61,330.65 334.67,330.01 334.73,329.38 334.79,328.74 334.86,328.10 334.92,327.46 334.98,326.82 335.05,326.17 335.11,325.53 335.17,324.88 335.24,324.23 335.30,323.58 335.36,322.93 335.42,322.28 335.45,322.01 335.49,322.39 335.55,323.03 335.61,323.67 335.68,324.31 335.74,324.95 335.80,325.58 335.87,326.22 335.93,326.85 335.99,327.48 336.05,328.11 336.12,328.73 336.18,329.35 336.24,329.97 336.31,330.59 336.37,331.20 336.43,331.81 336.50,332.42 336.56,333.02 336.62,333.62 336.68,334.22 336.75,334.81 336.81,335.39 336.87,335.96 336.94,336.52 337.00,337.06 337.03,337.32 337.06,337.10 337.13,336.58 337.19,336.04 337.25,335.49 337.31,334.93 337.38,334.36 337.44,333.78 337.50,333.21 337.57,332.62 337.63,332.04 337.69,331.45 337.76,330.86 337.82,330.26 337.88,329.66 337.94,329.06 338.01,328.46 338.07,327.85 338.13,327.25 338.20,326.64 338.26,326.02 338.32,325.41 338.38,324.79 338.45,324.17 338.51,323.55 338.57,322.93 338.62,322.52 338.64,322.71 338.70,323.31 338.76,323.91 338.83,324.51 338.89,325.11 338.95,325.71 339.01,326.31 339.08,326.91 339.14,327.51 339.20,328.10 339.27,328.70 339.33,329.29 339.39,329.88 339.46,330.47 339.52,331.06 339.58,331.65 339.64,332.23 339.71,332.81 339.77,333.39 339.83,333.96 339.90,334.53 339.96,335.10 340.02,335.66 340.09,336.21 340.15,336.74 340.20,337.13 340.21,337.02 340.27,336.44 340.34,335.84 340.40,335.21 340.46,334.58 340.53,333.94 340.59,333.30 340.65,332.65 340.72,332.00 340.78,331.34 340.84,330.68 340.90,330.01 340.97,329.34 341.03,328.67 341.09,328.00 341.16,327.32 341.22,326.65 341.28,325.96 341.35,325.28 341.41,324.60 341.47,323.91 341.53,323.22 341.60,322.53 341.66,321.84 341.72,321.15 341.78,320.51 341.79,320.57 341.85,321.21 341.91,321.86 341.97,322.51 342.04,323.18 342.10,323.86 342.16,324.54 342.23,325.22 342.29,325.91 342.35,326.59 342.42,327.27 342.48,327.95 342.54,328.62 342.60,329.30 342.67,329.98 342.73,330.65 342.79,331.32 342.86,331.99 342.92,332.66 342.98,333.33 343.05,333.99 343.11,334.64 343.17,335.29 343.23,335.93 343.30,336.56 343.36,337.16 343.36,337.18 343.42,336.62 343.49,336.00 343.55,335.36 343.61,334.70 343.68,334.04 343.74,333.38 343.80,332.70 343.86,332.02 343.93,331.34 343.99,330.65 344.05,329.95 344.12,329.26 344.18,328.56 344.24,327.85 344.31,327.14 344.37,326.43 344.43,325.72 344.49,325.00 344.56,324.28 344.62,323.56 344.68,322.84 344.75,322.11 344.81,321.38 344.87,320.65 344.94,319.92 344.95,319.80 345.00,320.39 345.06,321.11 345.12,321.82 345.19,322.54 345.25,323.25 345.31,323.97 345.38,324.68 345.44,325.39 345.50,326.11 345.56,326.82 345.63,327.53 345.69,328.24 345.75,328.95 345.82,329.65 345.88,330.36 345.94,331.06 346.01,331.76 346.07,332.46 346.13,333.15 346.19,333.84 346.26,334.53 346.32,335.20 346.38,335.87 346.45,336.53 346.51,337.16 346.53,337.33 346.57,336.97 346.64,336.42 346.70,335.86 346.76,335.28 346.82,334.70 346.89,334.10 346.95,333.50 347.01,332.89 347.08,332.25 347.14,331.60 347.20,330.95 347.27,330.29 347.33,329.62 347.39,328.95 347.45,328.28 347.52,327.59 347.58,326.91 347.64,326.21 347.71,325.52 347.77,324.82 347.83,324.11 347.90,323.40 347.96,322.68 348.02,321.96 348.08,321.24 348.11,320.94 348.15,321.31 348.21,321.96 348.27,322.62 348.34,323.27 348.40,323.93 348.46,324.59 348.53,325.25 348.59,325.92 348.65,326.58 348.71,327.25 348.78,327.92 348.84,328.59 348.90,329.26 348.97,329.93 349.03,330.60 349.09,331.27 349.16,331.95 349.22,332.62 349.28,333.29 349.34,333.96 349.41,334.62 349.47,335.28 349.53,335.94 349.60,336.59 349.66,337.22 349.69,337.53 349.72,337.25 349.78,336.59 349.85,335.90 349.91,335.19 349.97,334.47 350.04,333.74 350.10,333.01 350.16,332.26 350.23,331.50 350.29,330.74 350.35,329.97 350.41,329.20 350.48,328.42 350.54,327.63 350.60,326.84 350.67,326.04 350.73,325.23 350.79,324.42 350.86,323.61 350.92,322.79 350.98,321.97 351.04,321.14 351.11,320.30 351.17,319.46 351.23,318.62 351.28,318.06 351.30,318.31 351.36,319.08 351.42,319.86 351.49,320.63 351.55,321.41 351.61,322.19 351.67,322.98 351.74,323.76 351.80,324.55 351.86,325.33 351.93,326.12 351.99,326.91 352.05,327.70 352.12,328.49 352.18,329.28 352.24,330.07 352.30,330.86 352.37,331.65 352.43,332.44 352.49,333.23 352.56,334.01 352.62,334.79 352.68,335.56 352.75,336.32 352.81,337.06 352.86,337.62 352.87,337.49 352.93,336.78 353.00,336.03 353.06,335.27 353.12,334.49 353.19,333.71 353.25,332.91 353.31,332.10 353.37,331.29 353.44,330.46 353.50,329.64 353.56,328.80 353.63,327.96 353.69,327.11 353.75,326.26 353.82,325.40 353.88,324.53 353.94,323.66 354.00,322.79 354.07,321.93 354.13,321.06 354.19,320.19 354.26,319.31 354.32,318.42 354.38,317.53 354.44,316.71 354.45,316.77 354.51,317.51 354.57,318.24 354.63,318.98 354.70,319.72 354.76,320.47 354.82,321.21 354.89,321.96 354.95,322.71 355.01,323.46 355.08,324.22 355.14,324.97 355.20,325.73 355.26,326.49 355.33,327.25 355.39,328.01 355.45,328.78 355.52,329.54 355.58,330.30 355.64,331.06 355.71,331.82 355.77,332.58 355.83,333.33 355.89,334.07 355.96,334.80 356.02,335.48 356.02,335.51 356.08,334.89 356.15,334.18 356.21,333.45 356.27,332.69 356.34,331.93 356.40,331.15 356.46,330.35 356.52,329.55 356.59,328.73 356.65,327.91 356.71,327.07 356.78,326.23 356.84,325.38 356.90,324.51 356.96,323.64 357.03,322.76 357.09,321.88 357.15,320.98 357.22,320.08 357.28,319.17 357.34,318.25 357.41,317.32 357.47,316.38 357.53,315.39 357.59,314.34 357.61,314.16 357.66,314.92 357.72,315.83 357.78,316.76 357.85,317.70 357.91,318.64 357.97,319.59 358.04,320.55 358.10,321.52 358.16,322.50 358.22,323.48 358.29,324.47 358.35,325.47 358.41,326.48 358.48,327.49 358.54,328.51 358.60,329.53 358.67,330.55 358.73,331.59 358.79,332.62 358.85,333.66 358.92,334.69 358.98,335.73 359.04,336.76 359.11,337.77 359.17,338.76 359.19,339.02 359.23,338.34 359.30,337.29 359.36,336.20 359.42,335.08 359.48,333.94 359.55,332.77 359.61,331.59 359.67,330.39 359.74,329.17 359.80,327.94 359.86,326.69 359.93,325.42 359.99,324.14 360.05,322.85 360.11,321.54 360.18,320.21 360.24,318.88 360.30,317.52 360.37,316.16 360.43,314.78 360.49,313.39 360.55,311.99 360.62,310.57 360.68,309.14 360.74,307.70 360.77,307.10 360.81,307.75 360.87,308.89 360.93,310.03 361.00,311.18 361.06,312.33 361.12,313.48 361.18,314.64 361.25,315.81 361.31,316.99 361.37,318.17 361.44,319.36 361.50,320.56 361.56,321.77 361.63,322.98 361.69,324.19 361.75,325.41 361.81,326.64 361.88,327.87 361.94,329.10 362.00,330.33 362.07,331.56 362.13,332.79 362.19,334.01 362.26,335.22 362.32,336.39 362.35,336.98 362.38,336.51 362.44,335.39 362.51,334.22 362.57,333.01 362.63,331.77 362.70,330.50 362.76,329.21 362.82,327.91 362.89,326.58 362.95,325.23 363.01,323.86 363.07,322.48 363.14,321.08 363.20,319.66 363.26,318.22 363.33,316.77 363.39,315.30 363.45,313.82 363.52,312.32 363.58,310.81 363.64,309.28 363.70,307.73 363.77,306.17 363.83,304.59 363.89,303.00 363.94,301.92 363.96,302.37 364.02,303.73 364.08,305.10 364.14,306.48 364.21,307.87 364.27,309.26 364.33,310.66 364.40,312.07 364.46,313.49 364.52,314.92 364.59,316.39 364.65,317.86 364.71,319.32 364.77,320.78 364.84,322.24 364.90,323.70 364.96,325.16 365.03,326.61 365.09,328.05 365.15,329.49 365.22,330.92 365.28,332.34 365.34,333.74 365.40,335.12 365.47,336.47 365.52,337.46 365.53,337.20 365.59,335.78 365.66,334.28 365.72,332.75 365.78,331.19 365.85,329.60 365.91,328.00 365.97,326.38 366.03,324.74 366.10,323.09 366.16,321.43 366.22,319.75 366.29,318.06 366.35,316.36 366.41,314.65 366.48,312.93 366.54,311.20 366.60,309.46 366.66,307.71 366.73,305.95 366.79,304.18 366.85,302.40 366.92,300.62 366.98,298.83 367.04,297.09 367.10,295.52 367.11,295.66 367.17,297.44 367.23,299.22 367.29,300.99 367.36,302.76 367.42,304.52 367.48,306.27 367.55,308.02 367.61,309.76 367.67,311.49 367.73,313.21 367.80,314.92 367.86,316.63 367.92,318.33 367.99,320.02 368.05,321.69 368.11,323.36 368.18,325.02 368.24,326.66 368.30,328.29 368.36,329.91 368.43,331.50 368.49,333.08 368.55,334.63 368.62,336.15 368.68,337.61 368.70,338.14 368.74,337.31 368.81,335.82 368.87,334.29 368.93,332.73 368.99,331.15 369.06,329.56 369.12,327.95 369.18,326.34 369.25,324.72 369.31,323.09 369.37,321.46 369.44,319.83 369.50,318.19 369.56,316.54 369.62,314.90 369.69,313.25 369.75,311.60 369.81,309.95 369.88,308.29 369.94,306.64 370.00,304.98 370.07,303.33 370.13,301.67 370.19,300.02 370.25,298.36 370.31,296.91 370.32,297.12 370.38,298.82 370.44,300.52 370.51,302.21 370.57,303.85 370.63,305.48 370.70,307.11 370.76,308.73 370.82,310.34 370.88,311.95 370.95,313.55 371.01,315.13 371.07,316.71 371.14,318.28 371.20,319.84 371.26,321.39 371.32,322.93 371.39,324.45 371.45,325.97 371.51,327.47 371.58,328.95 371.64,330.42 371.70,331.87 371.77,333.29 371.83,334.68 371.89,336.01 371.91,336.44 371.95,335.61 372.02,334.23 372.08,332.81 372.14,331.36 372.21,329.90 372.27,328.43 372.33,326.95 372.40,325.47 372.46,323.97 372.52,322.47 372.58,320.97 372.65,319.47 372.71,317.96 372.77,316.45 372.84,314.94 372.90,313.43 372.96,311.92 373.03,310.40 373.09,308.89 373.15,307.38 373.21,305.86 373.28,304.35 373.34,302.84 373.40,301.33 373.47,299.82 373.52,298.59 373.53,298.83 373.59,300.33 373.66,301.83 373.72,303.32 373.78,304.80 373.84,306.28 373.91,307.75 373.97,309.21 374.03,310.67 374.10,312.12 374.16,313.57 374.22,315.01 374.29,316.44 374.35,317.87 374.41,319.28 374.47,320.69 374.54,322.09 374.60,323.48 374.66,324.87 374.73,326.24 374.79,327.59 374.85,328.94 374.92,330.26 374.98,331.56 375.04,332.84 375.10,334.06 375.12,334.41 375.17,333.67 375.23,332.50 375.29,331.29 375.36,330.06 375.42,328.81 375.48,327.55 375.54,326.19 375.61,324.79 375.67,323.40 375.73,322.02 375.80,320.64 375.86,319.27 375.92,317.92 375.99,316.57 376.05,315.23 376.11,313.90 376.17,312.58 376.24,311.27 376.30,309.97 376.36,308.68 376.43,307.41 376.49,306.15 376.55,304.90 376.62,303.66 376.68,302.43 376.73,301.46 376.74,301.75 376.80,303.18 376.87,304.58 376.93,305.97 376.99,307.34 377.06,308.71 377.12,310.08 377.18,311.43 377.25,312.78 377.31,314.12 377.37,315.44 377.43,316.75 377.50,318.06 377.56,319.35 377.62,320.62 377.69,321.89 377.75,323.14 377.81,324.38 377.88,325.61 377.94,326.82 378.00,328.01 378.06,329.19 378.13,330.35 378.19,331.48 378.25,332.58 378.32,333.63 378.33,333.89 378.38,333.16 378.44,332.08 378.51,330.99 378.57,329.87 378.63,328.75 378.69,327.63 378.76,326.50 378.82,325.37 378.88,324.24 378.95,323.11 379.01,321.98 379.07,320.85 379.13,319.73 379.20,318.60 379.26,317.49 379.32,316.37 379.39,315.26 379.45,314.15 379.51,313.05 379.58,311.95 379.64,310.86 379.70,309.77 379.76,308.68 379.83,307.60 379.89,306.53 379.94,305.73 379.95,306.01 380.02,307.16 380.08,308.30 380.14,309.42 380.21,310.54 380.27,311.64 380.33,312.75 380.39,313.84 380.46,314.93 380.52,316.00 380.58,317.08 380.65,318.14 380.71,319.19 380.77,320.24 380.84,321.28 380.90,322.31 380.96,323.32 381.02,324.33 381.09,325.33 381.15,326.32 381.21,327.30 381.28,328.26 381.34,329.21 381.40,330.13 381.47,331.03 381.53,331.89 381.54,332.07 381.59,331.52 381.65,330.75 381.72,329.95 381.78,329.14 381.84,328.33 381.91,327.51 381.97,326.68 382.03,325.85 382.10,325.02 382.16,324.19 382.22,323.35 382.28,322.52 382.35,321.68 382.41,320.85 382.47,320.01 382.54,319.18 382.60,318.35 382.66,317.52 382.72,316.69 382.79,315.86 382.85,315.03 382.91,314.20 382.98,313.37 383.04,312.51 383.10,311.62 383.15,310.98 383.17,311.25 383.23,312.20 383.29,313.15 383.35,314.10 383.42,315.05 383.48,316.00 383.54,316.95 383.61,317.91 383.67,318.86 383.73,319.81 383.80,320.75 383.86,321.70 383.92,322.65 383.98,323.60 384.05,324.54 384.11,325.48 384.17,326.42 384.24,327.36 384.30,328.30 384.36,329.23 384.43,330.15 384.49,331.07 384.55,331.98 384.61,332.88 384.68,333.76 384.74,334.60 384.75,334.74 384.80,334.10 384.87,333.24 384.93,332.35 384.99,331.43 385.06,330.51 385.12,329.57 385.18,328.61 385.24,327.65 385.31,326.68 385.37,325.70 385.43,324.72 385.50,323.72 385.56,322.72 385.62,321.71 385.69,320.70 385.75,319.68 385.81,318.65 385.87,317.62 385.94,316.58 386.00,315.54 386.06,314.54 386.13,313.55 386.19,312.57 386.25,311.59 386.31,310.62 386.36,309.97 386.38,310.36 386.44,311.55 386.50,312.73 386.57,313.90 386.63,315.06 386.69,316.21 386.76,317.35 386.82,318.48 386.88,319.59 386.94,320.70 387.01,321.80 387.07,322.88 387.13,323.95 387.20,325.01 387.26,326.06 387.32,327.10 387.39,328.12 387.45,329.13 387.51,330.13 387.57,331.11 387.64,332.08 387.70,333.03 387.76,333.96 387.83,334.87 387.89,335.76 387.95,336.59 387.96,336.70 388.02,336.04 388.08,335.22 388.14,334.38 388.20,333.54 388.27,332.69 388.33,331.84 388.39,331.00 388.46,330.16 388.52,329.32 388.58,328.48 388.65,327.65 388.71,326.82 388.77,326.00 388.83,325.18 388.90,324.37 388.96,323.57 389.02,322.74 389.09,321.88 389.15,321.02 389.21,320.17 389.28,319.32 389.34,318.47 389.40,317.63 389.46,316.80 389.53,315.98 389.57,315.46 389.59,315.75 389.65,316.52 389.72,317.29 389.78,318.05 389.84,318.80 389.90,319.54 389.97,320.27 390.03,320.99 390.09,321.71 390.16,322.41 390.22,323.11 390.28,323.80 390.35,324.47 390.41,325.14 390.47,325.80 390.53,326.45 390.60,327.09 390.66,327.72 390.72,328.34 390.79,328.95 390.85,329.55 390.91,330.13 390.98,330.70 391.04,331.25 391.10,331.79 391.16,332.28 391.17,332.33 391.23,331.75 391.29,331.06 391.35,330.36 391.42,329.66 391.48,328.95 391.54,328.24 391.61,327.54 391.67,326.83 391.73,326.13 391.79,325.43 391.86,324.73 391.92,324.04 391.98,323.35 392.05,322.72 392.11,322.12 392.17,321.52 392.24,320.93 392.30,320.34 392.36,319.75 392.42,319.17 392.49,318.59 392.55,318.01 392.61,317.44 392.68,316.87 392.74,316.30 392.78,315.97 392.80,316.28 392.87,317.03 392.93,317.77 392.99,318.51 393.05,319.23 393.12,319.96 393.18,320.67 393.24,321.38 393.31,322.08 393.37,322.78 393.43,323.46 393.49,324.14 393.56,324.82 393.62,325.48 393.68,326.14 393.75,326.79 393.81,327.43 393.87,328.07 393.94,328.69 394.00,329.31 394.06,329.92 394.12,330.51 394.19,331.10 394.25,331.67 394.31,332.22 394.38,332.74 394.38,332.77 394.44,332.30 394.50,331.76 394.57,331.22 394.63,330.66 394.69,330.11 394.75,329.55 394.82,329.00 394.88,328.44 394.94,327.89 395.01,327.34 395.07,326.78 395.13,326.21 395.20,325.64 395.26,325.06 395.32,324.47 395.38,323.87 395.45,323.27 395.51,322.66 395.57,322.05 395.64,321.42 395.70,320.80 395.76,320.16 395.83,319.52 395.89,318.87 395.95,318.22 395.99,317.86 396.01,318.17 396.08,318.87 396.14,319.59 396.20,320.33 396.27,321.10 396.33,321.88 396.39,322.67 396.46,323.48 396.52,324.30 396.58,325.13 396.64,325.96 396.71,326.79 396.77,327.61 396.83,328.43 396.90,329.24 396.96,330.03 397.02,330.80 397.08,331.54 397.15,332.26 397.21,332.95 397.27,333.59 397.34,334.19 397.40,334.75 397.46,335.24 397.53,335.67 397.59,336.01 397.59,336.02 397.65,335.80 397.71,335.50 397.78,335.13 397.84,334.71 397.90,334.25 397.97,333.75 398.03,333.21 398.09,332.63 398.16,332.02 398.22,331.38 398.28,330.70 398.34,329.99 398.41,329.24 398.47,328.47 398.53,327.66 398.60,326.81 398.66,325.84 398.72,324.83 398.79,323.78 398.85,322.71 398.91,321.60 398.97,320.46 399.04,319.28 399.10,318.05 399.16,316.79 399.20,316.13 399.23,316.69 399.29,317.81 399.35,318.90 399.42,319.95 399.48,320.97 399.54,321.95 399.60,322.88 399.67,323.78 399.73,324.62 399.79,325.43 399.86,326.19 399.92,326.92 399.98,327.60 400.05,328.24 400.11,328.85 400.17,329.43 400.23,329.99 400.30,330.52 400.36,331.05 400.42,331.57 400.49,332.09 400.55,332.63 400.61,333.19 400.67,333.79 400.74,334.43 400.80,335.13 400.80,335.12 400.86,334.25 400.93,333.40 400.99,332.55 401.05,331.72 401.12,330.90 401.18,330.09 401.24,329.29 401.30,328.50 401.37,327.72 401.43,326.95 401.49,326.18 401.56,325.41 401.62,324.64 401.68,323.86 401.75,323.08 401.81,322.28 401.87,321.46 401.93,320.61 402.00,319.72 402.06,318.82 402.12,317.85 402.19,316.81 402.25,315.67 402.31,314.44 402.38,313.10 402.40,312.44 402.44,313.10 402.50,314.27 402.56,315.34 402.63,316.35 402.69,317.27 402.75,318.14 402.82,318.94 402.88,319.70 402.94,320.40 403.01,321.07 403.07,321.71 403.13,322.33 403.19,322.94 403.26,323.53 403.32,324.13 403.38,324.75 403.45,325.38 403.51,326.04 403.57,326.74 403.64,327.48 403.70,328.28 403.76,329.15 403.82,330.10 403.89,331.14 403.95,332.27 404.01,333.43 404.01,333.36 404.08,332.11 404.14,330.94 404.20,329.86 404.27,328.85 404.33,327.91 404.39,327.03 404.45,326.21 404.52,325.43 404.58,324.68 404.64,323.97 404.71,323.28 404.77,322.60 404.83,321.92 404.89,321.24 404.96,320.55 405.02,319.85 405.08,319.15 405.15,318.41 405.21,317.61 405.27,316.76 405.34,315.83 405.40,314.82 405.46,313.71 405.52,312.50 405.59,311.17 405.61,310.57 405.65,311.34 405.71,312.59 405.78,313.75 405.84,314.82 405.90,315.80 405.97,316.71 406.03,317.55 406.09,318.34 406.15,319.06 406.22,319.75 406.28,320.39 406.34,321.01 406.41,321.61 406.47,322.19 406.53,322.78 406.60,323.37 406.66,323.97 406.72,324.60 406.78,325.27 406.85,325.98 406.91,326.74 406.97,327.57 407.04,328.48 407.10,329.47 407.16,330.55 407.22,331.62 407.23,331.51 407.29,330.41 407.35,329.39 407.41,328.45 407.48,327.58 407.54,326.77 407.60,326.02 407.67,325.30 407.73,324.62 407.79,323.96 407.86,323.31 407.92,322.67 407.98,322.01 408.04,321.34 408.11,320.63 408.17,319.88 408.23,319.08 408.30,318.21 408.36,317.26 408.42,316.22 408.48,315.08 408.55,313.88 408.61,312.58 408.67,311.14 408.74,309.56 408.80,307.83 408.82,307.12 408.86,308.34 408.93,310.16 408.99,311.84 409.05,313.37 409.11,314.76 409.18,316.04 409.24,317.21 409.30,318.28 409.37,319.27 409.43,320.19 409.49,321.05 409.56,321.87 409.62,322.65 409.68,323.41 409.74,324.16 409.81,324.92 409.87,325.70 409.93,326.51 410.00,327.36 410.06,328.27 410.12,329.25 410.19,330.31 410.25,331.46 410.31,332.71 410.37,334.08 410.43,335.36 410.44,335.16 410.50,333.78 410.56,332.53 410.63,331.39 410.69,330.36 410.75,329.42 410.82,328.56 410.88,327.77 410.94,327.03 411.00,326.34 411.07,325.64 411.13,324.96 411.19,324.29 411.26,323.61 411.32,322.92 411.38,322.19 411.45,321.42 411.51,320.59 411.57,319.69 411.63,318.71 411.70,317.63 411.76,316.44 411.82,315.13 411.89,313.69 411.95,312.10 412.01,310.34 412.03,309.68 412.07,310.92 412.14,312.64 412.20,314.21 412.26,315.63 412.33,316.92 412.39,318.08 412.45,319.12 412.52,320.07 412.58,320.93 412.64,321.72 412.70,322.45 412.77,323.13 412.83,323.77 412.89,324.40 412.96,325.02 413.02,325.65 413.08,326.29 413.15,326.97 413.21,327.70 413.27,328.48 413.33,329.34 413.40,330.28 413.46,331.33 413.52,332.48 413.59,333.75 413.64,334.90 413.65,334.63 413.71,333.22 413.78,331.94 413.84,330.77 413.90,329.72 413.96,328.75 414.03,327.87 414.09,327.06 414.15,326.31 414.22,325.61 414.28,324.94 414.34,324.28 414.41,323.64 414.47,322.99 414.53,322.31 414.59,321.60 414.66,320.85 414.72,320.03 414.78,319.13 414.85,318.15 414.91,317.06 414.97,315.85 415.04,314.50 415.10,313.01 415.16,311.36 415.22,309.53 415.24,308.95 415.29,310.26 415.35,311.97 415.41,313.52 415.48,314.91 415.54,316.15 415.60,317.27 415.66,318.27 415.73,319.16 415.79,319.96 415.85,320.68 415.92,321.34 415.98,321.95 416.04,322.50 416.11,323.03 416.17,323.55 416.23,324.07 416.29,324.61 416.36,325.19 416.42,325.81 416.48,326.49 416.55,327.25 416.61,328.09 416.67,329.03 416.74,330.08 416.80,331.26 416.85,332.27 416.86,331.97 416.92,330.69 416.99,329.52 417.05,328.46 417.11,327.49 417.18,326.61 417.24,325.81 417.30,325.07 417.37,324.39 417.43,323.75 417.49,323.13 417.55,322.54 417.62,321.94 417.68,321.34 417.74,320.71 417.81,320.04 417.87,319.32 417.93,318.53 418.00,317.66 418.06,316.69 418.12,315.60 418.18,314.38 418.25,313.02 418.31,311.50 418.37,309.80 418.44,307.90 418.45,307.38 418.50,308.73 418.56,310.39 418.63,311.89 418.69,313.23 418.75,314.43 418.81,315.51 418.88,316.47 418.94,317.34 419.00,318.12 419.07,318.83 419.13,319.49 419.19,320.12 419.25,320.72 419.32,321.32 419.38,321.93 419.44,322.58 419.51,323.26 419.57,324.02 419.63,324.85 419.70,325.78 419.76,326.83 419.82,328.01 419.88,329.35 419.95,330.85 420.01,332.54 420.06,333.91 420.07,333.40 420.14,331.59 420.20,329.96 420.26,328.49 420.33,327.17 420.39,325.99 420.45,324.91 420.51,323.94 420.58,323.06 420.64,322.23 420.70,321.46 420.77,320.71 420.83,319.97 420.89,319.22 420.96,318.44 421.02,317.60 421.08,316.70 421.14,315.71 421.21,314.60 421.27,313.35 421.33,311.95 421.40,310.38 421.46,308.60 421.52,306.60 421.59,304.35 421.65,301.84 421.66,301.26 421.71,303.21 421.77,305.48 421.84,307.50 421.90,309.31 421.96,310.91 422.03,312.32 422.09,313.56 422.15,314.65 422.22,315.61 422.28,316.47 422.34,317.25 422.40,317.96 422.47,318.64 422.53,319.29 422.59,319.95 422.66,320.63 422.72,321.36 422.78,322.15 422.84,323.02 422.91,324.01 422.97,325.11 423.03,326.38 423.10,327.80 423.16,329.41 423.22,331.21 423.27,332.58 423.29,331.93 423.35,329.92 423.41,328.13 423.47,326.53 423.54,325.11 423.60,323.86 423.66,322.74 423.73,321.74 423.79,320.85 423.85,320.04 423.92,319.29 423.98,318.59 424.04,317.92 424.10,317.24 424.17,316.56 424.23,315.84 424.29,315.06 424.36,314.22 424.42,313.28 424.48,312.23 424.55,311.06 424.61,309.73 424.67,308.24 424.73,306.57 424.80,304.69 424.86,302.59 424.87,302.20 424.92,303.99 424.99,305.93 425.05,307.64 425.11,309.15 425.18,310.48 425.24,311.64 425.30,312.66 425.36,313.55 425.43,314.34 425.49,315.05 425.55,315.69 425.62,316.28 425.68,316.85 425.74,317.42 425.81,317.99 425.87,318.60 425.93,319.27 425.99,320.00 426.06,320.83 426.12,321.76 426.18,322.81 426.25,324.01 426.31,325.38 426.37,326.92 426.43,328.66 426.48,329.91 426.50,329.19 426.56,327.26 426.62,325.54 426.69,324.03 426.75,322.69 426.81,321.51 426.88,320.47 426.94,319.55 427.00,318.73 427.06,317.99 427.13,317.31 427.19,316.67 427.25,316.05 427.32,315.43 427.38,314.79 427.44,314.11 427.51,313.38 427.57,312.56 427.63,311.65 427.69,310.62 427.76,309.46 427.82,308.14 427.88,306.64 427.95,304.95 428.01,303.04 428.07,300.90 428.08,300.60 428.14,302.51 428.20,304.47 428.26,306.20 428.32,307.71 428.39,309.03 428.45,310.17 428.51,311.17 428.58,312.03 428.64,312.78 428.70,313.44 428.77,314.03 428.83,314.57 428.89,315.09 428.95,315.59 429.02,316.10 429.08,316.63 429.14,317.22 429.21,317.86 429.27,318.59 429.33,319.42 429.40,320.37 429.46,321.45 429.52,322.68 429.58,324.07 429.65,325.66 429.69,326.75 429.71,326.00 429.77,324.20 429.84,322.60 429.90,321.18 429.96,319.92 430.03,318.81 430.09,317.81 430.15,316.93 430.21,316.14 430.28,315.42 430.34,314.77 430.40,314.15 430.47,313.57 430.53,312.99 430.59,312.41 430.65,311.80 430.72,311.15 430.78,310.45 430.84,309.67 430.91,308.79 430.97,307.81 431.03,306.70 431.10,305.44 431.16,304.03 431.22,302.44 431.28,300.65 431.29,300.48 431.35,301.93 431.41,303.33 431.47,304.56 431.54,305.63 431.60,306.55 431.66,307.33 431.73,308.01 431.79,308.58 431.85,309.07 431.91,309.50 431.98,309.87 432.04,310.14 432.10,310.34 432.17,310.56 432.23,310.80 432.29,311.09 432.36,311.44 432.42,311.87 432.48,312.40 432.54,313.05 432.61,313.85 432.67,314.82 432.73,315.98 432.80,317.36 432.86,318.98 432.90,320.03 432.92,319.17 432.99,317.28 433.05,315.56 433.11,314.00 433.17,312.58 433.24,311.29 433.30,310.12 433.36,309.05 433.43,308.05 433.49,307.13 433.55,306.25 433.62,305.40 433.68,304.56 433.74,303.71 433.80,302.82 433.87,301.88 433.93,300.85 433.99,299.72 434.06,298.45 434.12,297.03 434.18,295.41 434.24,293.59 434.31,291.53 434.37,289.20 434.43,286.57 434.50,283.61 434.50,283.45 434.56,285.88 434.62,288.14 434.69,290.12 434.75,291.85 434.81,293.34 434.87,294.63 434.94,295.74 435.00,296.70 435.06,297.56 435.13,298.32 435.19,299.01 435.25,299.65 435.32,300.28 435.38,300.91 435.44,301.57 435.50,302.28 435.57,303.08 435.63,303.99 435.69,305.03 435.76,306.23 435.82,307.62 435.88,309.22 435.95,311.06 436.01,313.17 436.07,315.58 436.12,317.89 436.13,317.47 436.20,314.79 436.26,312.40 436.32,310.28 436.39,308.41 436.45,306.75 436.51,305.29 436.58,304.00 436.64,302.85 436.70,301.83 436.76,300.91 436.83,300.06 436.89,299.25 436.95,298.47 437.02,297.70 437.08,296.93 437.14,296.11 437.21,295.21 437.27,294.20 437.33,293.06 437.39,291.75 437.46,290.27 437.52,288.57 437.58,286.63 437.65,284.42 437.71,281.93 437.75,280.13 437.77,281.08 437.83,283.62 437.90,285.86 437.96,287.84 438.02,289.56 438.09,291.04 438.15,292.34 438.21,293.48 438.28,294.48 438.34,295.38 438.40,296.19 438.46,296.95 438.53,297.69 438.59,298.42 438.65,299.17 438.72,299.99 438.78,300.88 438.84,301.89 438.91,303.04 438.97,304.35 439.03,305.87 439.09,307.62 439.16,309.63 439.22,311.94 439.28,314.56 439.35,317.54 439.38,319.02 439.41,317.24 439.47,314.26 439.54,311.61 439.60,309.27 439.66,307.21 439.72,305.41 439.79,303.82 439.85,302.43 439.91,301.21 439.98,300.12 440.04,299.15 440.10,298.26 440.17,297.42 440.23,296.62 440.29,295.81 440.35,294.97 440.42,294.08 440.48,293.11 440.54,292.02 440.61,290.80 440.67,289.40 440.73,287.81 440.80,286.00 440.86,283.93 440.92,281.59 440.98,278.94 441.00,278.21 441.05,280.33 441.11,282.90 441.17,285.17 441.24,287.18 441.30,288.95 441.36,290.51 441.42,291.88 441.49,293.10 441.55,294.19 441.61,295.17 441.68,296.07 441.74,296.92 441.80,297.74 441.87,298.55 441.93,299.39 441.99,300.27 442.05,301.22 442.12,302.27 442.18,303.42 442.24,304.72 442.31,306.17 442.37,307.81 442.43,309.64 442.50,311.70 442.56,314.00 442.62,316.55 442.62,316.70 442.68,314.28 442.75,312.03 442.81,310.08 442.87,308.38 442.94,306.93 443.00,305.67 443.06,304.60 443.13,303.68 443.19,302.88 443.25,302.18 443.31,301.55 443.38,300.97 443.44,300.41 443.50,299.85 443.57,299.26 443.63,298.62 443.69,297.91 443.76,297.10 443.82,296.17 443.88,295.10 443.94,293.86 444.01,292.38 444.07,290.24 444.13,287.81 444.20,285.03 444.25,282.36 444.26,282.71 444.32,284.94 444.39,286.93 444.45,288.70 444.51,290.26 444.57,291.60 444.64,292.75 444.70,293.75 444.76,294.61 444.83,295.35 444.89,296.00 444.95,296.58 445.01,297.11 445.08,297.62 445.14,298.14 445.20,298.69 445.27,299.31 445.33,300.01 445.39,300.84 445.46,301.81 445.52,302.96 445.58,304.32 445.64,305.93 445.71,307.81 445.77,309.99 445.83,312.52 445.88,314.38 445.90,313.30 445.96,310.37 446.02,307.73 446.09,305.34 446.15,303.19 446.21,301.25 446.27,299.50 446.34,297.91 446.40,296.47 446.46,295.13 446.53,293.88 446.59,292.68 446.65,291.50 446.72,290.32 446.78,289.09 446.84,287.78 446.90,286.37 446.97,284.81 447.03,283.11 447.09,281.26 447.16,279.16 447.22,276.77 447.28,274.06 447.35,270.98 447.41,267.51 447.47,263.59 447.50,261.64 447.53,263.66 447.60,267.03 447.66,270.01 447.72,272.62 447.79,274.89 447.85,276.86 447.91,278.56 447.98,280.04 448.04,281.32 448.10,282.43 448.16,283.43 448.23,284.33 448.29,285.18 448.35,286.02 448.42,286.88 448.48,287.79 448.54,288.81 448.60,289.96 448.67,291.29 448.73,292.83 448.79,294.62 448.86,296.71 448.92,299.13 448.98,301.92 449.05,305.22 449.11,309.04 449.12,310.10 449.17,307.15 449.23,303.54 449.30,300.31 449.36,297.43 449.42,294.88 449.49,292.61 449.55,290.60 449.61,288.80 449.68,287.18 449.74,285.71 449.80,284.34 449.86,283.03 449.93,281.75 449.99,280.46 450.05,279.10 450.12,277.64 450.18,276.04 450.24,274.24 450.31,272.45 450.37,270.44 450.43,268.13 450.49,265.48 450.56,262.46 450.62,259.01 450.68,255.11 450.75,250.70 450.75,250.43 450.81,254.94 450.87,259.19 450.94,262.94 451.00,266.24 451.06,269.14 451.12,271.67 451.19,273.89 451.25,275.83 451.31,277.55 451.38,279.08 451.44,280.46 451.50,281.75 451.57,282.97 451.63,284.18 451.69,285.40 451.75,286.69 451.82,288.07 451.88,289.59 451.94,291.28 452.01,293.19 452.07,295.36 452.13,297.81 452.19,300.57 452.26,303.68 452.32,307.16 452.38,310.47 452.38,309.91 452.45,306.25 452.51,303.04 452.57,300.23 452.64,297.80 452.70,295.69 452.76,293.87 452.82,292.29 452.89,290.92 452.95,289.71 453.01,288.64 453.08,287.65 453.14,286.71 453.20,285.77 453.27,284.81 453.33,283.78 453.39,282.64 453.45,281.35 453.52,279.83 453.58,277.95 453.64,275.79 453.71,273.30 453.77,270.43 453.83,267.15 453.90,263.40 453.96,259.14 454.00,256.04 454.02,257.61 454.08,261.89 454.15,265.69 454.21,269.05 454.27,272.01 454.34,274.62 454.40,276.90 454.46,278.91 454.53,280.66 454.59,282.18 454.65,283.54 454.71,284.77 454.78,285.92 454.84,287.02 454.90,288.12 454.97,289.26 455.03,290.47 455.09,291.80 455.16,293.28 455.22,294.96 455.28,296.88 455.34,299.06 455.41,301.57 455.47,304.42 455.53,307.66 455.60,311.32 455.62,313.16 455.66,310.96 455.72,307.25 455.79,303.96 455.85,301.06 455.91,298.51 455.97,296.27 456.04,294.30 456.10,292.56 456.16,291.01 456.23,289.61 456.29,288.31 456.35,287.09 456.41,285.88 456.48,284.66 456.54,283.38 456.60,281.99 456.67,280.45 456.73,278.71 456.79,276.74 456.86,274.47 456.92,271.87 456.98,268.89 457.04,265.25 457.11,260.98 457.17,256.13 457.23,250.62 457.25,249.07 457.30,252.62 457.36,256.97 457.42,260.83 457.49,264.24 457.55,267.24 457.61,269.86 457.67,272.14 457.74,274.13 457.80,275.87 457.86,277.39 457.93,278.75 457.99,279.98 458.05,281.13 458.12,282.26 458.18,283.39 458.24,284.59 458.30,285.90 458.37,287.37 458.43,289.05 458.49,290.98 458.56,293.23 458.62,295.83 458.68,298.85 458.75,302.34 458.81,306.34 458.87,310.91 458.88,311.21 458.93,306.74 459.00,302.46 459.06,298.63 459.12,295.22 459.19,292.18 459.25,289.47 459.31,287.05 459.38,284.86 459.44,282.87 459.50,281.01 459.56,279.23 459.63,277.49 459.69,275.73 459.75,273.88 459.82,271.89 459.88,269.69 459.94,267.23 460.00,264.42 460.07,261.23 460.13,257.55 460.19,253.32 460.26,248.44 460.32,242.85 460.38,236.45 460.45,229.16 460.50,222.11 460.51,223.12 460.57,229.96 460.63,236.07 460.70,241.51 460.76,246.31 460.82,250.53 460.89,254.23 460.95,257.46 461.01,260.26 461.08,262.66 461.14,264.77 461.20,266.63 461.26,268.31 461.33,269.87 461.39,271.38 461.45,272.91 461.52,274.51 461.58,276.26 461.64,278.23 461.71,280.48 461.77,283.08 461.83,286.11 461.89,289.64 461.96,293.74 462.02,298.47 462.08,303.93 M490.43,287.00 490.49,292.15 490.53,295.98 490.55,293.99 490.61,288.35 490.68,283.40 490.74,279.07 490.80,275.28 490.87,271.98 490.93,269.09 490.99,266.55 491.06,264.29 491.12,262.25 491.18,260.36 491.24,258.54 491.31,256.75 491.37,254.91 491.43,252.97 491.50,250.86 491.56,248.52 491.62,245.90 491.69,242.95 491.75,239.61 491.81,235.83 491.87,231.58 491.94,226.79 492.00,221.43 492.06,215.17 492.11,210.41 492.13,212.83 492.19,220.07 492.25,226.37 492.32,231.90 492.38,236.71 492.44,240.89 492.50,244.51 492.57,247.65 492.63,250.38 492.69,252.78 492.76,254.91 492.82,256.85 492.88,258.66 492.94,260.41 493.01,262.16 493.07,263.98 493.13,265.93 493.20,268.07 493.26,270.46 493.32,273.17 493.39,276.24 493.45,279.74 493.51,283.73 493.57,288.26 493.64,293.39 493.68,297.46 493.70,295.93 493.76,290.98 493.83,286.64 493.89,282.84 493.95,279.54 494.02,276.68 494.08,274.21 494.14,272.08 494.20,270.23 494.27,268.61 494.33,267.17 494.39,265.86 494.46,264.62 494.52,263.40 494.58,262.16 494.65,260.83 494.71,259.38 494.77,257.76 494.83,255.92 494.90,253.81 494.96,251.39 495.02,248.61 495.09,245.44 495.15,241.84 495.21,237.76 495.26,234.43 495.28,235.91 495.34,241.07 495.40,245.57 495.46,249.49 495.53,252.78 495.59,255.51 495.65,257.89 495.72,259.98 495.78,261.83 495.84,263.48 495.91,264.99 495.97,266.41 496.03,267.79 496.09,269.19 496.16,270.65 496.22,272.22 496.28,273.97 496.35,275.95 496.41,278.20 496.47,280.78 496.53,283.75 496.60,287.16 496.66,291.07 496.72,295.53 496.79,300.60 496.83,304.87 496.85,303.47 496.91,298.16 496.98,293.48 497.04,289.37 497.10,285.78 497.16,282.66 497.23,279.95 497.29,277.60 497.35,275.55 497.42,273.75 497.48,272.15 497.54,270.70 497.61,269.34 497.67,268.02 497.73,266.70 497.79,265.31 497.86,263.81 497.92,262.15 497.98,260.27 498.05,258.14 498.11,255.70 498.17,252.89 498.24,249.69 498.30,246.02 498.36,241.86 498.41,238.25 498.42,239.35 498.49,243.91 498.55,247.91 498.61,251.42 498.68,254.46 498.74,257.11 498.80,259.41 498.87,261.42 498.93,263.17 498.99,264.73 499.05,266.20 499.12,267.59 499.18,268.93 499.24,270.28 499.31,271.67 499.37,273.17 499.43,274.82 499.50,276.66 499.56,278.75 499.62,281.12 499.68,283.84 499.75,286.93 499.81,290.46 499.87,294.46 499.94,298.98 499.99,302.99 500.00,301.90 500.06,296.92 500.12,292.55 500.19,288.74 500.25,285.43 500.31,282.57 500.38,280.10 500.44,277.97 500.50,276.12 500.57,274.52 500.63,273.09 500.69,271.81 500.75,270.61 500.82,269.45 500.88,268.29 500.94,267.07 501.01,265.76 501.07,264.30 501.13,262.66 501.20,260.79 501.26,258.65 501.32,256.20 501.38,253.39 501.45,250.18 501.51,246.54 501.56,243.21 501.57,244.01 501.64,248.09 501.70,251.69 501.76,254.84 501.83,257.61 501.89,260.01 501.95,262.06 502.01,263.82 502.08,265.35 502.14,266.70 502.20,267.90 502.27,269.00 502.33,270.03 502.39,271.04 502.46,272.07 502.52,273.17 502.58,274.38 502.64,275.72 502.71,277.25 502.77,279.00 502.83,281.00 502.90,283.29 502.96,285.90 503.02,288.87 503.09,292.22 503.14,295.35 503.15,294.63 503.21,290.51 503.27,286.90 503.34,283.74 503.40,281.00 503.46,278.61 503.53,276.54 503.59,274.74 503.65,273.16 503.71,271.77 503.78,270.52 503.84,269.38 503.90,268.29 503.97,267.24 504.03,266.16 504.09,265.04 504.16,263.84 504.22,262.51 504.28,261.03 504.34,259.36 504.41,257.48 504.47,255.34 504.53,252.92 504.60,250.20 504.66,247.14 504.71,244.21 504.72,244.72 504.79,248.08 504.85,251.06 504.91,253.70 504.97,256.03 505.04,258.07 505.10,259.86 505.16,261.44 505.23,262.83 505.29,264.06 505.35,265.21 505.42,266.27 505.48,267.28 505.54,268.27 505.60,269.28 505.67,270.34 505.73,271.49 505.79,272.75 505.86,274.17 505.92,275.78 505.98,277.60 506.05,279.68 506.11,282.05 506.17,284.75 506.23,287.80 506.29,290.80 506.30,290.39 506.36,287.25 506.42,284.49 506.49,282.07 506.55,279.97 506.61,278.15 506.68,276.58 506.74,275.22 506.80,274.03 506.86,272.99 506.93,272.06 506.99,271.21 507.05,270.40 507.12,269.59 507.18,268.76 507.24,267.86 507.31,266.87 507.37,265.74 507.43,264.44 507.49,262.94 507.56,261.19 507.62,259.16 507.68,256.82 507.75,254.12 507.81,251.04 507.87,247.90 507.87,248.28 507.93,251.86 508.00,255.04 508.06,257.84 508.12,260.31 508.19,262.48 508.25,264.39 508.31,266.06 508.38,267.54 508.44,268.87 508.50,270.08 508.56,271.20 508.63,272.25 508.69,273.29 508.75,274.33 508.82,275.41 508.88,276.57 508.94,277.85 509.01,279.26 509.07,280.86 509.13,282.67 509.19,284.72 509.26,287.05 509.32,289.70 509.38,292.68 509.44,295.76 509.45,295.50 509.51,292.42 509.57,289.72 509.64,287.37 509.70,285.33 509.76,283.57 509.82,282.05 509.89,280.73 509.95,279.60 510.01,278.59 510.08,277.64 510.14,276.76 510.20,275.93 510.27,275.10 510.33,274.25 510.39,273.34 510.45,272.33 510.52,271.19 510.58,269.89 510.64,268.40 510.71,266.67 510.77,264.69 510.83,262.41 510.90,259.80 510.96,256.84 511.02,253.69 511.02,253.92 511.08,257.45 511.15,260.56 511.21,263.30 511.27,265.69 511.34,267.78 511.40,269.60 511.46,271.19 511.52,272.57 511.59,273.79 511.65,274.88 511.71,275.87 511.78,276.79 511.84,277.68 511.90,278.57 511.97,279.48 512.03,280.45 512.09,281.50 512.15,282.66 512.22,283.97 512.28,285.45 512.34,287.12 512.41,289.01 512.47,291.15 512.53,293.65 512.59,296.41 512.60,296.30 512.66,293.77 512.72,291.56 512.78,289.63 512.85,287.96 512.91,286.52 512.97,285.29 513.04,284.23 513.10,283.31 513.16,282.51 513.23,281.80 513.29,281.15 513.35,280.52 513.41,279.89 513.48,279.22 513.54,278.49 513.60,277.66 513.67,276.71 513.73,275.60 513.79,274.30 513.86,272.77 513.92,270.99 513.98,268.91 514.04,266.52 514.11,263.76 514.17,260.68 514.17,260.75 514.23,264.15 514.30,267.18 514.36,269.87 514.42,272.24 514.49,274.33 514.55,276.17 514.61,277.79 514.67,279.22 514.74,280.50 514.80,281.69 514.86,282.80 514.93,283.84 514.99,284.84 515.05,285.84 515.11,286.85 515.18,287.92 515.24,289.06 515.30,290.32 515.37,291.71 515.43,293.25 515.49,294.96 515.56,296.88 515.62,299.04 515.68,301.46 515.74,304.17 515.74,304.18 515.81,301.75 515.87,299.63 515.93,297.80 516.00,296.23 516.06,294.89 516.12,293.75 516.19,292.78 516.25,291.95 516.31,291.23 516.37,290.60 516.44,290.02 516.50,289.47 516.56,288.92 516.63,288.33 516.69,287.69 516.75,286.96 516.82,286.12 516.88,285.13 516.94,283.97 517.00,282.61 517.07,281.03 517.13,279.19 517.19,277.06 517.26,274.63 517.32,271.86 517.32,271.79 517.38,274.97 517.45,277.86 517.51,280.38 517.57,282.36 517.63,284.10 517.70,285.64 517.76,286.99 517.82,288.18 517.89,289.23 517.95,290.17 518.01,291.04 518.08,291.84 518.14,292.61 518.20,293.39 518.26,294.20 518.33,295.06 518.39,296.02 518.45,297.11 518.52,298.30 518.58,299.58 518.64,301.05 518.70,302.75 518.77,304.71 518.83,306.95 518.89,309.52 518.90,309.63 518.96,307.02 519.02,304.58 519.08,302.42 519.15,300.51 519.21,298.83 519.27,297.35 519.33,296.03 519.40,294.86 519.46,293.79 519.52,292.81 519.59,291.88 519.65,290.97 519.71,290.05 519.78,289.08 519.84,288.05 519.90,286.90 519.96,285.62 520.03,284.16 520.09,282.50 520.15,280.59 520.22,278.40 520.28,275.90 520.34,273.05 520.41,269.81 520.47,266.14 520.47,265.89 520.53,269.12 520.59,272.18 520.66,274.85 520.72,277.19 520.78,279.22 520.85,280.97 520.91,282.50 520.97,283.92 521.04,285.15 521.10,286.24 521.16,287.21 521.22,288.10 521.29,288.94 521.35,289.77 521.41,290.61 521.48,291.51 521.54,292.48 521.60,293.56 521.67,294.79 521.73,296.24 521.79,297.99 521.85,299.97 521.92,302.23 521.98,304.79 522.04,307.67 522.05,307.93 522.11,305.49 522.17,303.12 522.23,301.05 522.29,299.25 522.36,297.69 522.42,296.33 522.48,295.16 522.55,294.13 522.61,293.22 522.67,292.40 522.74,291.64 522.80,290.91 522.86,290.16 522.92,289.38 522.99,288.52 523.05,287.56 523.11,286.45 523.18,285.17 523.24,283.68 523.30,281.94 523.37,279.91 523.43,277.57 523.49,274.86 523.55,271.76 523.62,268.23 523.62,267.83 523.68,271.20 523.74,274.56 523.81,277.41 523.87,279.91 523.93,282.12 524.00,284.04 524.06,285.74 524.12,287.22 524.18,288.52 524.25,289.69 524.31,290.74 524.37,291.72 524.44,292.65 524.50,293.58 524.56,294.53 524.63,295.53 524.69,296.64 524.75,297.87 524.81,299.26 524.88,300.86 524.94,302.69 525.00,304.78 525.07,306.96 525.13,309.45 525.19,312.28 525.20,312.66 525.26,309.89 525.32,307.05 525.38,304.55 525.44,302.34 525.51,300.39 525.57,298.68 525.63,297.17 525.70,295.82 525.76,294.60 525.82,293.47 525.88,292.41 525.95,291.38 526.01,290.34 526.07,289.26 526.14,288.11 526.20,286.84 526.26,285.42 526.33,283.81 526.39,281.99 526.45,279.90 526.51,277.53 526.58,274.81 526.64,271.73 526.70,268.24 526.77,264.31 526.78,263.70 526.83,266.97 526.89,270.37 526.96,273.30 527.02,275.84 527.08,278.04 527.14,279.93 527.21,281.55 527.27,282.94 527.33,284.13 527.40,285.17 527.46,286.08 527.52,286.90 527.59,287.68 527.65,288.43 527.71,289.20 527.77,290.02 527.84,290.93 527.90,291.96 527.96,293.14 528.03,294.53 528.09,296.17 528.15,298.06 528.22,300.24 528.28,302.75 528.34,305.61 528.35,306.12 528.40,303.52 528.47,300.72 528.53,298.24 528.59,296.04 528.66,294.11 528.72,292.39 528.78,290.88 528.85,289.52 528.91,288.29 528.97,287.16 529.03,286.09 529.10,285.05 529.16,283.99 529.22,282.89 529.29,281.71 529.35,280.40 529.41,278.94 529.47,277.28 529.54,275.38 529.60,273.20 529.66,270.71 529.73,267.86 529.79,264.60 529.85,260.90 529.92,256.71 529.93,255.88 529.98,259.15 530.04,262.76 530.10,265.93 530.17,268.69 530.23,271.10 530.29,273.17 530.36,274.97 530.42,276.51 530.48,277.85 530.55,279.03 530.61,280.07 530.67,281.02 530.73,281.91 530.80,282.79 530.86,283.70 530.92,284.66 530.99,285.72 531.05,287.00 531.11,288.48 531.18,290.18 531.24,292.14 531.30,294.40 531.36,296.99 531.43,299.97 531.49,303.35 531.50,304.11 531.55,301.43 531.62,298.38 531.68,295.69 531.74,293.31 531.81,291.22 531.87,289.38 531.93,287.76 531.99,286.32 532.06,285.03 532.12,283.85 532.18,282.73 532.25,281.65 532.31,280.55 532.37,279.40 532.44,278.16 532.50,276.78 532.56,275.21 532.62,273.41 532.69,271.34 532.75,268.93 532.81,266.16 532.88,262.96 532.94,259.27 533.00,255.06 533.06,250.27 533.08,249.09 533.13,252.74 533.19,256.96 533.25,260.70 533.32,263.98 533.38,266.86 533.44,269.37 533.51,271.56 533.57,273.47 533.63,275.14 533.69,276.61 533.76,277.93 533.82,279.08 533.88,280.17 533.95,281.24 534.01,282.34 534.07,283.50 534.14,284.79 534.20,286.24 534.26,287.91 534.32,289.82 534.39,292.04 534.45,294.61 534.51,297.57 534.58,300.97 534.64,304.86 534.66,305.90 534.70,302.75 534.77,298.96 534.83,295.60 534.89,292.63 534.95,290.01 535.02,287.70 535.08,285.65 535.14,283.83 535.21,282.18 535.27,280.66 535.33,279.23 535.40,277.84 535.46,276.44 535.52,274.98 535.58,273.41 535.65,271.68 535.71,269.74 535.77,267.53 535.84,265.00 535.90,262.09 535.96,258.76 536.03,254.93 536.09,250.55 536.15,245.57 536.21,239.91 536.23,238.28 536.28,242.45 536.34,247.68 536.40,252.27 536.47,256.27 536.53,259.76 536.59,262.79 536.66,265.40 536.72,267.67 536.78,269.65 536.84,271.38 536.91,272.92 536.97,274.32 537.03,275.62 537.10,276.89 537.16,278.18 537.22,279.53 537.28,280.98 537.35,282.59 537.41,284.40 537.47,286.46 537.54,288.80 537.60,291.47 537.66,294.51 537.73,297.96 537.79,301.86 537.81,303.08 537.85,300.05 537.91,296.24 537.98,292.89 538.04,289.96 538.10,287.41 538.17,285.19 538.23,283.25 538.29,281.55 538.36,280.04 538.42,278.67 538.48,277.40 538.54,276.18 538.61,274.96 538.67,273.71 538.73,272.36 538.80,270.88 538.86,269.21 538.92,267.32 538.99,265.15 539.05,262.67 539.11,259.82 539.17,256.55 539.24,252.83 539.30,248.61 539.36,243.84 539.38,242.24 539.43,245.75 539.49,250.25 539.55,254.20 539.62,257.65 539.68,260.64 539.74,263.24 539.80,265.47 539.87,267.41 539.93,269.08 539.99,270.53 540.06,271.81 540.12,272.96 540.18,274.04 540.25,275.09 540.31,276.15 540.37,277.27 540.43,278.50 540.50,279.88 540.56,281.45 540.62,283.25 540.69,285.34 540.75,287.74 540.81,290.51 540.87,293.69 540.94,297.31 540.96,298.61 541.00,295.89 541.06,292.22 541.13,288.96 541.19,286.09 541.25,283.56 541.32,281.34 541.38,279.37 541.44,277.62 541.50,276.04 541.57,274.60 541.63,273.25 541.69,271.95 541.76,270.64 541.82,269.29 541.88,267.85 541.95,266.28 542.01,264.52 542.07,262.53 542.13,260.26 542.20,257.66 542.26,254.68 542.32,251.29 542.39,247.41 542.45,243.01 542.51,238.02 542.53,236.11 542.58,239.36 542.64,243.86 542.70,247.82 542.76,251.27 542.83,254.26 542.89,256.86 542.95,259.09 543.02,261.01 543.08,262.68 543.14,264.16 543.21,265.50 543.27,266.72 543.33,267.87 543.39,269.01 543.46,270.19 543.52,271.44 543.58,272.81 543.65,274.37 543.71,276.14 543.77,278.19 543.84,280.56 543.90,283.30 543.96,286.46 544.02,290.09 544.09,294.23 544.11,295.91 544.15,293.09 544.21,289.00 544.28,285.37 544.34,282.17 544.40,279.35 544.46,276.86 544.53,274.66 544.59,272.71 544.65,270.97 544.72,269.37 544.78,267.89 544.84,266.46 544.91,265.04 544.97,263.58 545.03,262.03 545.09,260.33 545.16,258.44 545.22,256.29 545.28,253.84 545.35,251.02 545.41,247.79 545.47,244.09 545.54,239.88 545.60,235.12 545.66,229.72 545.69,227.42 545.72,230.83 545.79,235.90 545.85,240.36 545.91,244.27 545.98,247.67 546.04,250.63 546.10,253.20 546.17,255.42 546.23,257.37 546.29,259.08 546.35,260.61 546.42,262.02 546.48,263.36 546.54,264.69 546.61,266.05 546.67,267.50 546.73,269.10 546.80,270.89 546.86,272.94 546.92,275.28 546.98,277.94 547.05,281.01 547.11,284.54 547.17,288.57 547.24,293.18 547.26,295.25 547.30,292.23 547.36,287.56 547.43,283.43 547.49,279.80 547.55,276.61 547.61,273.80 547.68,271.34 547.74,269.17 547.80,267.23 547.87,265.48 547.93,263.86 547.99,262.32 548.05,260.81 548.12,259.27 548.18,257.65 548.24,255.89 548.31,253.94 548.37,251.74 548.43,249.25 548.50,246.39 548.56,243.13 548.62,239.39 548.68,235.13 548.75,230.28 548.81,224.56 548.84,221.86 548.87,224.99 548.94,230.00 549.00,234.40 549.06,238.25 549.13,241.59 549.19,244.49 549.25,247.00 549.31,249.16 549.38,251.04 549.44,252.68 549.50,254.15 549.57,255.50 549.63,256.78 549.69,258.06 549.76,259.38 549.82,260.81 549.88,262.41 549.94,264.24 550.01,266.35 550.07,268.79 550.13,271.64 550.20,274.96 550.26,278.81 550.32,283.25 550.39,288.34 550.41,290.88 550.45,287.70 550.51,282.39 550.57,277.66 550.64,273.46 550.70,269.75 550.76,266.47 550.83,263.56 550.89,260.97 550.95,258.65 551.02,256.53 551.08,254.57 551.14,252.69 551.20,250.85 551.27,248.97 551.33,247.00 551.39,244.88 551.46,242.54 551.52,239.91 551.58,236.93 551.64,233.53 551.71,229.65 551.77,225.21 551.83,220.15 551.90,214.39 551.96,207.99 551.99,204.68 552.02,208.12 552.09,214.06 552.15,219.27 552.21,223.83 552.27,227.79 552.34,231.23 552.40,234.19 552.46,236.76 552.53,238.99 552.59,240.95 552.65,242.70 552.72,244.32 552.78,245.85 552.84,247.37 552.90,248.95 552.97,250.65 553.03,252.53 553.09,254.67 553.16,257.25 553.22,260.25 553.28,263.73 553.35,267.74 553.41,272.36 553.47,277.67 553.53,283.73 553.57,287.03 553.60,283.76 553.66,277.84 553.72,272.59 553.79,267.96 553.85,263.87 553.91,260.28 553.98,257.12 554.04,254.34 554.10,251.86 554.16,249.62 554.23,247.56 554.29,245.60 554.35,243.69 554.42,241.74 554.48,239.69 554.54,237.46 554.61,234.99 554.67,232.19 554.73,228.98 554.79,225.30 554.86,221.06 554.92,216.19 554.98,210.59 555.05,204.17 555.11,196.84 555.14,192.70 555.17,196.38 555.23,203.32 555.30,209.44 555.36,214.82 555.42,219.54 555.49,223.65 555.55,227.24 555.61,230.37 555.68,233.12 555.74,235.56 555.80,237.77 555.86,239.83 555.93,241.81 555.99,243.79 556.05,245.84 556.12,248.06 556.18,250.52 556.24,253.31 556.31,256.50 556.37,260.19 556.43,264.45 556.49,269.39 556.56,275.07 556.62,281.60 556.68,289.06 556.72,293.47 556.75,289.72 556.81,282.31 556.87,275.75 556.94,269.95 557.00,264.85 557.06,260.36 557.12,256.42 557.19,252.95 557.25,249.87 557.31,246.97 557.38,244.31 557.44,241.81 557.50,239.39 557.57,236.95 557.63,234.43 557.69,231.73 557.75,228.77 557.82,225.45 557.88,221.71 557.94,217.44 558.01,212.57 558.07,207.00 558.13,200.65 558.20,193.44 558.26,185.27 558.29,180.29 558.32,184.09 558.38,191.90 558.45,198.77 558.51,204.77 558.57,209.99 558.64,214.53 558.70,218.45 558.76,221.86 558.82,224.83 558.89,227.45 558.95,229.81 559.01,232.00 559.08,234.10 559.14,236.20 559.20,238.39 559.27,240.76 559.33,243.40 559.39,246.40 559.45,249.84 559.52,253.83 559.58,258.45 559.64,263.79 559.71,269.95 559.77,277.02 559.83,285.09 559.87,290.22 559.90,286.30 559.96,277.80 560.02,270.28 560.08,263.64 560.15,257.81 560.21,252.69 560.27,248.20 560.34,244.25 560.40,240.76 560.46,237.65 560.53,234.82 560.59,232.17 560.65,229.62 560.71,227.08 560.78,224.45 560.84,221.66 560.90,218.60 560.97,215.18 561.03,211.32 561.09,206.93 561.16,201.90 561.22,196.15 561.28,189.63 561.34,182.24 561.41,173.87 561.44,168.38 561.47,172.03 561.53,180.34 561.60,187.64 561.66,194.03 561.72,199.60 561.79,204.44 561.85,208.65 561.91,212.31 561.97,215.51 562.04,218.36 562.10,220.95 562.16,223.36 562.23,225.69 562.29,228.02 562.35,230.45 562.42,233.08 562.48,235.99 562.54,239.28 562.60,243.05 562.67,247.39 562.73,252.39 562.79,258.15 562.86,264.77 562.92,272.35 562.98,280.97 563.02,286.85 563.04,283.08 563.11,274.04 563.17,266.06 563.23,259.04 563.30,252.88 563.36,247.50 563.42,242.81 563.49,238.70 563.55,235.08 563.61,231.86 563.67,228.95 563.74,226.25 563.80,223.67 563.86,221.11 563.93,218.48 563.99,215.69 564.05,212.65 564.12,209.26 564.18,205.43 564.24,201.06 564.30,196.06 564.37,190.35 564.43,183.87 564.49,176.56 564.56,168.27 564.60,162.43 564.62,165.81 564.68,174.37 564.75,181.90 564.81,188.49 564.87,194.25 564.93,199.26 565.00,203.62 565.06,207.42 565.12,210.75 565.19,213.71 565.25,216.39 565.31,218.88 565.38,221.28 565.44,223.67 565.50,226.16 565.56,228.84 565.63,231.79 565.69,235.12 565.75,238.91 565.82,243.25 565.88,248.25 565.94,253.98 566.01,260.55 566.07,268.05 566.13,276.57 566.17,282.76 566.19,279.42 566.26,270.41 566.32,262.47 566.38,255.51 566.45,249.42 566.51,244.11 566.57,239.50 566.63,235.47 566.70,231.94 566.76,228.81 566.82,226.00 566.89,223.40 566.95,221.02 567.01,218.68 567.08,216.28 567.14,213.72 567.20,210.90 567.26,207.73 567.33,204.12 567.39,199.98 567.45,195.20 567.52,189.66 567.58,183.15 567.64,175.71 567.71,167.22 567.75,160.82 567.77,163.79 567.83,172.30 567.89,179.82 567.96,186.45 568.02,192.26 568.08,197.35 568.15,201.79 568.21,205.68 568.27,209.11 568.34,212.16 568.40,214.94 568.46,217.53 568.52,220.03 568.59,222.53 568.65,225.14 568.71,227.95 568.78,231.07 568.84,234.58 568.90,238.61 568.97,243.24 569.03,248.59 569.09,254.77 569.15,261.87 569.22,270.01 569.28,279.31 569.32,286.54 569.34,283.43 569.41,273.86 569.47,265.38 569.53,257.92 569.60,251.36 569.66,245.61 569.72,240.59 569.78,236.18 569.85,232.30 569.91,228.84 569.97,225.71 570.04,222.69 570.10,219.70 570.16,216.75 570.22,213.73 570.29,210.54 570.35,207.07 570.41,203.22 570.48,198.89 570.54,193.97 570.60,188.37 570.67,181.98 570.73,174.69 570.79,166.41 570.85,157.04 570.90,149.57 570.92,152.73 570.98,163.07 571.04,172.13 571.11,180.06 571.17,186.96 571.23,192.95 571.30,198.16 571.36,202.69 571.42,206.67 571.48,210.19 571.55,213.36 571.61,216.28 571.67,219.04 571.74,221.76 571.80,224.51 571.86,227.38 571.93,230.46 571.99,233.83 572.05,237.58 572.11,241.77 572.18,246.49 572.24,251.79 572.30,257.75 572.37,264.42 572.43,271.88 572.48,277.94 572.49,275.66 572.56,267.50 572.62,260.36 572.68,254.14 572.74,248.75 572.81,244.08 572.87,240.05 572.93,236.57 573.00,233.55 573.06,230.90 573.12,228.54 573.19,226.39 573.25,224.36 573.31,222.38 573.37,220.37 573.44,218.25 573.50,215.96" fill="none" stroke="#0000ff" stroke-width="1.7" stroke-linejoin="round"/>
<path d="M465.35,252.00V307.02 M468.40,240.00V307.89 M471.60,258.00V314.75 M474.80,244.00V312.32 M478.00,266.00V314.50 M481.20,240.00V300.73 M484.40,254.00V299.99 M487.55,247.00V295.83 M477.95,88V133 M481.15,78V137.5" fill="none" stroke="#0000ff" stroke-opacity="0.38" stroke-width="1.1"/>
<path d="M465.25,198.60V245.00 M468.30,155.50V240.00 M471.50,149.50V213.00 M474.70,144.00V184.00 M477.90,133.00V172.75 M481.10,137.50V167.90 M484.30,164.00V190.00 M487.45,200.50V245.00" fill="none" stroke="#0000ff" stroke-width="1.5"/>
<path d="M463.75,182.80V309.95 M466.75,122.55V310.35 M469.85,78.80V314.41 M473.10,67.80V316.66 M476.30,48.05V316.61 M479.50,40.10V310.37 M482.70,54.05V303.75 M485.90,109.05V301.03 M489.00,170.30V297.67" fill="none" stroke="#0000ff" stroke-width="1.7" stroke-linecap="round"/>
<line x1="54.7" x2="54.7" y1="30.0" y2="356.1" stroke="#000" stroke-width="1"/>
<line x1="54.2" x2="588.5" y1="355.6" y2="355.6" stroke="#000" stroke-width="1"/>
<line x1="70.00" x2="70.00" y1="355.6" y2="350.6" stroke="#000" stroke-width="1"/>
<text class="tx" x="70.00" y="371.2" font-size="12.3" text-anchor="middle" textLength="7.5" lengthAdjust="spacingAndGlyphs">0</text>
<line x1="170.66" x2="170.66" y1="355.6" y2="350.6" stroke="#000" stroke-width="1"/>
<text class="tx" x="170.21" y="371.2" font-size="12.3" text-anchor="middle" textLength="30.2" lengthAdjust="spacingAndGlyphs">1000</text>
<line x1="271.32" x2="271.32" y1="355.6" y2="350.6" stroke="#000" stroke-width="1"/>
<text class="tx" x="270.87" y="371.2" font-size="12.3" text-anchor="middle" textLength="30.2" lengthAdjust="spacingAndGlyphs">2000</text>
<line x1="371.98" x2="371.98" y1="355.6" y2="350.6" stroke="#000" stroke-width="1"/>
<text class="tx" x="371.53" y="371.2" font-size="12.3" text-anchor="middle" textLength="30.2" lengthAdjust="spacingAndGlyphs">3000</text>
<line x1="472.64" x2="472.64" y1="355.6" y2="350.6" stroke="#000" stroke-width="1"/>
<text class="tx" x="472.19" y="371.2" font-size="12.3" text-anchor="middle" textLength="30.2" lengthAdjust="spacingAndGlyphs">4000</text>
<line x1="573.30" x2="573.30" y1="355.6" y2="350.6" stroke="#000" stroke-width="1"/>
<text class="tx" x="572.85" y="371.2" font-size="12.3" text-anchor="middle" textLength="30.2" lengthAdjust="spacingAndGlyphs">5000</text>
<line x1="54.7" x2="60.0" y1="346.70" y2="346.70" stroke="#000" stroke-width="1"/>
<text class="tx" x="46.3" y="351.30" font-size="12.3" text-anchor="end" textLength="17.6" lengthAdjust="spacingAndGlyphs">0.0</text>
<line x1="54.7" x2="60.0" y1="292.70" y2="292.70" stroke="#000" stroke-width="1"/>
<text class="tx" x="46.3" y="297.30" font-size="12.3" text-anchor="end" textLength="17.6" lengthAdjust="spacingAndGlyphs">0.5</text>
<line x1="54.7" x2="60.0" y1="238.70" y2="238.70" stroke="#000" stroke-width="1"/>
<text class="tx" x="46.3" y="243.30" font-size="12.3" text-anchor="end" textLength="17.6" lengthAdjust="spacingAndGlyphs">1.0</text>
<line x1="54.7" x2="60.0" y1="184.70" y2="184.70" stroke="#000" stroke-width="1"/>
<text class="tx" x="46.3" y="189.30" font-size="12.3" text-anchor="end" textLength="17.6" lengthAdjust="spacingAndGlyphs">1.5</text>
<line x1="54.7" x2="60.0" y1="130.70" y2="130.70" stroke="#000" stroke-width="1"/>
<text class="tx" x="46.3" y="135.30" font-size="12.3" text-anchor="end" textLength="17.6" lengthAdjust="spacingAndGlyphs">2.0</text>
<line x1="54.7" x2="60.0" y1="76.70" y2="76.70" stroke="#000" stroke-width="1"/>
<text class="tx" x="46.3" y="81.30" font-size="12.3" text-anchor="end" textLength="17.6" lengthAdjust="spacingAndGlyphs">2.5</text>
<text class="tx" x="321.7" y="18" font-size="20.6" text-anchor="middle" textLength="415" lengthAdjust="spacingAndGlyphs">Absolute Difference in States Over Time</text>
<text class="tx" x="321.7" y="392" font-size="16.2" text-anchor="middle" textLength="41" lengthAdjust="spacingAndGlyphs">Time</text>
<text class="tx" transform="translate(16,192.8) rotate(-90)" font-size="16.2" text-anchor="middle" textLength="86" lengthAdjust="spacingAndGlyphs">Difference</text>
<rect x="72.5" y="41.6" width="169" height="26" fill="#fff" stroke="#000" stroke-width="1"/>
<line x1="78" x2="114.8" y1="54.75" y2="54.75" stroke="#0000ff" stroke-width="1.5"/>
<text class="tx" x="118.9" y="58.8" font-size="12.3" textLength="117.4" lengthAdjust="spacingAndGlyphs">Difference in States</text>
</svg>
</body></html>
